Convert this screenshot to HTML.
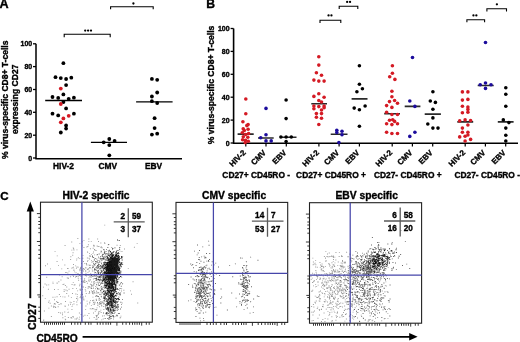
<!DOCTYPE html>
<html><head><meta charset="utf-8"><style>
html,body{margin:0;padding:0;background:#fff;overflow:hidden;width:520px;height:342px;}
svg{display:block;} svg{will-change:transform}
</style></head><body>
<svg width="520" height="342" viewBox="0 0 520 342">
<rect width="520" height="342" fill="#fff"/>
<text x="-0.4" y="8.3" font-size="12.6" font-family="&quot;Liberation Sans&quot;, sans-serif" font-weight="bold" stroke="#000" stroke-width="0.35">A</text>
<path d="M36 43.8V158.7H182" stroke="#000" stroke-width="1.5" fill="none"/>
<path d="M33 158.0H36" stroke="#000" stroke-width="1.3"/>
<text x="32.2" y="160.5" font-size="7" text-anchor="end" font-family="&quot;Liberation Sans&quot;, sans-serif" font-weight="bold" stroke="#000" stroke-width="0.35">0</text>
<path d="M33 135.2H36" stroke="#000" stroke-width="1.3"/>
<text x="32.2" y="137.7" font-size="7" text-anchor="end" font-family="&quot;Liberation Sans&quot;, sans-serif" font-weight="bold" stroke="#000" stroke-width="0.35">20</text>
<path d="M33 112.3H36" stroke="#000" stroke-width="1.3"/>
<text x="32.2" y="114.8" font-size="7" text-anchor="end" font-family="&quot;Liberation Sans&quot;, sans-serif" font-weight="bold" stroke="#000" stroke-width="0.35">40</text>
<path d="M33 89.5H36" stroke="#000" stroke-width="1.3"/>
<text x="32.2" y="92.0" font-size="7" text-anchor="end" font-family="&quot;Liberation Sans&quot;, sans-serif" font-weight="bold" stroke="#000" stroke-width="0.35">60</text>
<path d="M33 66.6H36" stroke="#000" stroke-width="1.3"/>
<text x="32.2" y="69.1" font-size="7" text-anchor="end" font-family="&quot;Liberation Sans&quot;, sans-serif" font-weight="bold" stroke="#000" stroke-width="0.35">80</text>
<path d="M33 43.8H36" stroke="#000" stroke-width="1.3"/>
<text x="32.2" y="46.3" font-size="7" text-anchor="end" font-family="&quot;Liberation Sans&quot;, sans-serif" font-weight="bold" stroke="#000" stroke-width="0.35">100</text>
<text x="63.5" y="169.0" font-size="8.4" text-anchor="middle" font-family="&quot;Liberation Sans&quot;, sans-serif" font-weight="bold" stroke="#000" stroke-width="0.35">HIV-2</text>
<text x="107.8" y="169.0" font-size="8.4" text-anchor="middle" font-family="&quot;Liberation Sans&quot;, sans-serif" font-weight="bold" stroke="#000" stroke-width="0.35">CMV</text>
<text x="153.6" y="169.0" font-size="8.4" text-anchor="middle" font-family="&quot;Liberation Sans&quot;, sans-serif" font-weight="bold" stroke="#000" stroke-width="0.35">EBV</text>
<text transform="translate(7.6,99.8) rotate(-90)" font-size="8.55" text-anchor="middle" font-family="&quot;Liberation Sans&quot;, sans-serif" font-weight="bold" stroke="#000" stroke-width="0.35">% virus-specific CD8+ T-cells</text>
<text transform="translate(17.6,99.3) rotate(-90)" font-size="8.55" text-anchor="middle" font-family="&quot;Liberation Sans&quot;, sans-serif" font-weight="bold" stroke="#000" stroke-width="0.35">expressing CD27</text>
<path d="M64.2 37.2V34.2H110.2V37.2M110.6 9.3V6.7H153.2V9.3" stroke="#000" stroke-width="1.1" fill="none"/>
<circle cx="85.20" cy="30.6" r="1.15"/><circle cx="88.10" cy="30.6" r="1.15"/><circle cx="91.00" cy="30.6" r="1.15"/>
<circle cx="133.40" cy="3.5" r="1.15"/>
<path d="M45.2 100.5H82M90.9 142.3H127M136.1 101.9H172.6" stroke="#000" stroke-width="1.3"/>
<g fill="#000"><circle cx="63.4" cy="63.2" r="1.9"/><circle cx="55.5" cy="77.2" r="1.9"/><circle cx="60.8" cy="78.1" r="1.9"/><circle cx="66.1" cy="79" r="1.9"/><circle cx="71.3" cy="77.7" r="1.9"/><circle cx="66.1" cy="85.1" r="1.9"/><circle cx="63.4" cy="94.4" r="1.9"/><circle cx="52.5" cy="97" r="1.9"/><circle cx="58.2" cy="97.9" r="1.9"/><circle cx="68.7" cy="98.8" r="1.9"/><circle cx="73.9" cy="97.7" r="1.9"/><circle cx="63.4" cy="102" r="1.9"/><circle cx="66.1" cy="108.4" r="1.9"/><circle cx="52.5" cy="113.7" r="1.9"/><circle cx="58.2" cy="115.4" r="1.9"/><circle cx="73.9" cy="113.7" r="1.9"/><circle cx="66.1" cy="125.4" r="1.9"/><circle cx="66.1" cy="128.6" r="1.9"/><circle cx="60.8" cy="132.5" r="1.9"/><circle cx="109.3" cy="139" r="1.9"/><circle cx="103.7" cy="142.3" r="1.9"/><circle cx="114.6" cy="140.9" r="1.9"/><circle cx="109.3" cy="145.1" r="1.9"/><circle cx="109.3" cy="155.3" r="1.9"/><circle cx="151.9" cy="78.9" r="1.9"/><circle cx="157.2" cy="79.8" r="1.9"/><circle cx="157.2" cy="92.5" r="1.9"/><circle cx="151.9" cy="96.5" r="1.9"/><circle cx="151.9" cy="101.2" r="1.9"/><circle cx="157.2" cy="103" r="1.9"/><circle cx="154.6" cy="118.2" r="1.9"/><circle cx="154.6" cy="128.1" r="1.9"/><circle cx="151.9" cy="134.6" r="1.9"/><circle cx="157.2" cy="133.7" r="1.9"/></g>
<g fill="#d41a24"><circle cx="60.8" cy="88.6" r="1.9"/><circle cx="60.8" cy="104" r="1.9"/><circle cx="68.7" cy="115.8" r="1.9"/><circle cx="63.4" cy="118.4" r="1.9"/><circle cx="60.8" cy="122.3" r="1.9"/></g>
<text x="206.2" y="8.3" font-size="12.2" font-family="&quot;Liberation Sans&quot;, sans-serif" font-weight="bold" stroke="#000" stroke-width="0.35">B</text>
<path d="M233.6 28.5V143.2H518" stroke="#000" stroke-width="1.6" fill="none"/>
<path d="M230.6 143.0H233.6" stroke="#000" stroke-width="1.3"/>
<text x="229.6" y="145.5" font-size="7" text-anchor="end" font-family="&quot;Liberation Sans&quot;, sans-serif" font-weight="bold" stroke="#000" stroke-width="0.35">0</text>
<path d="M230.6 120.1H233.6" stroke="#000" stroke-width="1.3"/>
<text x="229.6" y="122.6" font-size="7" text-anchor="end" font-family="&quot;Liberation Sans&quot;, sans-serif" font-weight="bold" stroke="#000" stroke-width="0.35">20</text>
<path d="M230.6 97.2H233.6" stroke="#000" stroke-width="1.3"/>
<text x="229.6" y="99.7" font-size="7" text-anchor="end" font-family="&quot;Liberation Sans&quot;, sans-serif" font-weight="bold" stroke="#000" stroke-width="0.35">40</text>
<path d="M230.6 74.3H233.6" stroke="#000" stroke-width="1.3"/>
<text x="229.6" y="76.8" font-size="7" text-anchor="end" font-family="&quot;Liberation Sans&quot;, sans-serif" font-weight="bold" stroke="#000" stroke-width="0.35">60</text>
<path d="M230.6 51.4H233.6" stroke="#000" stroke-width="1.3"/>
<text x="229.6" y="53.9" font-size="7" text-anchor="end" font-family="&quot;Liberation Sans&quot;, sans-serif" font-weight="bold" stroke="#000" stroke-width="0.35">80</text>
<path d="M230.6 28.5H233.6" stroke="#000" stroke-width="1.3"/>
<text x="229.6" y="31.0" font-size="7" text-anchor="end" font-family="&quot;Liberation Sans&quot;, sans-serif" font-weight="bold" stroke="#000" stroke-width="0.35">100</text>
<text transform="translate(214.4,84.9) rotate(-90)" font-size="8.55" text-anchor="middle" font-family="&quot;Liberation Sans&quot;, sans-serif" font-weight="bold" stroke="#000" stroke-width="0.35">% virus-specific CD8+ T-cells</text>
<path d="M245.8 143V146.5" stroke="#000" stroke-width="1.2"/>
<text transform="translate(246.4,153.2) rotate(-45)" font-size="7.9" text-anchor="end" font-family="&quot;Liberation Sans&quot;, sans-serif" font-weight="bold" stroke="#000" stroke-width="0.35">HIV-2</text>
<path d="M266.0 143V146.5" stroke="#000" stroke-width="1.2"/>
<text transform="translate(266.6,153.2) rotate(-45)" font-size="7.9" text-anchor="end" font-family="&quot;Liberation Sans&quot;, sans-serif" font-weight="bold" stroke="#000" stroke-width="0.35">CMV</text>
<path d="M286.3 143V146.5" stroke="#000" stroke-width="1.2"/>
<text transform="translate(286.9,153.2) rotate(-45)" font-size="7.9" text-anchor="end" font-family="&quot;Liberation Sans&quot;, sans-serif" font-weight="bold" stroke="#000" stroke-width="0.35">EBV</text>
<path d="M318.9 143V146.5" stroke="#000" stroke-width="1.2"/>
<text transform="translate(319.5,153.2) rotate(-45)" font-size="7.9" text-anchor="end" font-family="&quot;Liberation Sans&quot;, sans-serif" font-weight="bold" stroke="#000" stroke-width="0.35">HIV-2</text>
<path d="M339.1 143V146.5" stroke="#000" stroke-width="1.2"/>
<text transform="translate(339.7,153.2) rotate(-45)" font-size="7.9" text-anchor="end" font-family="&quot;Liberation Sans&quot;, sans-serif" font-weight="bold" stroke="#000" stroke-width="0.35">CMV</text>
<path d="M359.4 143V146.5" stroke="#000" stroke-width="1.2"/>
<text transform="translate(360.0,153.2) rotate(-45)" font-size="7.9" text-anchor="end" font-family="&quot;Liberation Sans&quot;, sans-serif" font-weight="bold" stroke="#000" stroke-width="0.35">EBV</text>
<path d="M392.2 143V146.5" stroke="#000" stroke-width="1.2"/>
<text transform="translate(392.8,153.2) rotate(-45)" font-size="7.9" text-anchor="end" font-family="&quot;Liberation Sans&quot;, sans-serif" font-weight="bold" stroke="#000" stroke-width="0.35">HIV-2</text>
<path d="M412.4 143V146.5" stroke="#000" stroke-width="1.2"/>
<text transform="translate(413.0,153.2) rotate(-45)" font-size="7.9" text-anchor="end" font-family="&quot;Liberation Sans&quot;, sans-serif" font-weight="bold" stroke="#000" stroke-width="0.35">CMV</text>
<path d="M432.7 143V146.5" stroke="#000" stroke-width="1.2"/>
<text transform="translate(433.3,153.2) rotate(-45)" font-size="7.9" text-anchor="end" font-family="&quot;Liberation Sans&quot;, sans-serif" font-weight="bold" stroke="#000" stroke-width="0.35">EBV</text>
<path d="M465.2 143V146.5" stroke="#000" stroke-width="1.2"/>
<text transform="translate(465.8,153.2) rotate(-45)" font-size="7.9" text-anchor="end" font-family="&quot;Liberation Sans&quot;, sans-serif" font-weight="bold" stroke="#000" stroke-width="0.35">HIV-2</text>
<path d="M485.4 143V146.5" stroke="#000" stroke-width="1.2"/>
<text transform="translate(486.0,153.2) rotate(-45)" font-size="7.9" text-anchor="end" font-family="&quot;Liberation Sans&quot;, sans-serif" font-weight="bold" stroke="#000" stroke-width="0.35">CMV</text>
<path d="M505.7 143V146.5" stroke="#000" stroke-width="1.2"/>
<text transform="translate(506.3,153.2) rotate(-45)" font-size="7.9" text-anchor="end" font-family="&quot;Liberation Sans&quot;, sans-serif" font-weight="bold" stroke="#000" stroke-width="0.35">EBV</text>
<text x="256.2" y="177.7" font-size="8.4" text-anchor="middle" font-family="&quot;Liberation Sans&quot;, sans-serif" font-weight="bold" stroke="#000" stroke-width="0.35">CD27+ CD45RO -</text>
<text x="331" y="177.7" font-size="8.4" text-anchor="middle" font-family="&quot;Liberation Sans&quot;, sans-serif" font-weight="bold" stroke="#000" stroke-width="0.35">CD27+ CD45RO +</text>
<text x="407.8" y="177.7" font-size="8.4" text-anchor="middle" font-family="&quot;Liberation Sans&quot;, sans-serif" font-weight="bold" stroke="#000" stroke-width="0.35">CD27- CD45RO +</text>
<text x="487.2" y="177.7" font-size="8.4" text-anchor="middle" font-family="&quot;Liberation Sans&quot;, sans-serif" font-weight="bold" stroke="#000" stroke-width="0.35">CD27- CD45RO -</text>
<path d="M320 23.1V20.2H340.8V23.1M339.2 9.1V6.25H357.8V9.1M466.9 22.3V19.7H484.6V22.3M486.9 11.5V8.8H506.5V11.5" stroke="#000" stroke-width="1.1" fill="none"/>
<circle cx="328.55" cy="15.4" r="1.15"/><circle cx="331.45" cy="15.4" r="1.15"/>
<circle cx="347.15" cy="1.9" r="1.15"/><circle cx="350.05" cy="1.9" r="1.15"/>
<circle cx="473.45" cy="15.4" r="1.15"/><circle cx="476.35" cy="15.4" r="1.15"/>
<circle cx="496.90" cy="4.3" r="1.15"/>
<path d="M237.6 133.7H253.7M258 137.6H273.7M281 136.8H296.5M311.3 103.4H327M330.7 133.8H347.5M351.6 98.5H367.5M384.2 113.3H400M404.7 106H420.4M424.7 113.7H440.9M457.3 121.5H473.2M477.7 85.1H493.7M497.8 121.5H513.6" stroke="#2a2a2a" stroke-width="1.6" transform="translate(0,0.4)"/>
<g fill="#d41a24"><circle cx="245.8" cy="99" r="1.8"/><circle cx="245.8" cy="113.8" r="1.8"/><circle cx="242.9" cy="121.7" r="1.8"/><circle cx="248.1" cy="124.6" r="1.8"/><circle cx="246.8" cy="125.6" r="1.8"/><circle cx="243.2" cy="128.7" r="1.8"/><circle cx="248.1" cy="129.3" r="1.8"/><circle cx="244.3" cy="130.5" r="1.8"/><circle cx="242.3" cy="132.8" r="1.8"/><circle cx="245.6" cy="134.5" r="1.8"/><circle cx="248.6" cy="133.5" r="1.8"/><circle cx="243.3" cy="136.8" r="1.8"/><circle cx="247.8" cy="137.2" r="1.8"/><circle cx="242.6" cy="139.8" r="1.8"/><circle cx="245.5" cy="140.2" r="1.8"/><circle cx="248.3" cy="141.2" r="1.8"/><circle cx="245.2" cy="142.6" r="1.8"/><circle cx="318.8" cy="56.7" r="1.8"/><circle cx="318.8" cy="65.1" r="1.8"/><circle cx="316.4" cy="72.7" r="1.8"/><circle cx="321.5" cy="75.3" r="1.8"/><circle cx="313.9" cy="80.1" r="1.8"/><circle cx="318.8" cy="81.1" r="1.8"/><circle cx="324.1" cy="81.1" r="1.8"/><circle cx="318.8" cy="93.8" r="1.8"/><circle cx="313.9" cy="96.4" r="1.8"/><circle cx="324.1" cy="97.2" r="1.8"/><circle cx="318.8" cy="100.5" r="1.8"/><circle cx="321.5" cy="102" r="1.8"/><circle cx="313.9" cy="106" r="1.8"/><circle cx="318.8" cy="106.6" r="1.8"/><circle cx="324.1" cy="106" r="1.8"/><circle cx="313.9" cy="108.7" r="1.8"/><circle cx="321.5" cy="110" r="1.8"/><circle cx="324.1" cy="107.8" r="1.8"/><circle cx="316.4" cy="113.6" r="1.8"/><circle cx="321.5" cy="113.6" r="1.8"/><circle cx="316.4" cy="117.3" r="1.8"/><circle cx="321.5" cy="118.3" r="1.8"/><circle cx="318.8" cy="124.5" r="1.8"/><circle cx="392.4" cy="65.7" r="1.8"/><circle cx="392.4" cy="73.3" r="1.8"/><circle cx="389.7" cy="76.8" r="1.8"/><circle cx="394.9" cy="79.4" r="1.8"/><circle cx="391.9" cy="91.3" r="1.8"/><circle cx="391.9" cy="96.8" r="1.8"/><circle cx="389.5" cy="101.6" r="1.8"/><circle cx="394.6" cy="100.5" r="1.8"/><circle cx="397.5" cy="103.2" r="1.8"/><circle cx="386.6" cy="105.6" r="1.8"/><circle cx="391.9" cy="107.4" r="1.8"/><circle cx="386.6" cy="112.2" r="1.8"/><circle cx="391.9" cy="114.5" r="1.8"/><circle cx="397.5" cy="114.5" r="1.8"/><circle cx="389.5" cy="120.3" r="1.8"/><circle cx="392.7" cy="119.8" r="1.8"/><circle cx="394.6" cy="121.4" r="1.8"/><circle cx="386.6" cy="123.8" r="1.8"/><circle cx="391.9" cy="124.6" r="1.8"/><circle cx="397.5" cy="123.8" r="1.8"/><circle cx="386.6" cy="132.2" r="1.8"/><circle cx="391.9" cy="133.5" r="1.8"/><circle cx="397.5" cy="133.5" r="1.8"/><circle cx="462.4" cy="91.9" r="1.8"/><circle cx="467.9" cy="91.9" r="1.8"/><circle cx="462.4" cy="100.1" r="1.8"/><circle cx="467.9" cy="99.4" r="1.8"/><circle cx="462.4" cy="106.2" r="1.8"/><circle cx="467.9" cy="107" r="1.8"/><circle cx="462.4" cy="112.7" r="1.8"/><circle cx="467.9" cy="112.3" r="1.8"/><circle cx="467.9" cy="109.4" r="1.8"/><circle cx="459.7" cy="120.9" r="1.8"/><circle cx="465.1" cy="119.9" r="1.8"/><circle cx="470.6" cy="120.5" r="1.8"/><circle cx="462.4" cy="128.1" r="1.8"/><circle cx="467.9" cy="125" r="1.8"/><circle cx="462.4" cy="132.2" r="1.8"/><circle cx="467.9" cy="132.2" r="1.8"/><circle cx="459.7" cy="136.9" r="1.8"/><circle cx="465.1" cy="136.3" r="1.8"/><circle cx="467.9" cy="135" r="1.8"/><circle cx="470.6" cy="139.4" r="1.8"/><circle cx="465.1" cy="141" r="1.8"/></g>
<g fill="#1c0c9c"><circle cx="266" cy="108.4" r="1.8"/><circle cx="266" cy="134.7" r="1.8"/><circle cx="260.7" cy="137.7" r="1.8"/><circle cx="266" cy="140.9" r="1.8"/><circle cx="271.2" cy="140.9" r="1.8"/><circle cx="336.8" cy="130.3" r="1.8"/><circle cx="342" cy="131.3" r="1.8"/><circle cx="342" cy="134.8" r="1.8"/><circle cx="338.9" cy="142.6" r="1.8"/><circle cx="336.8" cy="132.5" r="1.8"/><circle cx="412.5" cy="57.5" r="1.8"/><circle cx="409.8" cy="101" r="1.8"/><circle cx="414.9" cy="106.4" r="1.8"/><circle cx="414.9" cy="132.3" r="1.8"/><circle cx="409.8" cy="136.4" r="1.8"/><circle cx="485.5" cy="42.5" r="1.8"/><circle cx="480.2" cy="84.8" r="1.8"/><circle cx="485.5" cy="83" r="1.8"/><circle cx="491" cy="84.8" r="1.8"/><circle cx="485.5" cy="88.4" r="1.8"/></g>
<g fill="#000"><circle cx="286.1" cy="100" r="1.8"/><circle cx="286.1" cy="118.6" r="1.8"/><circle cx="280.9" cy="137" r="1.8"/><circle cx="286.1" cy="137" r="1.8"/><circle cx="291.3" cy="137" r="1.8"/><circle cx="286.1" cy="141.5" r="1.8"/><circle cx="359.4" cy="65.7" r="1.8"/><circle cx="359.4" cy="84.2" r="1.8"/><circle cx="362.4" cy="88.7" r="1.8"/><circle cx="356.9" cy="91.7" r="1.8"/><circle cx="354.2" cy="108.1" r="1.8"/><circle cx="359.4" cy="109.7" r="1.8"/><circle cx="365.1" cy="106" r="1.8"/><circle cx="359.4" cy="126.3" r="1.8"/><circle cx="432.9" cy="91.7" r="1.8"/><circle cx="430.3" cy="101" r="1.8"/><circle cx="435.4" cy="102.4" r="1.8"/><circle cx="432.9" cy="109.3" r="1.8"/><circle cx="432.9" cy="117.9" r="1.8"/><circle cx="427.8" cy="124" r="1.8"/><circle cx="432.9" cy="128.1" r="1.8"/><circle cx="438" cy="128.1" r="1.8"/><circle cx="505.8" cy="87.8" r="1.8"/><circle cx="505.8" cy="94.3" r="1.8"/><circle cx="505.8" cy="106.2" r="1.8"/><circle cx="503.3" cy="119.9" r="1.8"/><circle cx="508.9" cy="122.6" r="1.8"/><circle cx="505.8" cy="128.1" r="1.8"/><circle cx="505.8" cy="135.3" r="1.8"/><circle cx="505.8" cy="141" r="1.8"/></g>
<text x="0.3" y="200.0" font-size="11.6" font-family="&quot;Liberation Sans&quot;, sans-serif" font-weight="bold" stroke="#000" stroke-width="0.35">C</text>
<path d="M30.3 298.2V209" stroke="#000" stroke-width="1.9"/><path d="M30.3 201.4L33.9 211.4H26.7Z" fill="#000"/>
<path d="M82.6 336.8H410" stroke="#000" stroke-width="1.7"/><path d="M417.6 336.8L409.2 333.0V340.6Z" fill="#000"/>
<text transform="translate(36.0,316.7) rotate(-90)" font-size="10.5" text-anchor="middle" font-family="&quot;Liberation Sans&quot;, sans-serif" font-weight="bold" stroke="#000" stroke-width="0.35">CD27</text>
<text x="36.4" y="341.8" font-size="10.2" font-family="&quot;Liberation Sans&quot;, sans-serif" font-weight="bold" stroke="#000" stroke-width="0.35">CD45RO</text>
<text x="96.0" y="198.9" font-size="10.3" text-anchor="middle" font-family="&quot;Liberation Sans&quot;, sans-serif" font-weight="bold" stroke="#000" stroke-width="0.35">HIV-2 specific</text>
<rect x="40.5" y="202.2" width="111.8" height="120.0" fill="none" stroke="#222" stroke-width="1.1"/>
<text x="234.1" y="198.9" font-size="10.3" text-anchor="middle" font-family="&quot;Liberation Sans&quot;, sans-serif" font-weight="bold" stroke="#000" stroke-width="0.35">CMV specific</text>
<rect x="176.0" y="202.4" width="111.7" height="120.0" fill="none" stroke="#222" stroke-width="1.1"/>
<text x="366.7" y="198.9" font-size="10.3" text-anchor="middle" font-family="&quot;Liberation Sans&quot;, sans-serif" font-weight="bold" stroke="#000" stroke-width="0.35">EBV specific</text>
<rect x="309.5" y="202.7" width="112.1" height="120.5" fill="none" stroke="#222" stroke-width="1.1"/>
<path d="M99.9 299.2h.9v.9h-.9zM102.7 252.7h.9v.9h-.9zM95.7 261.9h.9v.9h-.9zM84.1 268.9h.9v.9h-.9zM91.3 274.1h.9v.9h-.9zM93.1 286.7h.9v.9h-.9zM109.1 287.1h.9v.9h-.9zM113.5 269.2h.9v.9h-.9zM99.0 267.9h.9v.9h-.9zM85.0 274.6h.9v.9h-.9zM85.2 287.2h.9v.9h-.9zM91.7 285.2h.9v.9h-.9zM110.7 265.7h.9v.9h-.9zM98.0 241.1h.9v.9h-.9zM93.3 308.3h.9v.9h-.9zM84.8 289.2h.9v.9h-.9zM104.6 278.2h.9v.9h-.9zM97.5 279.4h.9v.9h-.9zM93.4 265.7h.9v.9h-.9zM95.2 258.0h.9v.9h-.9zM114.2 268.7h.9v.9h-.9zM92.1 270.4h.9v.9h-.9zM114.3 264.0h.9v.9h-.9zM108.9 250.7h.9v.9h-.9zM94.6 269.0h.9v.9h-.9zM104.6 283.2h.9v.9h-.9zM92.5 266.1h.9v.9h-.9zM84.1 274.4h.9v.9h-.9zM90.8 240.9h.9v.9h-.9zM83.1 270.7h.9v.9h-.9zM100.1 272.0h.9v.9h-.9zM94.2 254.4h.9v.9h-.9zM100.8 246.3h.9v.9h-.9zM103.9 280.6h.9v.9h-.9zM56.6 261.0h.9v.9h-.9zM97.7 281.8h.9v.9h-.9zM72.4 267.3h.9v.9h-.9zM96.0 284.0h.9v.9h-.9zM83.5 268.6h.9v.9h-.9zM95.3 249.9h.9v.9h-.9zM110.4 272.6h.9v.9h-.9zM73.5 268.7h.9v.9h-.9zM96.3 284.5h.9v.9h-.9zM93.1 266.8h.9v.9h-.9zM71.3 267.7h.9v.9h-.9zM101.8 287.8h.9v.9h-.9zM94.4 292.7h.9v.9h-.9zM87.9 286.2h.9v.9h-.9zM85.3 290.6h.9v.9h-.9zM132.6 281.3h.9v.9h-.9zM89.3 286.3h.9v.9h-.9zM72.4 288.1h.9v.9h-.9zM82.8 280.5h.9v.9h-.9zM89.6 275.0h.9v.9h-.9zM89.4 276.3h.9v.9h-.9zM93.1 312.5h.9v.9h-.9zM81.4 274.2h.9v.9h-.9zM100.5 270.2h.9v.9h-.9zM88.2 268.2h.9v.9h-.9zM77.7 273.5h.9v.9h-.9zM84.2 277.9h.9v.9h-.9zM89.4 255.9h.9v.9h-.9zM104.2 242.3h.9v.9h-.9zM99.8 278.7h.9v.9h-.9zM89.9 248.3h.9v.9h-.9zM94.2 278.1h.9v.9h-.9zM96.6 276.2h.9v.9h-.9zM118.5 292.4h.9v.9h-.9zM86.6 300.7h.9v.9h-.9zM99.6 279.9h.9v.9h-.9zM102.7 265.1h.9v.9h-.9zM82.6 255.2h.9v.9h-.9zM96.3 261.3h.9v.9h-.9zM96.0 274.6h.9v.9h-.9zM88.4 240.9h.9v.9h-.9zM100.8 275.2h.9v.9h-.9zM106.3 273.8h.9v.9h-.9zM107.6 284.3h.9v.9h-.9zM91.7 268.6h.9v.9h-.9zM96.3 275.6h.9v.9h-.9zM122.2 262.2h.9v.9h-.9zM80.8 266.6h.9v.9h-.9zM96.7 245.6h.9v.9h-.9zM104.7 276.0h.9v.9h-.9zM95.8 298.8h.9v.9h-.9zM101.9 276.6h.9v.9h-.9zM96.1 279.9h.9v.9h-.9zM103.0 258.3h.9v.9h-.9zM109.4 296.9h.9v.9h-.9zM91.3 261.7h.9v.9h-.9zM96.4 286.8h.9v.9h-.9zM93.3 275.7h.9v.9h-.9zM89.2 258.7h.9v.9h-.9zM93.8 290.4h.9v.9h-.9zM80.4 274.2h.9v.9h-.9zM102.9 276.9h.9v.9h-.9zM114.4 281.2h.9v.9h-.9zM114.5 273.7h.9v.9h-.9zM109.3 267.9h.9v.9h-.9zM82.4 281.5h.9v.9h-.9zM112.2 267.5h.9v.9h-.9zM85.4 275.0h.9v.9h-.9zM93.4 263.3h.9v.9h-.9zM116.2 250.2h.9v.9h-.9zM81.1 263.2h.9v.9h-.9zM104.1 266.1h.9v.9h-.9zM97.4 274.2h.9v.9h-.9zM92.2 293.0h.9v.9h-.9zM83.5 247.0h.9v.9h-.9zM99.1 276.1h.9v.9h-.9zM88.4 238.6h.9v.9h-.9zM106.5 257.3h.9v.9h-.9zM108.7 265.9h.9v.9h-.9zM77.4 238.0h.9v.9h-.9zM87.9 244.3h.9v.9h-.9zM90.2 276.5h.9v.9h-.9zM79.8 275.2h.9v.9h-.9zM80.6 272.2h.9v.9h-.9zM95.1 261.1h.9v.9h-.9zM91.5 308.5h.9v.9h-.9zM74.2 271.4h.9v.9h-.9zM87.5 260.2h.9v.9h-.9zM100.2 300.9h.9v.9h-.9zM79.5 283.8h.9v.9h-.9zM82.9 268.1h.9v.9h-.9zM113.1 293.1h.9v.9h-.9zM109.8 276.5h.9v.9h-.9zM74.5 284.3h.9v.9h-.9zM77.8 277.8h.9v.9h-.9zM98.5 257.5h.9v.9h-.9zM79.7 289.5h.9v.9h-.9zM91.0 276.6h.9v.9h-.9zM88.6 257.8h.9v.9h-.9zM100.7 261.8h.9v.9h-.9zM63.7 289.3h.9v.9h-.9zM67.6 268.1h.9v.9h-.9zM79.3 274.7h.9v.9h-.9zM106.2 284.5h.9v.9h-.9zM92.1 276.1h.9v.9h-.9zM73.5 249.6h.9v.9h-.9zM99.9 284.2h.9v.9h-.9zM102.5 289.0h.9v.9h-.9zM91.0 287.9h.9v.9h-.9zM90.0 299.9h.9v.9h-.9zM99.3 279.8h.9v.9h-.9zM108.5 286.4h.9v.9h-.9zM95.8 299.4h.9v.9h-.9zM100.4 269.3h.9v.9h-.9zM93.4 301.8h.9v.9h-.9zM89.4 301.8h.9v.9h-.9zM83.0 286.5h.9v.9h-.9zM97.1 303.4h.9v.9h-.9zM90.4 287.6h.9v.9h-.9zM91.1 259.9h.9v.9h-.9zM105.2 292.2h.9v.9h-.9zM99.9 279.2h.9v.9h-.9zM104.4 280.6h.9v.9h-.9zM75.1 276.5h.9v.9h-.9zM100.7 295.8h.9v.9h-.9zM86.9 282.8h.9v.9h-.9zM84.3 262.9h.9v.9h-.9zM83.8 281.8h.9v.9h-.9zM108.5 285.7h.9v.9h-.9zM103.9 262.4h.9v.9h-.9zM85.4 267.1h.9v.9h-.9zM80.3 267.9h.9v.9h-.9zM94.2 264.3h.9v.9h-.9zM88.5 279.6h.9v.9h-.9zM113.9 290.3h.9v.9h-.9zM76.5 304.3h.9v.9h-.9zM72.0 293.1h.9v.9h-.9zM90.9 290.4h.9v.9h-.9zM94.1 292.3h.9v.9h-.9zM95.6 295.4h.9v.9h-.9zM103.0 268.0h.9v.9h-.9zM118.9 285.1h.9v.9h-.9zM89.9 279.2h.9v.9h-.9zM87.5 271.9h.9v.9h-.9zM72.9 266.7h.9v.9h-.9zM96.9 265.9h.9v.9h-.9zM104.2 269.7h.9v.9h-.9zM90.9 254.2h.9v.9h-.9zM108.2 282.3h.9v.9h-.9zM94.4 273.6h.9v.9h-.9zM112.2 275.7h.9v.9h-.9zM98.0 279.4h.9v.9h-.9zM81.3 285.6h.9v.9h-.9zM86.4 264.5h.9v.9h-.9zM75.6 272.3h.9v.9h-.9zM73.2 248.3h.9v.9h-.9zM97.2 238.5h.9v.9h-.9zM104.4 243.0h.9v.9h-.9zM117.5 298.6h.9v.9h-.9zM93.3 244.8h.9v.9h-.9zM91.2 281.6h.9v.9h-.9zM80.7 297.6h.9v.9h-.9zM105.8 266.7h.9v.9h-.9zM98.7 300.1h.9v.9h-.9zM86.9 303.6h.9v.9h-.9zM102.3 289.1h.9v.9h-.9zM100.7 312.0h.9v.9h-.9zM71.6 284.0h.9v.9h-.9zM102.9 262.3h.9v.9h-.9zM95.6 282.4h.9v.9h-.9zM89.3 266.9h.9v.9h-.9zM89.0 253.2h.9v.9h-.9zM115.0 253.6h.9v.9h-.9zM112.4 311.1h.9v.9h-.9zM115.9 265.4h.9v.9h-.9zM80.2 273.7h.9v.9h-.9zM86.1 263.5h.9v.9h-.9zM104.9 276.3h.9v.9h-.9zM79.5 270.3h.9v.9h-.9zM85.4 267.6h.9v.9h-.9zM72.3 254.8h.9v.9h-.9zM116.2 251.6h.9v.9h-.9zM106.8 262.3h.9v.9h-.9zM99.5 278.9h.9v.9h-.9zM96.6 307.4h.9v.9h-.9zM89.0 291.1h.9v.9h-.9zM89.2 303.4h.9v.9h-.9zM101.4 282.0h.9v.9h-.9zM85.5 272.8h.9v.9h-.9zM108.7 253.0h.9v.9h-.9zM88.1 274.3h.9v.9h-.9zM83.5 239.9h.9v.9h-.9zM109.6 269.5h.9v.9h-.9zM92.3 300.3h.9v.9h-.9zM100.7 279.5h.9v.9h-.9zM89.0 292.3h.9v.9h-.9zM67.0 268.2h.9v.9h-.9zM100.6 252.3h.9v.9h-.9zM77.8 266.7h.9v.9h-.9zM107.0 268.0h.9v.9h-.9zM75.4 293.6h.9v.9h-.9zM71.6 305.9h.9v.9h-.9zM97.7 262.5h.9v.9h-.9zM99.1 268.6h.9v.9h-.9zM95.3 272.0h.9v.9h-.9zM79.4 268.8h.9v.9h-.9zM104.7 254.5h.9v.9h-.9zM76.4 275.9h.9v.9h-.9zM88.4 280.2h.9v.9h-.9zM84.5 280.6h.9v.9h-.9zM89.5 255.1h.9v.9h-.9zM104.2 272.6h.9v.9h-.9zM86.4 246.6h.9v.9h-.9zM100.8 289.0h.9v.9h-.9zM102.3 258.1h.9v.9h-.9zM73.5 270.0h.9v.9h-.9zM80.0 267.2h.9v.9h-.9zM89.4 265.1h.9v.9h-.9zM86.9 257.5h.9v.9h-.9zM97.7 246.2h.9v.9h-.9zM70.8 302.2h.9v.9h-.9zM102.6 278.5h.9v.9h-.9zM102.9 278.7h.9v.9h-.9zM92.0 308.1h.9v.9h-.9zM77.4 272.9h.9v.9h-.9zM94.1 283.3h.9v.9h-.9zM87.6 274.8h.9v.9h-.9zM100.8 293.5h.9v.9h-.9zM93.0 282.5h.9v.9h-.9zM102.7 279.5h.9v.9h-.9zM88.8 270.4h.9v.9h-.9zM111.3 279.0h.9v.9h-.9zM66.3 293.1h.9v.9h-.9zM81.8 241.3h.9v.9h-.9zM99.9 272.4h.9v.9h-.9zM75.9 267.8h.9v.9h-.9zM102.8 269.7h.9v.9h-.9zM79.4 242.9h.9v.9h-.9zM95.1 286.2h.9v.9h-.9zM83.0 261.0h.9v.9h-.9zM88.7 270.9h.9v.9h-.9zM96.1 266.5h.9v.9h-.9zM92.7 247.8h.9v.9h-.9zM89.4 267.4h.9v.9h-.9zM119.8 245.1h.9v.9h-.9zM94.1 259.4h.9v.9h-.9zM82.4 269.5h.9v.9h-.9zM105.1 274.5h.9v.9h-.9zM103.8 275.4h.9v.9h-.9zM108.7 272.3h.9v.9h-.9zM115.4 308.7h.9v.9h-.9zM82.7 281.5h.9v.9h-.9zM106.7 255.0h.9v.9h-.9zM107.7 264.7h.9v.9h-.9zM94.0 264.0h.9v.9h-.9zM96.9 271.7h.9v.9h-.9zM58.0 264.9h.9v.9h-.9zM87.1 260.8h.9v.9h-.9zM115.5 300.9h.9v.9h-.9zM72.6 275.2h.9v.9h-.9zM87.6 269.1h.9v.9h-.9zM97.5 270.5h.9v.9h-.9zM100.9 271.1h.9v.9h-.9zM113.6 296.8h.9v.9h-.9zM72.8 282.2h.9v.9h-.9zM94.5 292.5h.9v.9h-.9zM104.3 224.7h.9v.9h-.9zM78.2 279.8h.9v.9h-.9zM93.5 291.5h.9v.9h-.9zM116.6 306.1h.9v.9h-.9zM109.8 275.0h.9v.9h-.9zM100.5 247.1h.9v.9h-.9zM62.6 284.0h.9v.9h-.9zM92.4 265.0h.9v.9h-.9zM98.6 245.9h.9v.9h-.9zM90.3 264.7h.9v.9h-.9zM93.2 291.5h.9v.9h-.9zM131.0 293.8h.9v.9h-.9zM91.4 286.1h.9v.9h-.9zM82.4 257.8h.9v.9h-.9zM96.9 314.8h.9v.9h-.9zM90.2 255.9h.9v.9h-.9zM90.3 273.3h.9v.9h-.9zM93.0 251.5h.9v.9h-.9zM103.3 295.7h.9v.9h-.9zM96.9 281.7h.9v.9h-.9zM79.6 288.8h.9v.9h-.9zM92.4 276.0h.9v.9h-.9zM99.7 273.5h.9v.9h-.9zM88.4 277.4h.9v.9h-.9zM107.8 244.4h.9v.9h-.9zM103.3 290.5h.9v.9h-.9zM82.1 289.2h.9v.9h-.9zM97.8 268.4h.9v.9h-.9zM117.8 274.4h.9v.9h-.9zM112.7 279.4h.9v.9h-.9zM93.3 299.8h.9v.9h-.9zM104.8 281.6h.9v.9h-.9zM85.9 275.3h.9v.9h-.9zM76.6 266.5h.9v.9h-.9zM100.7 250.6h.9v.9h-.9zM97.0 265.1h.9v.9h-.9zM100.2 275.8h.9v.9h-.9zM93.7 270.6h.9v.9h-.9zM97.9 275.9h.9v.9h-.9zM87.8 286.6h.9v.9h-.9zM99.7 281.7h.9v.9h-.9zM104.0 279.1h.9v.9h-.9zM93.3 285.2h.9v.9h-.9zM103.8 277.7h.9v.9h-.9zM72.7 274.2h.9v.9h-.9zM84.6 282.2h.9v.9h-.9zM111.3 247.1h.9v.9h-.9zM115.1 294.8h.9v.9h-.9zM97.0 254.1h.9v.9h-.9zM92.8 288.1h.9v.9h-.9zM78.8 275.0h.9v.9h-.9zM98.4 292.5h.9v.9h-.9zM103.3 275.3h.9v.9h-.9zM76.2 259.7h.9v.9h-.9zM100.7 291.9h.9v.9h-.9zM99.9 277.7h.9v.9h-.9zM99.3 276.7h.9v.9h-.9zM80.5 276.1h.9v.9h-.9zM100.5 290.8h.9v.9h-.9zM76.0 287.9h.9v.9h-.9zM111.9 278.5h.9v.9h-.9zM95.6 250.0h.9v.9h-.9zM80.0 268.3h.9v.9h-.9zM110.1 276.5h.9v.9h-.9zM107.8 303.5h.9v.9h-.9zM86.2 281.0h.9v.9h-.9zM120.4 273.4h.9v.9h-.9zM82.0 294.0h.9v.9h-.9zM97.8 273.1h.9v.9h-.9zM108.2 274.4h.9v.9h-.9zM66.8 277.4h.9v.9h-.9zM106.0 250.9h.9v.9h-.9zM93.2 290.2h.9v.9h-.9zM93.8 281.7h.9v.9h-.9zM81.1 270.3h.9v.9h-.9zM98.0 256.6h.9v.9h-.9zM80.7 278.3h.9v.9h-.9zM82.4 297.3h.9v.9h-.9zM88.6 264.6h.9v.9h-.9zM79.3 257.9h.9v.9h-.9zM107.2 293.6h.9v.9h-.9zM76.5 249.4h.9v.9h-.9zM85.9 263.0h.9v.9h-.9zM99.5 279.8h.9v.9h-.9zM72.1 304.4h.9v.9h-.9zM79.6 296.9h.9v.9h-.9zM92.7 303.7h.9v.9h-.9zM72.8 247.4h.9v.9h-.9zM59.2 274.7h.9v.9h-.9zM116.1 296.2h.9v.9h-.9zM56.9 302.0h.9v.9h-.9zM121.2 288.3h.9v.9h-.9zM111.9 272.1h.9v.9h-.9zM84.0 279.6h.9v.9h-.9zM113.0 307.9h.9v.9h-.9zM50.9 305.6h.9v.9h-.9zM92.5 274.6h.9v.9h-.9zM76.8 317.6h.9v.9h-.9zM72.6 252.3h.9v.9h-.9zM115.2 273.5h.9v.9h-.9zM47.9 288.8h.9v.9h-.9zM113.0 310.2h.9v.9h-.9zM52.5 296.8h.9v.9h-.9zM100.6 303.2h.9v.9h-.9zM71.4 317.6h.9v.9h-.9zM89.9 283.8h.9v.9h-.9zM117.2 268.7h.9v.9h-.9zM108.7 286.8h.9v.9h-.9zM54.6 296.7h.9v.9h-.9zM73.0 264.0h.9v.9h-.9zM87.1 251.4h.9v.9h-.9zM103.3 306.0h.9v.9h-.9zM43.3 319.5h.9v.9h-.9zM113.2 316.7h.9v.9h-.9zM111.7 284.5h.9v.9h-.9zM119.2 289.8h.9v.9h-.9zM64.3 311.5h.9v.9h-.9zM65.2 319.3h.9v.9h-.9zM111.1 283.1h.9v.9h-.9zM89.0 317.7h.9v.9h-.9zM68.0 304.5h.9v.9h-.9zM45.1 265.3h.9v.9h-.9zM65.5 289.6h.9v.9h-.9zM100.4 242.5h.9v.9h-.9zM104.4 286.7h.9v.9h-.9zM76.9 294.2h.9v.9h-.9zM116.7 309.9h.9v.9h-.9zM88.7 281.2h.9v.9h-.9zM89.2 301.8h.9v.9h-.9zM80.0 302.5h.9v.9h-.9zM80.7 294.3h.9v.9h-.9zM77.2 299.7h.9v.9h-.9zM110.6 290.2h.9v.9h-.9zM83.5 299.5h.9v.9h-.9zM66.8 290.3h.9v.9h-.9zM83.1 315.7h.9v.9h-.9zM117.2 261.6h.9v.9h-.9zM97.9 313.3h.9v.9h-.9zM55.2 307.1h.9v.9h-.9zM81.9 245.4h.9v.9h-.9zM85.5 305.6h.9v.9h-.9zM44.6 283.5h.9v.9h-.9zM119.5 293.2h.9v.9h-.9zM116.6 293.9h.9v.9h-.9zM54.8 306.5h.9v.9h-.9zM91.8 291.9h.9v.9h-.9zM73.5 301.0h.9v.9h-.9zM65.1 272.2h.9v.9h-.9zM70.4 256.3h.9v.9h-.9zM49.7 302.8h.9v.9h-.9zM101.3 319.4h.9v.9h-.9zM77.9 257.3h.9v.9h-.9zM102.1 315.6h.9v.9h-.9zM109.9 285.1h.9v.9h-.9zM93.2 302.0h.9v.9h-.9zM76.0 276.1h.9v.9h-.9zM58.6 304.1h.9v.9h-.9zM98.8 288.6h.9v.9h-.9zM100.4 309.7h.9v.9h-.9zM107.7 277.0h.9v.9h-.9zM58.4 281.3h.9v.9h-.9zM48.8 300.4h.9v.9h-.9zM114.2 260.7h.9v.9h-.9zM95.6 318.8h.9v.9h-.9zM54.1 299.3h.9v.9h-.9zM102.8 318.7h.9v.9h-.9zM50.0 268.4h.9v.9h-.9zM97.4 305.1h.9v.9h-.9zM91.9 270.6h.9v.9h-.9zM103.2 258.0h.9v.9h-.9zM54.1 289.1h.9v.9h-.9zM116.1 290.9h.9v.9h-.9zM118.2 296.4h.9v.9h-.9zM121.0 290.6h.9v.9h-.9zM106.6 270.1h.9v.9h-.9zM73.5 303.6h.9v.9h-.9zM120.6 276.1h.9v.9h-.9zM96.2 278.1h.9v.9h-.9zM103.4 309.0h.9v.9h-.9zM99.5 303.6h.9v.9h-.9zM64.7 306.1h.9v.9h-.9zM112.5 316.2h.9v.9h-.9zM98.5 312.7h.9v.9h-.9zM65.9 272.2h.9v.9h-.9zM78.7 318.8h.9v.9h-.9zM58.9 294.0h.9v.9h-.9zM82.9 296.4h.9v.9h-.9zM121.3 277.2h.9v.9h-.9zM79.2 285.3h.9v.9h-.9zM80.1 296.3h.9v.9h-.9zM109.1 250.4h.9v.9h-.9zM52.9 305.7h.9v.9h-.9zM56.6 282.5h.9v.9h-.9zM105.3 304.1h.9v.9h-.9zM57.7 306.3h.9v.9h-.9zM96.0 300.0h.9v.9h-.9zM110.0 256.9h.9v.9h-.9zM92.5 296.7h.9v.9h-.9zM52.6 282.9h.9v.9h-.9zM64.6 305.4h.9v.9h-.9zM90.9 305.2h.9v.9h-.9zM119.0 292.9h.9v.9h-.9zM98.9 306.3h.9v.9h-.9zM101.9 265.0h.9v.9h-.9zM94.8 310.8h.9v.9h-.9zM74.6 318.5h.9v.9h-.9zM95.7 315.1h.9v.9h-.9zM43.9 310.6h.9v.9h-.9zM81.5 286.5h.9v.9h-.9zM109.7 316.7h.9v.9h-.9zM64.5 296.6h.9v.9h-.9zM98.6 271.8h.9v.9h-.9zM103.5 295.4h.9v.9h-.9zM60.1 312.6h.9v.9h-.9zM112.8 303.4h.9v.9h-.9zM67.9 311.7h.9v.9h-.9zM119.6 250.7h.9v.9h-.9zM76.1 318.5h.9v.9h-.9zM96.0 316.2h.9v.9h-.9zM118.7 293.0h.9v.9h-.9zM110.3 316.3h.9v.9h-.9zM86.9 268.8h.9v.9h-.9zM63.6 283.7h.9v.9h-.9zM96.2 267.5h.9v.9h-.9zM94.3 302.9h.9v.9h-.9zM50.9 316.0h.9v.9h-.9zM79.1 316.7h.9v.9h-.9zM116.9 257.6h.9v.9h-.9zM89.8 308.3h.9v.9h-.9zM62.4 296.4h.9v.9h-.9zM98.3 272.3h.9v.9h-.9zM84.5 314.8h.9v.9h-.9zM116.4 294.6h.9v.9h-.9zM87.2 251.9h.9v.9h-.9zM46.3 284.5h.9v.9h-.9zM60.6 303.6h.9v.9h-.9zM61.9 312.6h.9v.9h-.9zM118.9 270.4h.9v.9h-.9zM77.3 298.4h.9v.9h-.9zM76.4 258.4h.9v.9h-.9zM120.5 315.7h.9v.9h-.9zM64.6 245.0h.9v.9h-.9zM96.7 318.6h.9v.9h-.9zM118.6 296.8h.9v.9h-.9zM116.2 307.4h.9v.9h-.9zM60.5 302.9h.9v.9h-.9zM85.8 293.1h.9v.9h-.9zM68.6 288.8h.9v.9h-.9zM102.1 271.2h.9v.9h-.9zM68.1 277.8h.9v.9h-.9zM62.0 259.4h.9v.9h-.9zM70.2 276.3h.9v.9h-.9zM57.7 302.0h.9v.9h-.9zM103.3 296.0h.9v.9h-.9zM70.9 296.9h.9v.9h-.9zM80.4 294.6h.9v.9h-.9zM70.5 317.4h.9v.9h-.9zM78.9 312.6h.9v.9h-.9zM73.0 276.0h.9v.9h-.9zM76.8 296.3h.9v.9h-.9zM102.8 318.5h.9v.9h-.9zM61.7 276.3h.9v.9h-.9zM101.2 304.7h.9v.9h-.9zM76.3 301.6h.9v.9h-.9zM54.0 302.9h.9v.9h-.9zM56.6 296.3h.9v.9h-.9zM115.6 306.8h.9v.9h-.9zM48.3 284.4h.9v.9h-.9zM70.6 316.9h.9v.9h-.9zM113.1 296.9h.9v.9h-.9zM52.5 281.7h.9v.9h-.9zM65.0 301.1h.9v.9h-.9zM70.0 303.8h.9v.9h-.9zM111.3 316.1h.9v.9h-.9zM56.3 301.0h.9v.9h-.9zM118.5 294.2h.9v.9h-.9zM56.7 282.8h.9v.9h-.9zM92.7 287.9h.9v.9h-.9zM107.1 277.8h.9v.9h-.9zM92.2 300.1h.9v.9h-.9zM88.5 313.1h.9v.9h-.9zM83.3 298.5h.9v.9h-.9zM68.6 270.7h.9v.9h-.9zM121.5 251.0h.9v.9h-.9zM80.7 314.0h.9v.9h-.9zM97.9 278.5h.9v.9h-.9zM93.9 304.0h.9v.9h-.9zM119.5 317.4h.9v.9h-.9zM67.9 317.1h.9v.9h-.9zM60.0 296.2h.9v.9h-.9zM115.5 315.8h.9v.9h-.9zM88.6 286.4h.9v.9h-.9zM98.1 317.1h.9v.9h-.9zM96.9 303.4h.9v.9h-.9zM107.7 257.6h.9v.9h-.9zM111.4 310.6h.9v.9h-.9zM102.2 266.7h.9v.9h-.9zM43.1 319.9h.9v.9h-.9zM111.4 253.2h.9v.9h-.9zM48.4 307.7h.9v.9h-.9zM112.8 265.9h.9v.9h-.9zM42.3 295.3h.9v.9h-.9zM107.2 284.2h.9v.9h-.9zM97.9 313.9h.9v.9h-.9zM46.3 276.8h.9v.9h-.9zM105.8 305.7h.9v.9h-.9zM93.7 317.1h.9v.9h-.9zM56.8 255.4h.9v.9h-.9zM114.0 305.4h.9v.9h-.9zM94.5 258.1h.9v.9h-.9zM85.2 308.9h.9v.9h-.9zM118.5 312.9h.9v.9h-.9zM64.4 264.5h.9v.9h-.9zM62.0 314.3h.9v.9h-.9zM115.0 288.8h.9v.9h-.9zM60.5 279.5h.9v.9h-.9zM110.1 318.3h.9v.9h-.9zM64.9 285.1h.9v.9h-.9zM109.9 271.3h.9v.9h-.9zM81.1 281.1h.9v.9h-.9zM96.4 315.3h.9v.9h-.9zM95.7 319.2h.9v.9h-.9zM80.0 289.9h.9v.9h-.9zM89.3 292.4h.9v.9h-.9zM98.6 298.8h.9v.9h-.9zM58.3 312.0h.9v.9h-.9zM116.6 244.8h.9v.9h-.9zM110.5 309.7h.9v.9h-.9zM64.8 318.7h.9v.9h-.9zM66.3 286.5h.9v.9h-.9zM80.0 288.7h.9v.9h-.9zM107.0 318.0h.9v.9h-.9zM89.2 286.6h.9v.9h-.9zM73.7 284.5h.9v.9h-.9zM106.8 313.0h.9v.9h-.9zM63.7 291.1h.9v.9h-.9zM102.7 301.6h.9v.9h-.9zM105.8 277.8h.9v.9h-.9zM54.9 303.5h.9v.9h-.9zM93.0 283.9h.9v.9h-.9zM94.7 309.1h.9v.9h-.9zM120.2 292.3h.9v.9h-.9zM72.4 316.1h.9v.9h-.9zM85.0 295.7h.9v.9h-.9zM117.9 313.0h.9v.9h-.9zM57.7 288.9h.9v.9h-.9zM115.3 302.9h.9v.9h-.9zM77.8 276.2h.9v.9h-.9zM76.0 298.1h.9v.9h-.9zM121.7 302.5h.9v.9h-.9zM79.7 269.6h.9v.9h-.9zM68.2 295.5h.9v.9h-.9zM64.7 316.2h.9v.9h-.9zM101.8 270.6h.9v.9h-.9zM97.7 292.0h.9v.9h-.9zM67.5 311.9h.9v.9h-.9zM87.6 287.9h.9v.9h-.9zM71.4 249.7h.9v.9h-.9zM111.4 294.4h.9v.9h-.9zM77.2 290.4h.9v.9h-.9zM96.3 316.5h.9v.9h-.9zM116.4 302.6h.9v.9h-.9zM67.4 308.7h.9v.9h-.9zM118.9 283.9h.9v.9h-.9zM86.9 314.9h.9v.9h-.9zM98.0 311.5h.9v.9h-.9zM70.2 259.0h.9v.9h-.9zM101.8 302.4h.9v.9h-.9zM103.8 315.3h.9v.9h-.9zM94.6 301.8h.9v.9h-.9zM113.1 318.6h.9v.9h-.9zM85.9 275.7h.9v.9h-.9zM44.8 298.2h.9v.9h-.9zM116.4 294.9h.9v.9h-.9zM92.9 278.5h.9v.9h-.9zM96.2 309.0h.9v.9h-.9zM95.1 288.3h.9v.9h-.9zM48.2 301.8h.9v.9h-.9zM71.5 309.0h.9v.9h-.9zM53.6 306.1h.9v.9h-.9zM98.7 260.1h.9v.9h-.9zM112.6 254.1h.9v.9h-.9zM99.4 311.0h.9v.9h-.9zM109.8 301.8h.9v.9h-.9zM75.2 265.4h.9v.9h-.9zM47.0 263.5h.9v.9h-.9zM81.2 292.6h.9v.9h-.9zM61.3 268.4h.9v.9h-.9zM73.0 316.6h.9v.9h-.9zM67.4 272.6h.9v.9h-.9zM62.4 317.3h.9v.9h-.9zM101.3 305.5h.9v.9h-.9zM95.0 296.2h.9v.9h-.9zM110.4 303.0h.9v.9h-.9zM121.0 304.1h.9v.9h-.9zM67.3 277.7h.9v.9h-.9zM118.0 292.0h.9v.9h-.9zM106.7 255.7h.9v.9h-.9zM92.5 252.9h.9v.9h-.9zM120.2 317.3h.9v.9h-.9zM133.9 246.8h.9v.9h-.9zM123.4 289.8h.9v.9h-.9zM53.2 306.9h.9v.9h-.9zM109.4 264.0h.9v.9h-.9zM119.2 276.9h.9v.9h-.9zM88.5 293.2h.9v.9h-.9zM82.8 281.5h.9v.9h-.9zM120.4 270.6h.9v.9h-.9zM43.1 286.7h.9v.9h-.9zM92.8 293.3h.9v.9h-.9zM69.7 301.7h.9v.9h-.9zM89.9 279.6h.9v.9h-.9zM101.7 288.8h.9v.9h-.9zM87.4 246.0h.9v.9h-.9zM136.7 242.9h.9v.9h-.9zM137.3 302.5h.9v.9h-.9zM124.0 248.6h.9v.9h-.9zM127.8 268.2h.9v.9h-.9zM96.1 309.4h.9v.9h-.9zM71.3 241.5h.9v.9h-.9zM130.1 290.4h.9v.9h-.9zM54.6 250.9h.9v.9h-.9zM106.2 285.6h.9v.9h-.9zM110.4 303.1h.9v.9h-.9zM53.8 303.5h.9v.9h-.9z" fill="#111" fill-opacity=".45"/>
<path d="M105.9 286.5h.9v.9h-.9zM122.1 299.2h.9v.9h-.9zM109.5 316.0h.9v.9h-.9zM111.3 307.3h.9v.9h-.9zM105.3 304.3h.9v.9h-.9zM108.3 303.9h.9v.9h-.9zM104.7 299.1h.9v.9h-.9zM114.9 307.6h.9v.9h-.9zM109.3 296.4h.9v.9h-.9zM113.0 293.8h.9v.9h-.9zM107.4 299.0h.9v.9h-.9zM108.2 307.1h.9v.9h-.9zM116.3 301.3h.9v.9h-.9zM106.1 304.7h.9v.9h-.9zM102.4 277.8h.9v.9h-.9zM112.3 309.9h.9v.9h-.9zM108.5 311.3h.9v.9h-.9zM114.6 294.8h.9v.9h-.9zM106.8 289.5h.9v.9h-.9zM114.5 300.8h.9v.9h-.9zM107.4 288.1h.9v.9h-.9zM117.2 305.3h.9v.9h-.9zM116.5 292.7h.9v.9h-.9zM108.4 307.6h.9v.9h-.9zM109.5 311.6h.9v.9h-.9zM106.8 277.7h.9v.9h-.9zM111.4 300.9h.9v.9h-.9zM115.7 291.0h.9v.9h-.9zM104.0 283.9h.9v.9h-.9zM114.6 291.8h.9v.9h-.9zM104.5 295.8h.9v.9h-.9zM106.6 308.3h.9v.9h-.9zM102.5 282.8h.9v.9h-.9zM120.0 308.5h.9v.9h-.9zM110.8 318.2h.9v.9h-.9zM111.6 304.0h.9v.9h-.9zM107.5 303.5h.9v.9h-.9zM115.3 297.9h.9v.9h-.9zM101.0 286.2h.9v.9h-.9zM110.6 303.3h.9v.9h-.9zM120.4 301.8h.9v.9h-.9zM108.8 305.3h.9v.9h-.9zM113.5 305.3h.9v.9h-.9zM106.8 302.3h.9v.9h-.9zM110.6 313.6h.9v.9h-.9zM114.8 284.5h.9v.9h-.9zM111.4 286.6h.9v.9h-.9zM112.2 294.2h.9v.9h-.9zM108.9 291.5h.9v.9h-.9zM111.9 304.9h.9v.9h-.9zM110.8 294.8h.9v.9h-.9zM117.0 315.4h.9v.9h-.9zM113.8 313.2h.9v.9h-.9zM109.4 305.7h.9v.9h-.9zM99.5 294.1h.9v.9h-.9zM113.7 304.2h.9v.9h-.9zM113.9 306.1h.9v.9h-.9zM106.4 287.3h.9v.9h-.9zM101.5 301.5h.9v.9h-.9zM105.4 305.1h.9v.9h-.9zM114.7 300.2h.9v.9h-.9zM105.7 313.7h.9v.9h-.9zM108.4 310.1h.9v.9h-.9zM111.5 289.7h.9v.9h-.9zM116.0 299.2h.9v.9h-.9zM110.4 289.6h.9v.9h-.9zM110.0 303.8h.9v.9h-.9zM108.0 289.3h.9v.9h-.9zM117.8 307.2h.9v.9h-.9zM115.3 301.9h.9v.9h-.9zM110.1 307.7h.9v.9h-.9zM104.2 296.5h.9v.9h-.9zM106.9 283.4h.9v.9h-.9zM113.1 315.7h.9v.9h-.9zM107.3 296.3h.9v.9h-.9zM114.5 311.8h.9v.9h-.9zM112.1 302.3h.9v.9h-.9zM111.8 304.7h.9v.9h-.9zM113.4 316.3h.9v.9h-.9zM112.7 301.4h.9v.9h-.9zM106.7 312.0h.9v.9h-.9zM109.0 283.2h.9v.9h-.9zM121.0 306.7h.9v.9h-.9zM105.1 295.6h.9v.9h-.9zM108.4 296.7h.9v.9h-.9zM115.3 298.1h.9v.9h-.9zM109.8 301.5h.9v.9h-.9zM106.8 314.6h.9v.9h-.9zM104.5 279.5h.9v.9h-.9zM112.9 298.4h.9v.9h-.9zM115.1 290.8h.9v.9h-.9zM116.8 309.7h.9v.9h-.9zM110.7 293.8h.9v.9h-.9zM115.2 302.6h.9v.9h-.9zM105.9 294.0h.9v.9h-.9zM111.3 304.7h.9v.9h-.9zM107.5 308.1h.9v.9h-.9zM111.3 294.0h.9v.9h-.9zM113.9 298.5h.9v.9h-.9zM115.3 283.8h.9v.9h-.9zM106.0 301.1h.9v.9h-.9zM116.2 306.6h.9v.9h-.9zM108.4 292.4h.9v.9h-.9zM105.9 309.2h.9v.9h-.9zM109.7 277.3h.9v.9h-.9zM103.9 279.5h.9v.9h-.9zM110.5 284.1h.9v.9h-.9zM111.8 293.2h.9v.9h-.9zM109.6 298.2h.9v.9h-.9zM112.9 297.2h.9v.9h-.9zM109.1 297.3h.9v.9h-.9zM110.5 305.2h.9v.9h-.9zM104.0 293.3h.9v.9h-.9zM110.7 285.4h.9v.9h-.9zM106.7 285.6h.9v.9h-.9zM108.5 319.1h.9v.9h-.9zM110.1 274.5h.9v.9h-.9zM111.4 296.2h.9v.9h-.9zM103.1 312.6h.9v.9h-.9zM103.5 302.8h.9v.9h-.9zM109.1 289.7h.9v.9h-.9zM112.6 298.0h.9v.9h-.9zM112.1 306.6h.9v.9h-.9zM114.5 310.1h.9v.9h-.9zM116.4 289.0h.9v.9h-.9zM112.7 305.6h.9v.9h-.9zM110.4 300.5h.9v.9h-.9zM105.9 309.0h.9v.9h-.9zM106.2 311.9h.9v.9h-.9zM108.4 294.6h.9v.9h-.9zM111.7 283.5h.9v.9h-.9zM111.5 302.0h.9v.9h-.9zM110.5 315.8h.9v.9h-.9zM109.8 304.9h.9v.9h-.9zM113.3 300.3h.9v.9h-.9zM111.8 287.6h.9v.9h-.9zM111.9 307.0h.9v.9h-.9zM108.0 292.3h.9v.9h-.9zM105.9 298.5h.9v.9h-.9zM112.7 298.9h.9v.9h-.9zM112.4 313.1h.9v.9h-.9zM109.5 288.6h.9v.9h-.9zM108.6 292.6h.9v.9h-.9zM120.8 282.1h.9v.9h-.9zM107.1 302.9h.9v.9h-.9zM109.5 293.4h.9v.9h-.9zM111.7 302.2h.9v.9h-.9zM97.6 270.4h.9v.9h-.9zM101.8 255.1h.9v.9h-.9zM110.2 258.2h.9v.9h-.9zM103.0 276.5h.9v.9h-.9zM107.8 279.0h.9v.9h-.9zM107.2 262.1h.9v.9h-.9zM101.9 266.7h.9v.9h-.9zM94.6 272.0h.9v.9h-.9zM109.9 251.9h.9v.9h-.9zM105.0 265.9h.9v.9h-.9zM109.9 285.6h.9v.9h-.9zM91.9 291.3h.9v.9h-.9zM94.1 268.3h.9v.9h-.9zM91.1 287.7h.9v.9h-.9zM98.7 264.2h.9v.9h-.9zM110.3 261.3h.9v.9h-.9zM107.4 247.0h.9v.9h-.9zM103.8 279.0h.9v.9h-.9zM104.8 265.7h.9v.9h-.9zM108.6 292.8h.9v.9h-.9zM102.2 272.7h.9v.9h-.9zM106.4 271.3h.9v.9h-.9zM104.8 251.4h.9v.9h-.9zM90.9 284.4h.9v.9h-.9zM101.7 265.8h.9v.9h-.9zM112.2 267.8h.9v.9h-.9zM101.6 247.4h.9v.9h-.9zM103.1 278.7h.9v.9h-.9zM100.4 279.3h.9v.9h-.9zM101.1 263.4h.9v.9h-.9zM110.7 270.4h.9v.9h-.9zM102.4 273.4h.9v.9h-.9zM97.9 279.1h.9v.9h-.9zM85.3 270.5h.9v.9h-.9zM100.6 286.7h.9v.9h-.9zM92.2 267.0h.9v.9h-.9zM93.1 263.4h.9v.9h-.9zM108.8 264.8h.9v.9h-.9zM108.3 244.1h.9v.9h-.9zM92.5 261.4h.9v.9h-.9zM109.1 279.5h.9v.9h-.9zM106.8 272.1h.9v.9h-.9zM99.3 261.3h.9v.9h-.9zM108.4 272.9h.9v.9h-.9zM94.2 249.3h.9v.9h-.9zM96.8 266.6h.9v.9h-.9zM95.4 274.7h.9v.9h-.9zM97.3 276.4h.9v.9h-.9zM109.3 261.7h.9v.9h-.9zM96.0 278.6h.9v.9h-.9zM97.1 288.2h.9v.9h-.9zM98.3 265.2h.9v.9h-.9zM105.2 276.9h.9v.9h-.9zM102.0 253.9h.9v.9h-.9zM109.2 249.8h.9v.9h-.9zM99.7 275.6h.9v.9h-.9zM96.3 269.9h.9v.9h-.9zM101.0 271.5h.9v.9h-.9zM104.2 263.6h.9v.9h-.9zM98.4 266.5h.9v.9h-.9zM105.6 277.6h.9v.9h-.9zM114.9 286.7h.9v.9h-.9zM100.5 267.3h.9v.9h-.9zM104.2 253.0h.9v.9h-.9zM112.1 282.2h.9v.9h-.9zM100.1 275.5h.9v.9h-.9zM98.9 276.3h.9v.9h-.9zM97.4 271.3h.9v.9h-.9zM106.3 292.7h.9v.9h-.9zM107.0 270.2h.9v.9h-.9zM103.0 274.6h.9v.9h-.9zM104.2 250.9h.9v.9h-.9zM111.5 263.7h.9v.9h-.9zM109.1 262.6h.9v.9h-.9zM95.5 269.2h.9v.9h-.9zM103.8 273.0h.9v.9h-.9zM104.5 262.0h.9v.9h-.9zM108.2 286.8h.9v.9h-.9zM102.5 258.8h.9v.9h-.9zM100.0 265.0h.9v.9h-.9zM101.1 271.9h.9v.9h-.9zM93.2 257.0h.9v.9h-.9zM103.7 275.2h.9v.9h-.9zM100.3 275.8h.9v.9h-.9zM106.6 266.6h.9v.9h-.9zM97.7 288.6h.9v.9h-.9zM101.2 270.3h.9v.9h-.9zM97.9 272.3h.9v.9h-.9zM97.4 259.9h.9v.9h-.9zM108.0 252.7h.9v.9h-.9zM101.0 263.2h.9v.9h-.9zM106.5 266.3h.9v.9h-.9zM97.1 264.9h.9v.9h-.9zM104.4 277.2h.9v.9h-.9zM93.6 245.6h.9v.9h-.9zM100.9 258.1h.9v.9h-.9zM100.8 251.2h.9v.9h-.9zM107.3 282.9h.9v.9h-.9zM104.8 263.8h.9v.9h-.9zM102.7 264.3h.9v.9h-.9zM108.8 258.5h.9v.9h-.9zM104.9 278.5h.9v.9h-.9zM107.0 265.4h.9v.9h-.9zM108.3 271.7h.9v.9h-.9zM103.3 249.1h.9v.9h-.9zM102.0 281.2h.9v.9h-.9zM105.7 273.4h.9v.9h-.9zM101.2 275.0h.9v.9h-.9zM106.1 281.9h.9v.9h-.9zM110.4 267.6h.9v.9h-.9zM108.9 267.8h.9v.9h-.9zM101.4 276.7h.9v.9h-.9zM96.0 273.8h.9v.9h-.9zM103.4 267.1h.9v.9h-.9zM103.0 269.9h.9v.9h-.9zM110.4 264.5h.9v.9h-.9zM101.4 276.7h.9v.9h-.9zM102.5 278.9h.9v.9h-.9zM108.1 269.6h.9v.9h-.9zM100.9 288.3h.9v.9h-.9zM102.8 254.1h.9v.9h-.9zM114.0 267.2h.9v.9h-.9zM112.6 286.7h.9v.9h-.9zM107.5 265.3h.9v.9h-.9zM105.3 253.5h.9v.9h-.9zM97.9 283.5h.9v.9h-.9zM107.1 275.0h.9v.9h-.9zM104.1 257.6h.9v.9h-.9zM105.0 277.3h.9v.9h-.9zM100.6 259.3h.9v.9h-.9zM103.6 256.1h.9v.9h-.9zM102.6 268.0h.9v.9h-.9zM105.6 264.7h.9v.9h-.9zM112.3 258.5h.9v.9h-.9zM105.9 265.9h.9v.9h-.9zM93.8 259.5h.9v.9h-.9zM97.9 270.1h.9v.9h-.9zM94.2 269.3h.9v.9h-.9zM99.0 277.0h.9v.9h-.9zM107.1 265.0h.9v.9h-.9zM106.1 256.2h.9v.9h-.9zM100.1 256.3h.9v.9h-.9zM105.3 267.1h.9v.9h-.9zM99.2 284.9h.9v.9h-.9zM95.2 278.0h.9v.9h-.9zM95.3 263.1h.9v.9h-.9zM98.6 279.0h.9v.9h-.9zM112.2 257.9h.9v.9h-.9zM95.7 279.7h.9v.9h-.9zM111.2 265.7h.9v.9h-.9zM111.7 277.2h.9v.9h-.9zM102.6 275.8h.9v.9h-.9zM103.4 266.7h.9v.9h-.9zM100.0 272.8h.9v.9h-.9zM103.6 258.8h.9v.9h-.9zM107.6 268.8h.9v.9h-.9zM103.8 280.4h.9v.9h-.9zM109.7 310.6h.9v.9h-.9zM110.8 276.6h.9v.9h-.9zM105.8 270.4h.9v.9h-.9zM105.7 259.4h.9v.9h-.9zM103.3 280.2h.9v.9h-.9zM105.8 252.9h.9v.9h-.9zM97.0 261.5h.9v.9h-.9zM106.1 273.1h.9v.9h-.9zM104.9 257.4h.9v.9h-.9zM98.5 285.0h.9v.9h-.9zM116.6 280.5h.9v.9h-.9zM97.9 263.8h.9v.9h-.9zM98.5 264.0h.9v.9h-.9zM105.4 256.3h.9v.9h-.9zM92.1 255.5h.9v.9h-.9zM98.9 274.0h.9v.9h-.9zM94.6 275.8h.9v.9h-.9zM97.9 273.1h.9v.9h-.9zM102.9 272.2h.9v.9h-.9zM105.6 263.9h.9v.9h-.9zM110.3 273.2h.9v.9h-.9zM108.5 254.8h.9v.9h-.9zM110.8 269.6h.9v.9h-.9zM107.2 284.3h.9v.9h-.9zM100.9 282.8h.9v.9h-.9zM110.4 264.9h.9v.9h-.9zM100.8 266.2h.9v.9h-.9zM100.0 283.4h.9v.9h-.9zM112.8 287.5h.9v.9h-.9zM108.4 254.5h.9v.9h-.9zM105.0 265.3h.9v.9h-.9zM108.2 271.9h.9v.9h-.9zM108.9 281.8h.9v.9h-.9zM95.5 261.1h.9v.9h-.9zM103.1 276.0h.9v.9h-.9zM96.6 266.5h.9v.9h-.9zM104.4 293.4h.9v.9h-.9zM99.6 273.9h.9v.9h-.9zM111.8 268.2h.9v.9h-.9zM106.8 266.2h.9v.9h-.9zM98.8 280.1h.9v.9h-.9zM103.6 276.4h.9v.9h-.9zM96.4 258.7h.9v.9h-.9zM103.9 271.7h.9v.9h-.9zM106.9 256.1h.9v.9h-.9zM105.2 262.0h.9v.9h-.9zM92.1 256.6h.9v.9h-.9zM101.7 256.2h.9v.9h-.9zM106.7 262.7h.9v.9h-.9zM105.5 259.7h.9v.9h-.9zM110.6 274.8h.9v.9h-.9zM96.0 277.5h.9v.9h-.9zM106.8 267.2h.9v.9h-.9zM99.8 258.3h.9v.9h-.9zM104.8 277.6h.9v.9h-.9zM106.1 249.2h.9v.9h-.9zM107.8 250.2h.9v.9h-.9zM100.2 276.9h.9v.9h-.9zM104.8 276.1h.9v.9h-.9zM96.7 279.3h.9v.9h-.9zM95.2 267.4h.9v.9h-.9zM107.0 256.9h.9v.9h-.9zM103.3 264.4h.9v.9h-.9zM93.9 275.2h.9v.9h-.9zM98.6 261.9h.9v.9h-.9zM103.8 262.5h.9v.9h-.9zM113.0 255.5h.9v.9h-.9zM109.9 257.9h.9v.9h-.9zM108.4 278.0h.9v.9h-.9zM92.9 274.1h.9v.9h-.9zM103.1 257.9h.9v.9h-.9zM106.5 258.7h.9v.9h-.9zM106.0 263.9h.9v.9h-.9zM106.1 275.1h.9v.9h-.9zM102.3 257.8h.9v.9h-.9zM114.2 267.9h.9v.9h-.9zM112.5 248.0h.9v.9h-.9zM103.1 256.9h.9v.9h-.9zM97.8 273.8h.9v.9h-.9zM116.0 278.6h.9v.9h-.9zM100.3 257.9h.9v.9h-.9zM110.8 261.8h.9v.9h-.9zM115.1 277.6h.9v.9h-.9zM98.0 265.6h.9v.9h-.9zM105.4 264.1h.9v.9h-.9zM101.6 274.8h.9v.9h-.9zM106.7 271.5h.9v.9h-.9zM105.6 280.7h.9v.9h-.9zM115.3 277.5h.9v.9h-.9zM107.2 263.8h.9v.9h-.9zM103.6 268.4h.9v.9h-.9zM110.4 269.0h.9v.9h-.9zM102.0 255.9h.9v.9h-.9zM101.5 259.8h.9v.9h-.9zM117.1 279.3h.9v.9h-.9zM98.7 253.6h.9v.9h-.9zM100.7 279.6h.9v.9h-.9zM103.9 272.4h.9v.9h-.9zM97.3 268.2h.9v.9h-.9zM91.0 275.0h.9v.9h-.9zM110.0 274.4h.9v.9h-.9zM98.9 281.7h.9v.9h-.9zM100.4 265.6h.9v.9h-.9zM101.4 267.3h.9v.9h-.9zM97.8 267.1h.9v.9h-.9zM97.2 288.5h.9v.9h-.9zM104.6 279.1h.9v.9h-.9zM118.0 260.3h.9v.9h-.9zM108.1 266.2h.9v.9h-.9zM108.1 262.5h.9v.9h-.9zM94.6 269.7h.9v.9h-.9zM103.5 271.7h.9v.9h-.9zM96.5 292.6h.9v.9h-.9zM108.3 251.3h.9v.9h-.9zM102.3 279.9h.9v.9h-.9zM103.9 274.0h.9v.9h-.9zM103.1 262.6h.9v.9h-.9zM100.1 268.1h.9v.9h-.9zM94.5 264.6h.9v.9h-.9zM107.1 270.1h.9v.9h-.9zM95.3 279.7h.9v.9h-.9zM96.6 254.4h.9v.9h-.9zM101.9 282.8h.9v.9h-.9zM99.4 265.9h.9v.9h-.9zM105.2 284.7h.9v.9h-.9zM109.7 273.7h.9v.9h-.9zM105.1 282.0h.9v.9h-.9zM104.8 275.3h.9v.9h-.9zM103.8 280.5h.9v.9h-.9zM108.8 270.2h.9v.9h-.9zM92.6 261.3h.9v.9h-.9zM105.8 276.4h.9v.9h-.9zM98.0 276.8h.9v.9h-.9zM96.2 290.7h.9v.9h-.9zM103.7 249.5h.9v.9h-.9zM101.3 267.7h.9v.9h-.9zM107.1 280.3h.9v.9h-.9zM110.3 257.1h.9v.9h-.9zM89.7 267.4h.9v.9h-.9zM103.2 290.9h.9v.9h-.9zM115.4 283.9h.9v.9h-.9zM108.9 260.8h.9v.9h-.9zM112.3 284.0h.9v.9h-.9zM114.8 306.2h.9v.9h-.9zM112.7 301.2h.9v.9h-.9zM110.7 299.3h.9v.9h-.9zM110.0 292.5h.9v.9h-.9zM104.5 290.0h.9v.9h-.9zM106.3 292.5h.9v.9h-.9zM112.5 295.7h.9v.9h-.9zM109.5 300.3h.9v.9h-.9zM118.1 299.3h.9v.9h-.9zM107.2 292.1h.9v.9h-.9zM96.8 295.8h.9v.9h-.9zM107.2 299.0h.9v.9h-.9zM110.2 278.9h.9v.9h-.9zM110.8 287.4h.9v.9h-.9zM109.2 287.1h.9v.9h-.9zM104.7 293.1h.9v.9h-.9zM116.3 292.4h.9v.9h-.9zM105.5 292.5h.9v.9h-.9zM112.4 286.4h.9v.9h-.9zM107.4 301.9h.9v.9h-.9zM102.9 297.9h.9v.9h-.9zM115.9 278.7h.9v.9h-.9zM96.3 295.3h.9v.9h-.9zM104.6 283.9h.9v.9h-.9zM111.0 312.2h.9v.9h-.9zM107.1 290.6h.9v.9h-.9zM112.6 291.2h.9v.9h-.9zM108.4 296.0h.9v.9h-.9zM106.6 293.2h.9v.9h-.9zM119.7 294.6h.9v.9h-.9zM107.8 310.6h.9v.9h-.9zM108.1 297.4h.9v.9h-.9zM103.5 303.5h.9v.9h-.9zM105.1 306.4h.9v.9h-.9zM112.1 285.4h.9v.9h-.9zM111.7 312.1h.9v.9h-.9zM108.9 302.1h.9v.9h-.9zM105.4 304.7h.9v.9h-.9zM112.3 286.5h.9v.9h-.9zM100.4 303.3h.9v.9h-.9zM107.2 299.3h.9v.9h-.9zM107.6 289.8h.9v.9h-.9zM104.7 318.0h.9v.9h-.9zM109.7 300.8h.9v.9h-.9zM105.6 292.8h.9v.9h-.9zM104.9 297.1h.9v.9h-.9zM117.9 304.3h.9v.9h-.9zM112.6 306.5h.9v.9h-.9zM114.9 301.0h.9v.9h-.9zM109.2 307.4h.9v.9h-.9zM113.8 309.9h.9v.9h-.9zM112.8 282.8h.9v.9h-.9zM115.0 290.3h.9v.9h-.9zM120.8 285.8h.9v.9h-.9zM107.8 296.2h.9v.9h-.9zM110.2 309.6h.9v.9h-.9zM108.7 301.7h.9v.9h-.9zM91.4 284.7h.9v.9h-.9zM102.0 292.3h.9v.9h-.9zM109.0 305.5h.9v.9h-.9zM112.1 289.9h.9v.9h-.9zM106.1 294.2h.9v.9h-.9zM114.6 298.2h.9v.9h-.9zM115.4 277.0h.9v.9h-.9zM106.9 303.0h.9v.9h-.9zM116.1 298.6h.9v.9h-.9zM117.7 300.9h.9v.9h-.9zM111.3 285.4h.9v.9h-.9zM104.1 287.5h.9v.9h-.9zM116.3 289.2h.9v.9h-.9zM108.2 297.7h.9v.9h-.9zM107.1 295.9h.9v.9h-.9zM109.6 296.5h.9v.9h-.9zM106.3 313.1h.9v.9h-.9zM114.4 308.3h.9v.9h-.9zM112.9 288.0h.9v.9h-.9zM115.1 288.7h.9v.9h-.9zM111.9 312.4h.9v.9h-.9zM105.0 292.0h.9v.9h-.9zM108.2 309.0h.9v.9h-.9zM113.4 311.2h.9v.9h-.9zM107.0 289.8h.9v.9h-.9zM123.6 292.5h.9v.9h-.9zM107.8 296.0h.9v.9h-.9zM106.1 286.6h.9v.9h-.9zM114.7 285.4h.9v.9h-.9zM112.7 291.2h.9v.9h-.9zM108.9 303.7h.9v.9h-.9zM107.8 290.7h.9v.9h-.9zM111.1 293.1h.9v.9h-.9zM113.2 290.5h.9v.9h-.9zM112.8 281.6h.9v.9h-.9zM107.5 310.0h.9v.9h-.9zM111.2 271.8h.9v.9h-.9zM113.2 288.7h.9v.9h-.9zM112.8 300.8h.9v.9h-.9zM93.6 281.2h.9v.9h-.9zM104.5 301.2h.9v.9h-.9zM105.1 307.7h.9v.9h-.9zM107.8 286.6h.9v.9h-.9zM109.9 297.3h.9v.9h-.9zM113.6 284.1h.9v.9h-.9zM112.1 300.3h.9v.9h-.9zM108.4 296.1h.9v.9h-.9zM109.1 297.4h.9v.9h-.9zM117.8 308.9h.9v.9h-.9zM105.9 299.9h.9v.9h-.9zM110.5 308.7h.9v.9h-.9zM116.8 301.5h.9v.9h-.9zM110.7 283.2h.9v.9h-.9zM98.8 297.8h.9v.9h-.9zM110.9 300.1h.9v.9h-.9zM107.1 280.7h.9v.9h-.9zM108.4 308.5h.9v.9h-.9zM114.3 295.9h.9v.9h-.9zM111.3 298.9h.9v.9h-.9zM107.7 286.2h.9v.9h-.9zM113.5 295.9h.9v.9h-.9zM111.2 298.2h.9v.9h-.9zM109.5 291.9h.9v.9h-.9zM110.5 296.0h.9v.9h-.9zM110.3 274.0h.9v.9h-.9zM107.3 308.8h.9v.9h-.9zM106.7 284.0h.9v.9h-.9zM109.1 273.4h.9v.9h-.9zM104.2 285.6h.9v.9h-.9zM102.7 286.8h.9v.9h-.9zM115.5 300.6h.9v.9h-.9zM107.8 286.1h.9v.9h-.9zM108.9 298.0h.9v.9h-.9zM108.3 285.6h.9v.9h-.9zM109.1 317.3h.9v.9h-.9zM109.1 300.6h.9v.9h-.9zM109.3 314.7h.9v.9h-.9zM105.0 285.0h.9v.9h-.9zM113.7 301.8h.9v.9h-.9zM105.5 285.6h.9v.9h-.9zM114.2 301.0h.9v.9h-.9zM99.4 302.0h.9v.9h-.9zM103.7 279.2h.9v.9h-.9zM114.0 283.8h.9v.9h-.9zM108.3 283.5h.9v.9h-.9zM105.6 280.1h.9v.9h-.9zM110.9 287.9h.9v.9h-.9zM103.8 285.6h.9v.9h-.9zM109.4 280.7h.9v.9h-.9zM97.9 296.1h.9v.9h-.9zM106.7 300.6h.9v.9h-.9zM105.8 282.0h.9v.9h-.9zM111.7 289.6h.9v.9h-.9zM113.4 295.2h.9v.9h-.9zM104.7 292.8h.9v.9h-.9zM117.0 288.1h.9v.9h-.9zM106.0 303.2h.9v.9h-.9zM98.7 303.6h.9v.9h-.9zM97.1 301.9h.9v.9h-.9zM116.7 293.0h.9v.9h-.9zM108.6 315.0h.9v.9h-.9zM105.8 312.5h.9v.9h-.9zM105.3 291.1h.9v.9h-.9zM103.5 293.9h.9v.9h-.9zM115.8 307.0h.9v.9h-.9zM108.6 287.1h.9v.9h-.9zM118.0 299.1h.9v.9h-.9zM108.0 295.6h.9v.9h-.9zM97.2 288.1h.9v.9h-.9zM113.2 292.8h.9v.9h-.9zM107.2 279.4h.9v.9h-.9zM107.8 289.7h.9v.9h-.9zM116.8 275.1h.9v.9h-.9zM107.7 317.9h.9v.9h-.9zM114.8 310.2h.9v.9h-.9zM109.0 307.4h.9v.9h-.9zM105.2 298.1h.9v.9h-.9zM111.5 305.1h.9v.9h-.9zM106.0 307.8h.9v.9h-.9zM115.1 305.2h.9v.9h-.9zM113.8 304.3h.9v.9h-.9zM109.3 286.0h.9v.9h-.9zM112.0 299.4h.9v.9h-.9zM111.8 289.7h.9v.9h-.9zM107.6 283.3h.9v.9h-.9zM113.5 283.6h.9v.9h-.9zM107.9 299.3h.9v.9h-.9zM112.1 305.6h.9v.9h-.9zM104.2 281.4h.9v.9h-.9zM109.5 312.5h.9v.9h-.9zM111.1 309.7h.9v.9h-.9zM105.1 291.2h.9v.9h-.9zM106.9 290.4h.9v.9h-.9zM106.3 294.3h.9v.9h-.9zM112.7 304.9h.9v.9h-.9zM105.4 291.2h.9v.9h-.9zM111.2 284.0h.9v.9h-.9zM116.6 298.5h.9v.9h-.9zM110.8 274.4h.9v.9h-.9zM101.0 296.4h.9v.9h-.9zM109.7 306.6h.9v.9h-.9zM114.2 298.1h.9v.9h-.9zM107.6 302.8h.9v.9h-.9z" fill="#111" fill-opacity=".7"/>
<path d="M112.0 260.0h.9v.9h-.9zM113.1 266.6h.9v.9h-.9zM111.0 253.6h.9v.9h-.9zM108.8 258.5h.9v.9h-.9zM110.4 270.2h.9v.9h-.9zM108.4 263.7h.9v.9h-.9zM112.2 267.2h.9v.9h-.9zM116.8 264.8h.9v.9h-.9zM110.2 283.2h.9v.9h-.9zM109.8 279.0h.9v.9h-.9zM113.8 267.1h.9v.9h-.9zM113.3 276.2h.9v.9h-.9zM112.4 262.8h.9v.9h-.9zM108.7 268.2h.9v.9h-.9zM111.9 275.0h.9v.9h-.9zM114.5 258.2h.9v.9h-.9zM107.2 269.5h.9v.9h-.9zM110.4 260.2h.9v.9h-.9zM105.2 273.5h.9v.9h-.9zM107.4 282.9h.9v.9h-.9zM105.4 267.3h.9v.9h-.9zM111.2 270.6h.9v.9h-.9zM107.4 265.0h.9v.9h-.9zM113.0 259.8h.9v.9h-.9zM112.6 259.4h.9v.9h-.9zM111.3 279.2h.9v.9h-.9zM102.9 290.8h.9v.9h-.9zM110.1 273.1h.9v.9h-.9zM111.8 263.6h.9v.9h-.9zM112.4 273.2h.9v.9h-.9zM106.5 269.5h.9v.9h-.9zM110.3 275.2h.9v.9h-.9zM108.5 272.7h.9v.9h-.9zM109.1 272.3h.9v.9h-.9zM115.8 270.4h.9v.9h-.9zM109.1 266.2h.9v.9h-.9zM111.9 265.7h.9v.9h-.9zM115.2 254.4h.9v.9h-.9zM109.9 266.7h.9v.9h-.9zM111.6 258.7h.9v.9h-.9zM112.4 267.2h.9v.9h-.9zM112.2 261.6h.9v.9h-.9zM107.6 271.9h.9v.9h-.9zM112.3 271.5h.9v.9h-.9zM116.9 255.5h.9v.9h-.9zM106.4 266.2h.9v.9h-.9zM115.1 259.9h.9v.9h-.9zM112.4 273.5h.9v.9h-.9zM109.7 282.0h.9v.9h-.9zM119.2 270.1h.9v.9h-.9zM114.7 264.3h.9v.9h-.9zM107.7 281.5h.9v.9h-.9zM112.3 257.6h.9v.9h-.9zM114.1 277.8h.9v.9h-.9zM111.3 264.3h.9v.9h-.9zM114.5 247.4h.9v.9h-.9zM111.8 287.4h.9v.9h-.9zM114.4 278.2h.9v.9h-.9zM117.2 258.0h.9v.9h-.9zM109.6 271.2h.9v.9h-.9zM112.7 266.5h.9v.9h-.9zM110.3 270.3h.9v.9h-.9zM112.5 257.7h.9v.9h-.9zM107.7 266.3h.9v.9h-.9zM109.9 273.1h.9v.9h-.9zM111.3 270.5h.9v.9h-.9zM115.2 275.0h.9v.9h-.9zM116.1 266.5h.9v.9h-.9zM107.2 288.0h.9v.9h-.9zM109.1 265.2h.9v.9h-.9zM114.3 268.9h.9v.9h-.9zM104.8 259.4h.9v.9h-.9zM110.3 260.7h.9v.9h-.9zM111.6 278.1h.9v.9h-.9zM116.5 259.1h.9v.9h-.9zM114.5 270.7h.9v.9h-.9zM110.8 268.8h.9v.9h-.9zM110.7 261.9h.9v.9h-.9zM111.1 266.6h.9v.9h-.9zM117.5 261.5h.9v.9h-.9zM110.5 266.0h.9v.9h-.9zM110.9 274.5h.9v.9h-.9zM113.3 272.3h.9v.9h-.9zM111.6 264.7h.9v.9h-.9zM111.3 262.5h.9v.9h-.9zM108.0 273.0h.9v.9h-.9zM112.0 267.8h.9v.9h-.9zM110.4 276.7h.9v.9h-.9zM116.2 284.7h.9v.9h-.9zM114.4 273.0h.9v.9h-.9zM111.9 268.3h.9v.9h-.9zM114.4 265.8h.9v.9h-.9zM110.8 263.2h.9v.9h-.9zM115.8 259.8h.9v.9h-.9zM112.0 261.4h.9v.9h-.9zM114.1 264.4h.9v.9h-.9zM107.4 268.4h.9v.9h-.9zM113.2 273.0h.9v.9h-.9zM105.9 269.4h.9v.9h-.9zM104.7 271.6h.9v.9h-.9zM110.9 260.6h.9v.9h-.9zM108.8 282.1h.9v.9h-.9zM112.6 271.7h.9v.9h-.9zM120.1 276.1h.9v.9h-.9zM109.0 276.0h.9v.9h-.9zM109.8 280.4h.9v.9h-.9zM112.7 266.3h.9v.9h-.9zM113.8 272.5h.9v.9h-.9zM111.4 288.0h.9v.9h-.9zM111.3 260.3h.9v.9h-.9zM114.5 275.2h.9v.9h-.9zM113.9 279.3h.9v.9h-.9zM108.3 273.8h.9v.9h-.9zM111.7 274.1h.9v.9h-.9zM112.1 277.5h.9v.9h-.9zM108.2 266.1h.9v.9h-.9zM112.9 270.9h.9v.9h-.9zM108.9 264.1h.9v.9h-.9zM115.5 261.5h.9v.9h-.9zM112.7 263.6h.9v.9h-.9zM112.3 267.3h.9v.9h-.9zM109.9 270.9h.9v.9h-.9zM111.6 272.0h.9v.9h-.9zM104.8 262.7h.9v.9h-.9zM107.9 285.3h.9v.9h-.9zM113.3 276.0h.9v.9h-.9zM104.3 278.5h.9v.9h-.9zM115.0 264.0h.9v.9h-.9zM105.7 271.7h.9v.9h-.9zM114.7 270.8h.9v.9h-.9zM109.0 273.4h.9v.9h-.9zM114.8 254.6h.9v.9h-.9zM112.5 273.6h.9v.9h-.9zM106.5 293.0h.9v.9h-.9zM116.5 252.4h.9v.9h-.9zM117.2 272.5h.9v.9h-.9zM111.8 271.3h.9v.9h-.9zM111.0 268.3h.9v.9h-.9zM111.4 278.8h.9v.9h-.9zM108.5 262.1h.9v.9h-.9zM116.0 267.2h.9v.9h-.9zM110.0 280.3h.9v.9h-.9zM111.8 267.2h.9v.9h-.9zM109.1 267.2h.9v.9h-.9zM109.7 270.7h.9v.9h-.9zM107.4 268.1h.9v.9h-.9zM116.5 276.9h.9v.9h-.9zM111.4 262.3h.9v.9h-.9zM115.5 272.7h.9v.9h-.9zM112.0 259.4h.9v.9h-.9zM109.5 274.9h.9v.9h-.9zM110.8 268.5h.9v.9h-.9zM110.0 251.0h.9v.9h-.9zM112.0 268.4h.9v.9h-.9zM110.6 261.6h.9v.9h-.9zM110.9 265.9h.9v.9h-.9zM107.0 282.7h.9v.9h-.9zM109.1 262.2h.9v.9h-.9zM118.0 257.1h.9v.9h-.9zM109.6 280.4h.9v.9h-.9zM108.2 271.7h.9v.9h-.9zM113.2 278.9h.9v.9h-.9zM117.1 267.7h.9v.9h-.9zM106.8 265.3h.9v.9h-.9zM111.2 268.5h.9v.9h-.9zM109.7 278.8h.9v.9h-.9zM105.7 279.2h.9v.9h-.9zM114.6 266.9h.9v.9h-.9zM111.9 268.9h.9v.9h-.9zM112.3 267.5h.9v.9h-.9zM109.3 266.0h.9v.9h-.9zM113.6 281.5h.9v.9h-.9zM110.1 269.7h.9v.9h-.9zM111.5 260.6h.9v.9h-.9zM108.0 267.5h.9v.9h-.9zM107.6 276.5h.9v.9h-.9zM116.8 270.2h.9v.9h-.9zM110.2 268.6h.9v.9h-.9zM113.1 263.0h.9v.9h-.9zM111.9 268.7h.9v.9h-.9zM110.4 257.3h.9v.9h-.9zM110.2 260.2h.9v.9h-.9zM114.3 272.9h.9v.9h-.9zM110.9 265.7h.9v.9h-.9zM111.5 271.6h.9v.9h-.9zM112.1 277.3h.9v.9h-.9zM116.2 270.6h.9v.9h-.9zM114.4 267.1h.9v.9h-.9zM113.4 283.1h.9v.9h-.9zM110.0 274.6h.9v.9h-.9zM107.0 269.0h.9v.9h-.9zM115.4 271.7h.9v.9h-.9zM115.5 269.3h.9v.9h-.9zM111.5 262.6h.9v.9h-.9zM114.0 267.8h.9v.9h-.9zM114.8 265.6h.9v.9h-.9zM115.0 252.4h.9v.9h-.9zM115.3 265.2h.9v.9h-.9zM110.4 267.5h.9v.9h-.9zM117.5 262.0h.9v.9h-.9zM107.5 259.3h.9v.9h-.9zM115.1 264.0h.9v.9h-.9zM113.8 267.1h.9v.9h-.9zM115.1 267.3h.9v.9h-.9zM118.8 256.1h.9v.9h-.9zM117.3 269.8h.9v.9h-.9zM107.9 262.2h.9v.9h-.9zM105.9 270.6h.9v.9h-.9zM114.9 276.2h.9v.9h-.9zM108.3 265.7h.9v.9h-.9zM112.0 264.8h.9v.9h-.9zM115.0 274.4h.9v.9h-.9zM106.1 269.4h.9v.9h-.9zM104.4 271.0h.9v.9h-.9zM112.9 269.5h.9v.9h-.9zM112.2 276.0h.9v.9h-.9zM111.1 253.1h.9v.9h-.9zM112.1 262.4h.9v.9h-.9zM108.9 263.1h.9v.9h-.9zM106.6 264.0h.9v.9h-.9zM111.4 262.7h.9v.9h-.9zM108.5 264.6h.9v.9h-.9zM106.1 274.3h.9v.9h-.9zM113.8 260.9h.9v.9h-.9zM111.8 269.5h.9v.9h-.9zM113.5 270.5h.9v.9h-.9zM108.4 265.4h.9v.9h-.9zM109.6 270.9h.9v.9h-.9zM108.4 282.6h.9v.9h-.9zM108.8 272.8h.9v.9h-.9zM112.7 263.5h.9v.9h-.9zM109.2 269.8h.9v.9h-.9zM113.3 261.1h.9v.9h-.9zM113.2 269.7h.9v.9h-.9zM119.3 270.2h.9v.9h-.9zM107.0 265.7h.9v.9h-.9zM115.2 265.0h.9v.9h-.9zM111.7 276.7h.9v.9h-.9zM111.9 264.9h.9v.9h-.9zM106.8 273.1h.9v.9h-.9zM110.3 262.1h.9v.9h-.9zM114.7 260.9h.9v.9h-.9zM111.7 265.0h.9v.9h-.9zM112.3 283.7h.9v.9h-.9zM111.0 266.3h.9v.9h-.9zM116.2 262.2h.9v.9h-.9zM111.9 264.6h.9v.9h-.9zM104.1 272.2h.9v.9h-.9zM109.5 274.7h.9v.9h-.9zM104.9 274.2h.9v.9h-.9zM100.3 290.2h.9v.9h-.9zM110.1 271.2h.9v.9h-.9zM116.8 275.8h.9v.9h-.9zM112.2 270.3h.9v.9h-.9zM107.8 275.4h.9v.9h-.9zM108.6 260.4h.9v.9h-.9zM116.1 265.1h.9v.9h-.9zM112.6 267.7h.9v.9h-.9zM112.2 266.7h.9v.9h-.9zM111.8 253.4h.9v.9h-.9zM112.1 274.6h.9v.9h-.9zM114.9 264.0h.9v.9h-.9zM114.0 264.2h.9v.9h-.9zM112.8 266.2h.9v.9h-.9zM108.2 269.2h.9v.9h-.9zM113.8 270.2h.9v.9h-.9zM109.5 261.0h.9v.9h-.9zM115.9 259.5h.9v.9h-.9zM107.4 273.4h.9v.9h-.9zM111.5 269.8h.9v.9h-.9zM112.0 265.9h.9v.9h-.9zM107.2 267.4h.9v.9h-.9zM118.2 258.8h.9v.9h-.9zM117.3 264.8h.9v.9h-.9zM110.3 277.9h.9v.9h-.9zM114.8 259.3h.9v.9h-.9zM113.4 278.4h.9v.9h-.9zM102.6 280.3h.9v.9h-.9zM112.9 264.7h.9v.9h-.9zM111.8 274.2h.9v.9h-.9zM112.3 258.0h.9v.9h-.9zM108.1 258.7h.9v.9h-.9zM111.0 260.0h.9v.9h-.9zM111.4 266.0h.9v.9h-.9zM116.3 263.6h.9v.9h-.9zM113.2 264.1h.9v.9h-.9zM112.0 269.2h.9v.9h-.9zM117.5 250.0h.9v.9h-.9zM110.0 273.2h.9v.9h-.9zM110.6 259.3h.9v.9h-.9zM105.5 267.9h.9v.9h-.9zM117.6 262.1h.9v.9h-.9zM115.5 258.2h.9v.9h-.9zM115.3 256.8h.9v.9h-.9zM114.4 259.9h.9v.9h-.9zM112.4 268.2h.9v.9h-.9zM112.8 272.2h.9v.9h-.9zM111.1 273.0h.9v.9h-.9zM111.3 261.9h.9v.9h-.9zM112.2 262.8h.9v.9h-.9zM117.4 258.6h.9v.9h-.9zM114.0 270.4h.9v.9h-.9zM111.8 254.2h.9v.9h-.9zM109.9 278.5h.9v.9h-.9zM109.7 266.5h.9v.9h-.9zM117.8 259.4h.9v.9h-.9zM113.8 269.8h.9v.9h-.9zM112.2 275.6h.9v.9h-.9zM110.8 271.7h.9v.9h-.9zM108.0 278.4h.9v.9h-.9zM111.8 269.6h.9v.9h-.9zM115.1 275.2h.9v.9h-.9zM110.6 278.2h.9v.9h-.9zM111.2 268.3h.9v.9h-.9zM111.2 279.2h.9v.9h-.9zM112.4 269.4h.9v.9h-.9zM106.3 272.6h.9v.9h-.9zM111.2 262.5h.9v.9h-.9zM108.9 268.4h.9v.9h-.9zM115.2 272.0h.9v.9h-.9zM109.2 260.9h.9v.9h-.9zM114.1 271.8h.9v.9h-.9zM117.5 267.6h.9v.9h-.9zM110.9 271.2h.9v.9h-.9zM109.8 254.3h.9v.9h-.9zM112.7 267.3h.9v.9h-.9zM112.0 273.1h.9v.9h-.9zM108.4 265.3h.9v.9h-.9zM113.7 268.1h.9v.9h-.9zM119.3 247.2h.9v.9h-.9zM111.1 273.8h.9v.9h-.9zM111.3 264.3h.9v.9h-.9zM108.2 277.0h.9v.9h-.9zM113.1 254.8h.9v.9h-.9zM107.5 276.2h.9v.9h-.9zM108.0 269.3h.9v.9h-.9zM116.6 271.4h.9v.9h-.9zM108.7 264.0h.9v.9h-.9zM115.9 261.7h.9v.9h-.9zM117.5 280.9h.9v.9h-.9zM112.9 262.1h.9v.9h-.9zM114.0 262.3h.9v.9h-.9zM119.0 262.2h.9v.9h-.9zM111.3 261.7h.9v.9h-.9zM109.9 278.2h.9v.9h-.9zM107.1 283.7h.9v.9h-.9zM112.2 263.4h.9v.9h-.9zM117.3 253.0h.9v.9h-.9zM115.5 274.6h.9v.9h-.9zM108.6 278.4h.9v.9h-.9zM108.9 276.2h.9v.9h-.9zM110.2 277.8h.9v.9h-.9zM113.1 261.7h.9v.9h-.9zM111.3 267.8h.9v.9h-.9zM112.8 258.3h.9v.9h-.9zM113.1 257.8h.9v.9h-.9zM110.9 276.1h.9v.9h-.9zM111.9 263.8h.9v.9h-.9zM112.7 284.1h.9v.9h-.9zM111.7 269.2h.9v.9h-.9zM113.8 262.9h.9v.9h-.9zM118.7 270.0h.9v.9h-.9zM114.1 279.9h.9v.9h-.9zM112.2 271.8h.9v.9h-.9zM105.9 263.7h.9v.9h-.9zM113.4 270.3h.9v.9h-.9zM105.0 282.5h.9v.9h-.9zM106.9 268.1h.9v.9h-.9zM115.1 261.1h.9v.9h-.9zM114.5 274.1h.9v.9h-.9zM111.5 269.8h.9v.9h-.9zM105.8 264.5h.9v.9h-.9zM110.7 266.6h.9v.9h-.9zM109.6 264.7h.9v.9h-.9zM114.3 269.2h.9v.9h-.9zM120.1 264.3h.9v.9h-.9zM112.8 276.1h.9v.9h-.9zM109.2 275.2h.9v.9h-.9zM107.8 260.1h.9v.9h-.9zM111.8 271.5h.9v.9h-.9zM111.4 275.2h.9v.9h-.9zM107.9 274.3h.9v.9h-.9zM112.4 275.5h.9v.9h-.9zM107.9 267.2h.9v.9h-.9zM116.0 259.3h.9v.9h-.9zM115.8 272.7h.9v.9h-.9zM115.9 258.6h.9v.9h-.9zM110.3 254.3h.9v.9h-.9zM113.9 274.6h.9v.9h-.9zM111.5 263.7h.9v.9h-.9zM110.6 267.2h.9v.9h-.9zM110.8 259.4h.9v.9h-.9zM107.3 262.0h.9v.9h-.9zM106.8 263.5h.9v.9h-.9zM114.9 264.2h.9v.9h-.9zM111.3 271.5h.9v.9h-.9zM112.8 251.8h.9v.9h-.9zM115.6 271.6h.9v.9h-.9zM105.8 264.0h.9v.9h-.9zM109.2 262.7h.9v.9h-.9zM112.6 272.9h.9v.9h-.9zM113.4 267.1h.9v.9h-.9zM110.6 258.5h.9v.9h-.9zM115.7 279.2h.9v.9h-.9zM112.8 262.0h.9v.9h-.9zM107.6 272.9h.9v.9h-.9zM108.6 272.0h.9v.9h-.9zM114.9 276.7h.9v.9h-.9zM113.7 264.3h.9v.9h-.9zM105.2 279.8h.9v.9h-.9zM116.9 260.3h.9v.9h-.9zM114.2 275.1h.9v.9h-.9zM116.8 260.1h.9v.9h-.9zM110.6 266.8h.9v.9h-.9zM110.9 282.5h.9v.9h-.9zM107.9 273.2h.9v.9h-.9zM121.1 263.6h.9v.9h-.9zM111.4 284.7h.9v.9h-.9zM117.7 267.5h.9v.9h-.9zM109.7 264.2h.9v.9h-.9zM112.6 273.3h.9v.9h-.9zM106.0 263.9h.9v.9h-.9zM110.6 277.3h.9v.9h-.9zM115.5 274.8h.9v.9h-.9zM107.5 267.2h.9v.9h-.9zM115.9 261.7h.9v.9h-.9zM113.2 269.0h.9v.9h-.9zM108.2 270.9h.9v.9h-.9zM110.2 262.7h.9v.9h-.9zM110.3 273.5h.9v.9h-.9zM111.8 254.2h.9v.9h-.9zM110.1 266.6h.9v.9h-.9zM109.0 267.5h.9v.9h-.9zM110.9 267.2h.9v.9h-.9zM108.3 272.9h.9v.9h-.9zM107.4 262.7h.9v.9h-.9zM111.8 272.8h.9v.9h-.9zM115.2 265.3h.9v.9h-.9zM106.5 267.3h.9v.9h-.9zM112.0 258.8h.9v.9h-.9zM109.7 261.6h.9v.9h-.9zM108.5 273.2h.9v.9h-.9zM115.1 259.8h.9v.9h-.9zM110.1 270.1h.9v.9h-.9zM117.4 272.7h.9v.9h-.9zM109.2 277.5h.9v.9h-.9zM113.4 278.7h.9v.9h-.9zM111.2 266.9h.9v.9h-.9zM109.3 262.5h.9v.9h-.9zM114.1 274.4h.9v.9h-.9zM111.4 271.0h.9v.9h-.9zM114.2 275.1h.9v.9h-.9zM111.8 268.7h.9v.9h-.9zM108.1 279.4h.9v.9h-.9zM111.6 274.7h.9v.9h-.9zM112.2 273.4h.9v.9h-.9zM115.5 269.9h.9v.9h-.9zM108.7 273.3h.9v.9h-.9zM111.9 270.2h.9v.9h-.9zM105.8 273.9h.9v.9h-.9zM114.3 274.0h.9v.9h-.9zM108.1 267.3h.9v.9h-.9zM105.5 284.8h.9v.9h-.9zM111.8 267.9h.9v.9h-.9zM116.0 273.0h.9v.9h-.9zM106.5 271.2h.9v.9h-.9zM108.1 269.2h.9v.9h-.9zM109.3 284.5h.9v.9h-.9zM107.9 268.8h.9v.9h-.9zM113.4 258.6h.9v.9h-.9zM109.1 265.3h.9v.9h-.9zM109.4 267.9h.9v.9h-.9zM114.1 282.4h.9v.9h-.9zM109.3 271.6h.9v.9h-.9zM113.6 274.1h.9v.9h-.9zM108.5 263.6h.9v.9h-.9zM107.6 273.7h.9v.9h-.9zM105.4 277.3h.9v.9h-.9zM118.7 277.1h.9v.9h-.9zM110.8 264.3h.9v.9h-.9zM112.9 272.2h.9v.9h-.9zM111.9 270.7h.9v.9h-.9zM112.6 260.9h.9v.9h-.9zM112.2 268.3h.9v.9h-.9zM118.9 262.4h.9v.9h-.9zM108.3 254.4h.9v.9h-.9zM106.4 276.2h.9v.9h-.9zM108.4 274.6h.9v.9h-.9zM107.2 268.4h.9v.9h-.9zM114.7 257.4h.9v.9h-.9zM115.0 277.1h.9v.9h-.9zM108.5 272.5h.9v.9h-.9zM107.0 278.8h.9v.9h-.9zM110.7 279.2h.9v.9h-.9zM117.0 261.7h.9v.9h-.9zM101.8 280.5h.9v.9h-.9zM113.9 265.6h.9v.9h-.9zM108.1 270.4h.9v.9h-.9zM115.7 265.6h.9v.9h-.9zM108.1 270.9h.9v.9h-.9zM111.0 277.0h.9v.9h-.9zM106.6 272.7h.9v.9h-.9zM108.5 269.6h.9v.9h-.9zM117.0 263.5h.9v.9h-.9zM115.0 269.1h.9v.9h-.9zM110.6 263.1h.9v.9h-.9zM108.9 266.9h.9v.9h-.9zM105.2 272.3h.9v.9h-.9zM110.6 265.4h.9v.9h-.9zM111.9 267.7h.9v.9h-.9zM111.7 264.4h.9v.9h-.9zM111.7 282.9h.9v.9h-.9zM108.0 280.4h.9v.9h-.9zM111.8 271.8h.9v.9h-.9zM111.9 268.2h.9v.9h-.9zM116.6 281.1h.9v.9h-.9zM118.7 266.6h.9v.9h-.9zM111.5 268.2h.9v.9h-.9zM109.2 272.3h.9v.9h-.9zM111.8 270.8h.9v.9h-.9zM109.8 279.8h.9v.9h-.9zM109.3 270.0h.9v.9h-.9zM111.8 283.4h.9v.9h-.9zM108.2 264.6h.9v.9h-.9zM114.2 272.1h.9v.9h-.9zM111.6 261.7h.9v.9h-.9zM112.9 280.8h.9v.9h-.9zM111.3 266.6h.9v.9h-.9zM109.4 269.7h.9v.9h-.9zM108.6 277.1h.9v.9h-.9zM111.1 277.9h.9v.9h-.9zM110.0 261.9h.9v.9h-.9zM112.8 265.5h.9v.9h-.9zM112.0 258.7h.9v.9h-.9zM107.1 272.5h.9v.9h-.9zM112.2 267.6h.9v.9h-.9zM107.2 269.0h.9v.9h-.9zM109.8 265.0h.9v.9h-.9zM110.9 266.4h.9v.9h-.9zM104.5 267.8h.9v.9h-.9zM112.3 272.0h.9v.9h-.9zM112.5 278.9h.9v.9h-.9zM111.4 255.2h.9v.9h-.9zM110.5 268.6h.9v.9h-.9zM110.7 266.4h.9v.9h-.9zM108.5 274.1h.9v.9h-.9zM111.0 262.4h.9v.9h-.9zM110.0 268.7h.9v.9h-.9zM112.3 261.0h.9v.9h-.9zM107.7 276.1h.9v.9h-.9zM112.8 268.7h.9v.9h-.9zM112.5 267.0h.9v.9h-.9zM111.5 271.4h.9v.9h-.9zM110.4 267.7h.9v.9h-.9zM114.0 256.3h.9v.9h-.9zM106.0 276.4h.9v.9h-.9zM113.7 269.5h.9v.9h-.9zM112.9 266.9h.9v.9h-.9zM113.0 274.8h.9v.9h-.9zM113.4 276.3h.9v.9h-.9zM109.6 262.2h.9v.9h-.9zM111.1 263.6h.9v.9h-.9zM114.3 278.0h.9v.9h-.9zM113.6 277.6h.9v.9h-.9zM112.7 262.8h.9v.9h-.9zM106.5 263.5h.9v.9h-.9zM113.9 262.8h.9v.9h-.9zM116.2 262.4h.9v.9h-.9zM115.6 255.1h.9v.9h-.9zM112.8 268.2h.9v.9h-.9zM106.4 262.9h.9v.9h-.9zM115.4 257.9h.9v.9h-.9zM111.5 275.3h.9v.9h-.9zM102.9 269.3h.9v.9h-.9zM113.4 267.2h.9v.9h-.9zM106.6 276.3h.9v.9h-.9zM107.3 277.1h.9v.9h-.9zM109.7 267.5h.9v.9h-.9zM116.6 266.0h.9v.9h-.9zM110.7 263.5h.9v.9h-.9zM113.0 280.2h.9v.9h-.9zM118.3 269.2h.9v.9h-.9zM117.7 257.2h.9v.9h-.9zM111.6 268.8h.9v.9h-.9zM111.1 274.1h.9v.9h-.9zM107.5 274.7h.9v.9h-.9zM109.5 283.0h.9v.9h-.9zM113.5 277.2h.9v.9h-.9zM113.4 263.8h.9v.9h-.9zM112.4 267.6h.9v.9h-.9zM115.6 257.2h.9v.9h-.9zM109.2 272.0h.9v.9h-.9zM111.8 269.7h.9v.9h-.9zM114.6 286.0h.9v.9h-.9zM114.1 267.9h.9v.9h-.9zM115.9 251.3h.9v.9h-.9zM113.4 262.9h.9v.9h-.9zM110.9 270.0h.9v.9h-.9zM113.3 258.8h.9v.9h-.9zM108.4 264.6h.9v.9h-.9zM106.1 269.6h.9v.9h-.9zM114.1 269.6h.9v.9h-.9zM111.8 267.5h.9v.9h-.9zM113.1 261.5h.9v.9h-.9zM105.9 277.8h.9v.9h-.9zM110.7 265.5h.9v.9h-.9zM109.8 266.3h.9v.9h-.9zM108.9 260.7h.9v.9h-.9zM103.9 268.0h.9v.9h-.9zM110.8 273.8h.9v.9h-.9zM115.2 255.1h.9v.9h-.9zM113.4 267.2h.9v.9h-.9zM109.8 274.9h.9v.9h-.9zM111.9 265.9h.9v.9h-.9zM114.7 268.5h.9v.9h-.9zM102.1 266.7h.9v.9h-.9zM111.6 278.0h.9v.9h-.9zM114.0 275.1h.9v.9h-.9zM114.5 268.6h.9v.9h-.9zM118.1 252.3h.9v.9h-.9zM116.1 258.6h.9v.9h-.9zM113.1 274.7h.9v.9h-.9zM113.1 279.9h.9v.9h-.9zM114.8 268.8h.9v.9h-.9zM110.1 278.5h.9v.9h-.9zM111.9 264.3h.9v.9h-.9zM115.3 265.2h.9v.9h-.9zM119.0 264.2h.9v.9h-.9zM111.4 271.8h.9v.9h-.9zM111.8 257.8h.9v.9h-.9zM112.7 274.7h.9v.9h-.9zM116.8 274.9h.9v.9h-.9zM111.9 260.5h.9v.9h-.9zM117.3 255.7h.9v.9h-.9zM108.5 273.1h.9v.9h-.9zM111.3 264.3h.9v.9h-.9zM111.3 252.2h.9v.9h-.9zM114.8 272.5h.9v.9h-.9zM115.8 267.3h.9v.9h-.9zM106.6 268.5h.9v.9h-.9zM108.7 285.5h.9v.9h-.9zM113.2 268.7h.9v.9h-.9zM109.6 264.6h.9v.9h-.9zM106.5 272.6h.9v.9h-.9zM115.7 258.9h.9v.9h-.9zM113.8 262.0h.9v.9h-.9zM113.8 270.1h.9v.9h-.9zM110.3 265.6h.9v.9h-.9zM115.7 263.0h.9v.9h-.9zM111.1 280.8h.9v.9h-.9zM115.9 272.1h.9v.9h-.9zM108.7 276.2h.9v.9h-.9zM108.9 274.1h.9v.9h-.9zM112.7 271.5h.9v.9h-.9zM109.5 280.3h.9v.9h-.9zM114.4 266.9h.9v.9h-.9zM112.9 281.0h.9v.9h-.9zM108.7 263.8h.9v.9h-.9zM112.3 266.5h.9v.9h-.9zM110.7 259.5h.9v.9h-.9zM115.3 264.0h.9v.9h-.9zM109.7 273.6h.9v.9h-.9zM110.4 279.7h.9v.9h-.9zM116.4 261.1h.9v.9h-.9zM120.1 263.6h.9v.9h-.9zM119.2 261.5h.9v.9h-.9zM112.2 263.1h.9v.9h-.9zM112.8 259.6h.9v.9h-.9zM117.5 265.5h.9v.9h-.9zM111.6 256.5h.9v.9h-.9zM108.5 271.4h.9v.9h-.9zM112.4 268.4h.9v.9h-.9zM113.6 262.9h.9v.9h-.9zM109.0 263.2h.9v.9h-.9zM106.1 262.4h.9v.9h-.9zM106.8 284.9h.9v.9h-.9zM114.4 257.5h.9v.9h-.9zM109.3 281.2h.9v.9h-.9zM111.5 273.1h.9v.9h-.9zM112.8 265.5h.9v.9h-.9zM114.2 259.0h.9v.9h-.9zM110.8 276.6h.9v.9h-.9zM113.8 279.6h.9v.9h-.9zM108.8 263.9h.9v.9h-.9zM110.7 267.2h.9v.9h-.9zM108.3 278.2h.9v.9h-.9zM116.1 268.4h.9v.9h-.9zM111.9 282.7h.9v.9h-.9zM109.3 266.1h.9v.9h-.9zM110.7 273.1h.9v.9h-.9zM111.2 260.2h.9v.9h-.9zM114.5 281.7h.9v.9h-.9zM106.3 266.9h.9v.9h-.9zM108.3 255.2h.9v.9h-.9zM110.6 268.5h.9v.9h-.9zM121.1 261.9h.9v.9h-.9zM115.4 279.9h.9v.9h-.9zM111.6 266.4h.9v.9h-.9zM114.6 266.8h.9v.9h-.9zM119.4 268.1h.9v.9h-.9zM111.2 280.2h.9v.9h-.9zM110.7 268.9h.9v.9h-.9zM116.4 273.1h.9v.9h-.9zM113.8 271.1h.9v.9h-.9zM114.4 264.9h.9v.9h-.9zM110.2 270.2h.9v.9h-.9zM118.9 264.4h.9v.9h-.9zM118.2 258.2h.9v.9h-.9zM114.0 275.8h.9v.9h-.9zM114.5 257.2h.9v.9h-.9zM104.7 281.3h.9v.9h-.9zM114.3 273.8h.9v.9h-.9zM111.3 268.3h.9v.9h-.9zM113.6 262.1h.9v.9h-.9zM114.5 265.4h.9v.9h-.9zM110.8 272.6h.9v.9h-.9zM105.9 277.5h.9v.9h-.9zM113.3 269.7h.9v.9h-.9zM109.3 277.1h.9v.9h-.9zM110.8 265.3h.9v.9h-.9zM109.8 271.5h.9v.9h-.9zM110.8 258.2h.9v.9h-.9zM103.7 279.0h.9v.9h-.9zM116.4 266.9h.9v.9h-.9zM112.9 265.0h.9v.9h-.9zM116.0 274.2h.9v.9h-.9zM119.1 269.0h.9v.9h-.9zM112.1 248.6h.9v.9h-.9zM105.5 272.8h.9v.9h-.9zM108.8 260.2h.9v.9h-.9zM107.7 278.7h.9v.9h-.9zM110.2 287.2h.9v.9h-.9zM112.3 264.7h.9v.9h-.9zM104.8 273.5h.9v.9h-.9zM113.2 266.0h.9v.9h-.9zM106.6 274.3h.9v.9h-.9zM113.1 272.4h.9v.9h-.9zM111.6 277.8h.9v.9h-.9zM110.9 262.2h.9v.9h-.9zM111.7 279.8h.9v.9h-.9zM110.1 263.1h.9v.9h-.9zM109.8 271.8h.9v.9h-.9zM105.9 280.4h.9v.9h-.9zM111.9 273.6h.9v.9h-.9zM118.6 257.8h.9v.9h-.9zM119.1 259.1h.9v.9h-.9zM116.8 262.3h.9v.9h-.9zM114.5 266.6h.9v.9h-.9zM109.6 278.1h.9v.9h-.9zM117.2 256.2h.9v.9h-.9zM111.8 271.9h.9v.9h-.9zM111.8 273.0h.9v.9h-.9zM111.0 273.1h.9v.9h-.9zM112.3 271.6h.9v.9h-.9zM110.4 280.2h.9v.9h-.9zM111.7 272.1h.9v.9h-.9zM108.1 277.0h.9v.9h-.9zM110.7 273.3h.9v.9h-.9zM120.2 276.1h.9v.9h-.9zM111.7 255.2h.9v.9h-.9zM111.1 278.1h.9v.9h-.9zM113.9 265.5h.9v.9h-.9zM114.5 264.9h.9v.9h-.9zM108.0 264.1h.9v.9h-.9zM111.3 255.8h.9v.9h-.9zM115.3 263.8h.9v.9h-.9zM113.0 263.0h.9v.9h-.9zM112.4 271.7h.9v.9h-.9zM117.6 254.7h.9v.9h-.9zM109.6 280.1h.9v.9h-.9zM112.3 270.2h.9v.9h-.9zM110.1 267.9h.9v.9h-.9zM117.4 260.2h.9v.9h-.9zM105.0 267.3h.9v.9h-.9zM109.6 262.0h.9v.9h-.9zM110.1 265.8h.9v.9h-.9zM114.4 267.1h.9v.9h-.9zM114.2 265.9h.9v.9h-.9zM117.0 255.4h.9v.9h-.9zM106.3 270.1h.9v.9h-.9zM114.7 260.5h.9v.9h-.9zM110.9 270.3h.9v.9h-.9zM109.6 283.1h.9v.9h-.9zM113.9 271.7h.9v.9h-.9zM108.7 268.3h.9v.9h-.9zM104.5 261.6h.9v.9h-.9zM110.7 259.3h.9v.9h-.9zM106.6 259.9h.9v.9h-.9zM109.7 275.1h.9v.9h-.9zM113.3 262.3h.9v.9h-.9zM113.1 268.2h.9v.9h-.9zM117.7 260.6h.9v.9h-.9zM111.3 269.6h.9v.9h-.9zM106.5 281.8h.9v.9h-.9zM109.3 265.3h.9v.9h-.9zM108.7 268.1h.9v.9h-.9zM107.6 265.5h.9v.9h-.9zM113.6 273.7h.9v.9h-.9zM109.7 262.7h.9v.9h-.9zM104.9 264.9h.9v.9h-.9zM114.5 257.2h.9v.9h-.9zM111.6 258.8h.9v.9h-.9zM113.3 271.0h.9v.9h-.9zM112.4 286.4h.9v.9h-.9zM114.3 260.1h.9v.9h-.9zM112.1 275.1h.9v.9h-.9zM116.5 267.5h.9v.9h-.9zM113.5 259.8h.9v.9h-.9zM113.4 265.7h.9v.9h-.9zM113.5 265.9h.9v.9h-.9zM106.8 266.9h.9v.9h-.9zM111.4 282.5h.9v.9h-.9zM111.1 255.6h.9v.9h-.9zM112.7 270.7h.9v.9h-.9zM107.1 273.9h.9v.9h-.9zM117.9 260.8h.9v.9h-.9zM112.4 269.3h.9v.9h-.9zM107.6 277.4h.9v.9h-.9zM105.8 273.4h.9v.9h-.9zM111.0 272.1h.9v.9h-.9zM111.7 273.6h.9v.9h-.9zM109.4 255.8h.9v.9h-.9zM112.3 278.7h.9v.9h-.9zM109.7 286.0h.9v.9h-.9zM114.0 274.2h.9v.9h-.9zM109.4 277.3h.9v.9h-.9zM111.9 258.6h.9v.9h-.9zM115.5 265.5h.9v.9h-.9zM121.3 257.1h.9v.9h-.9zM108.4 266.6h.9v.9h-.9zM110.3 276.4h.9v.9h-.9zM109.0 264.7h.9v.9h-.9zM114.8 265.8h.9v.9h-.9zM107.9 257.6h.9v.9h-.9zM110.3 268.5h.9v.9h-.9zM111.9 269.2h.9v.9h-.9zM108.5 265.7h.9v.9h-.9zM108.6 265.5h.9v.9h-.9zM110.3 282.9h.9v.9h-.9zM104.4 264.6h.9v.9h-.9zM106.8 264.3h.9v.9h-.9zM110.5 263.7h.9v.9h-.9zM112.5 276.6h.9v.9h-.9zM111.3 283.7h.9v.9h-.9zM105.6 274.8h.9v.9h-.9zM110.3 264.5h.9v.9h-.9zM114.9 263.7h.9v.9h-.9zM114.0 274.8h.9v.9h-.9zM111.7 262.2h.9v.9h-.9zM108.8 280.7h.9v.9h-.9zM114.3 277.1h.9v.9h-.9zM109.9 270.3h.9v.9h-.9zM107.8 275.7h.9v.9h-.9zM109.1 275.6h.9v.9h-.9zM117.2 276.3h.9v.9h-.9zM112.8 260.6h.9v.9h-.9zM116.2 274.3h.9v.9h-.9zM110.3 266.9h.9v.9h-.9zM115.4 261.0h.9v.9h-.9zM109.8 270.6h.9v.9h-.9zM111.4 267.3h.9v.9h-.9zM121.0 256.0h.9v.9h-.9zM114.8 255.5h.9v.9h-.9zM110.2 263.0h.9v.9h-.9zM111.7 278.9h.9v.9h-.9zM113.2 281.6h.9v.9h-.9zM116.4 270.4h.9v.9h-.9zM110.2 278.0h.9v.9h-.9zM105.7 268.7h.9v.9h-.9zM111.0 268.6h.9v.9h-.9zM112.1 270.5h.9v.9h-.9zM112.4 260.6h.9v.9h-.9zM116.7 258.6h.9v.9h-.9zM113.1 268.5h.9v.9h-.9zM114.9 264.4h.9v.9h-.9zM108.0 263.4h.9v.9h-.9zM115.1 269.3h.9v.9h-.9zM119.5 262.0h.9v.9h-.9zM114.8 274.0h.9v.9h-.9zM112.9 267.9h.9v.9h-.9zM112.6 266.0h.9v.9h-.9zM118.4 265.4h.9v.9h-.9zM108.7 269.3h.9v.9h-.9zM111.6 264.0h.9v.9h-.9zM113.7 264.6h.9v.9h-.9zM114.7 272.1h.9v.9h-.9zM110.4 274.0h.9v.9h-.9zM113.1 276.9h.9v.9h-.9zM111.0 257.2h.9v.9h-.9zM112.4 265.5h.9v.9h-.9zM111.5 265.9h.9v.9h-.9zM107.9 272.2h.9v.9h-.9zM111.9 265.4h.9v.9h-.9zM115.2 262.9h.9v.9h-.9zM108.5 276.2h.9v.9h-.9zM111.1 270.3h.9v.9h-.9zM114.4 258.8h.9v.9h-.9zM108.1 280.3h.9v.9h-.9zM112.7 275.1h.9v.9h-.9zM108.2 266.8h.9v.9h-.9zM116.1 271.8h.9v.9h-.9zM120.3 258.2h.9v.9h-.9zM119.3 272.0h.9v.9h-.9zM111.2 267.4h.9v.9h-.9zM114.7 261.2h.9v.9h-.9zM112.4 265.6h.9v.9h-.9zM112.4 262.9h.9v.9h-.9zM117.6 266.4h.9v.9h-.9zM107.3 272.7h.9v.9h-.9zM115.8 266.4h.9v.9h-.9zM111.8 264.7h.9v.9h-.9zM117.1 239.5h.9v.9h-.9zM112.7 268.7h.9v.9h-.9zM109.6 256.6h.9v.9h-.9zM113.0 269.6h.9v.9h-.9zM114.6 274.8h.9v.9h-.9zM112.1 270.4h.9v.9h-.9zM113.8 264.7h.9v.9h-.9zM110.1 268.4h.9v.9h-.9zM104.3 272.3h.9v.9h-.9zM115.2 262.6h.9v.9h-.9zM114.5 262.8h.9v.9h-.9zM112.5 261.6h.9v.9h-.9zM112.2 276.7h.9v.9h-.9zM115.7 266.1h.9v.9h-.9zM110.4 276.3h.9v.9h-.9zM109.5 268.3h.9v.9h-.9zM111.3 269.4h.9v.9h-.9zM116.3 264.7h.9v.9h-.9zM107.0 274.8h.9v.9h-.9zM116.3 271.7h.9v.9h-.9zM109.7 271.6h.9v.9h-.9zM108.0 266.2h.9v.9h-.9zM116.5 260.2h.9v.9h-.9zM111.7 280.4h.9v.9h-.9zM107.3 269.4h.9v.9h-.9zM110.7 267.2h.9v.9h-.9zM115.4 276.8h.9v.9h-.9zM116.3 273.5h.9v.9h-.9zM110.5 273.2h.9v.9h-.9zM113.5 264.8h.9v.9h-.9zM114.6 283.5h.9v.9h-.9zM109.7 272.7h.9v.9h-.9zM113.3 271.6h.9v.9h-.9zM111.9 267.4h.9v.9h-.9zM110.1 259.7h.9v.9h-.9zM110.2 260.2h.9v.9h-.9zM112.2 271.2h.9v.9h-.9zM112.1 271.2h.9v.9h-.9zM110.0 268.1h.9v.9h-.9zM110.5 261.2h.9v.9h-.9zM116.0 255.9h.9v.9h-.9zM112.8 265.7h.9v.9h-.9zM115.2 256.3h.9v.9h-.9zM116.3 272.2h.9v.9h-.9zM114.1 275.3h.9v.9h-.9zM120.2 283.4h.9v.9h-.9zM109.0 276.5h.9v.9h-.9zM114.9 262.5h.9v.9h-.9zM110.9 263.1h.9v.9h-.9zM118.7 240.0h.9v.9h-.9zM118.1 260.5h.9v.9h-.9zM105.0 271.6h.9v.9h-.9zM108.5 277.5h.9v.9h-.9zM114.4 271.3h.9v.9h-.9zM114.8 270.9h.9v.9h-.9zM114.7 268.4h.9v.9h-.9zM111.7 273.3h.9v.9h-.9zM113.6 277.7h.9v.9h-.9zM114.4 259.5h.9v.9h-.9zM111.7 265.4h.9v.9h-.9zM115.7 256.4h.9v.9h-.9zM103.9 284.9h.9v.9h-.9zM114.3 276.2h.9v.9h-.9zM108.3 276.1h.9v.9h-.9zM115.5 257.9h.9v.9h-.9zM111.2 270.2h.9v.9h-.9zM108.8 268.8h.9v.9h-.9zM113.3 268.2h.9v.9h-.9zM108.7 269.2h.9v.9h-.9zM108.7 274.2h.9v.9h-.9zM106.4 269.2h.9v.9h-.9zM111.9 274.6h.9v.9h-.9zM113.8 269.1h.9v.9h-.9zM115.7 264.2h.9v.9h-.9zM111.5 268.0h.9v.9h-.9zM115.8 263.1h.9v.9h-.9zM112.1 274.2h.9v.9h-.9zM111.7 266.8h.9v.9h-.9zM114.1 269.3h.9v.9h-.9zM115.8 263.4h.9v.9h-.9zM110.8 258.8h.9v.9h-.9zM111.1 275.4h.9v.9h-.9zM111.4 261.4h.9v.9h-.9zM112.3 273.1h.9v.9h-.9zM108.8 273.5h.9v.9h-.9zM115.7 254.5h.9v.9h-.9zM110.6 262.7h.9v.9h-.9zM113.7 263.8h.9v.9h-.9zM109.0 264.5h.9v.9h-.9zM113.3 259.4h.9v.9h-.9zM113.4 272.9h.9v.9h-.9zM110.5 267.7h.9v.9h-.9zM119.3 266.7h.9v.9h-.9zM113.3 264.6h.9v.9h-.9zM118.4 266.7h.9v.9h-.9zM115.5 261.1h.9v.9h-.9zM109.6 269.8h.9v.9h-.9zM110.6 273.5h.9v.9h-.9zM113.6 267.9h.9v.9h-.9zM112.2 265.1h.9v.9h-.9zM112.2 260.7h.9v.9h-.9zM111.0 270.3h.9v.9h-.9zM105.5 274.9h.9v.9h-.9zM111.2 267.2h.9v.9h-.9zM104.0 268.0h.9v.9h-.9zM113.3 271.5h.9v.9h-.9zM109.4 287.6h.9v.9h-.9zM109.4 268.0h.9v.9h-.9zM111.2 271.4h.9v.9h-.9zM113.0 270.6h.9v.9h-.9zM106.8 253.6h.9v.9h-.9zM105.7 273.3h.9v.9h-.9zM108.2 265.9h.9v.9h-.9zM104.6 282.8h.9v.9h-.9zM108.5 268.9h.9v.9h-.9zM117.7 259.5h.9v.9h-.9zM108.2 269.3h.9v.9h-.9zM114.3 268.2h.9v.9h-.9zM107.1 267.6h.9v.9h-.9zM113.1 267.5h.9v.9h-.9zM110.8 259.7h.9v.9h-.9zM111.8 267.0h.9v.9h-.9zM114.0 272.7h.9v.9h-.9zM118.3 278.5h.9v.9h-.9zM112.7 273.1h.9v.9h-.9zM112.4 270.1h.9v.9h-.9zM108.5 279.0h.9v.9h-.9zM114.1 274.4h.9v.9h-.9zM111.1 280.8h.9v.9h-.9zM115.0 274.3h.9v.9h-.9zM111.8 267.8h.9v.9h-.9zM118.3 266.5h.9v.9h-.9zM104.9 274.2h.9v.9h-.9zM110.9 271.3h.9v.9h-.9zM115.2 268.0h.9v.9h-.9zM110.7 263.8h.9v.9h-.9zM109.1 255.4h.9v.9h-.9zM111.0 264.3h.9v.9h-.9zM107.0 257.3h.9v.9h-.9zM112.4 268.7h.9v.9h-.9zM120.8 263.1h.9v.9h-.9zM116.1 254.1h.9v.9h-.9zM108.0 275.8h.9v.9h-.9zM108.9 276.6h.9v.9h-.9zM110.5 270.1h.9v.9h-.9zM115.6 278.0h.9v.9h-.9zM109.0 283.5h.9v.9h-.9zM109.5 261.5h.9v.9h-.9zM115.2 273.9h.9v.9h-.9zM115.1 269.7h.9v.9h-.9zM110.7 272.3h.9v.9h-.9zM108.0 277.6h.9v.9h-.9zM106.4 266.9h.9v.9h-.9zM109.5 265.9h.9v.9h-.9zM104.0 267.6h.9v.9h-.9zM114.7 261.5h.9v.9h-.9zM109.7 269.2h.9v.9h-.9zM113.7 257.2h.9v.9h-.9zM118.7 257.0h.9v.9h-.9zM116.2 270.0h.9v.9h-.9zM107.9 270.6h.9v.9h-.9zM115.1 269.3h.9v.9h-.9zM116.2 252.6h.9v.9h-.9zM109.3 264.6h.9v.9h-.9zM108.6 266.7h.9v.9h-.9zM111.6 269.0h.9v.9h-.9zM106.2 267.9h.9v.9h-.9zM117.3 271.8h.9v.9h-.9zM103.3 273.4h.9v.9h-.9zM108.0 271.1h.9v.9h-.9zM111.0 269.2h.9v.9h-.9zM111.2 274.0h.9v.9h-.9zM112.6 264.8h.9v.9h-.9zM113.0 275.8h.9v.9h-.9zM111.2 272.2h.9v.9h-.9zM116.1 267.1h.9v.9h-.9zM104.3 273.5h.9v.9h-.9zM112.0 272.2h.9v.9h-.9zM109.4 277.3h.9v.9h-.9zM112.5 274.9h.9v.9h-.9zM112.8 270.7h.9v.9h-.9zM108.7 276.7h.9v.9h-.9zM109.7 270.8h.9v.9h-.9zM114.9 275.6h.9v.9h-.9zM113.3 267.5h.9v.9h-.9zM109.6 255.4h.9v.9h-.9zM119.3 273.4h.9v.9h-.9zM120.3 264.1h.9v.9h-.9zM106.7 263.5h.9v.9h-.9zM113.1 266.4h.9v.9h-.9zM121.0 256.7h.9v.9h-.9zM114.8 281.6h.9v.9h-.9zM112.8 271.5h.9v.9h-.9zM111.3 257.9h.9v.9h-.9zM110.1 273.6h.9v.9h-.9zM111.2 266.2h.9v.9h-.9zM110.0 283.3h.9v.9h-.9zM114.7 259.4h.9v.9h-.9zM110.6 253.5h.9v.9h-.9zM110.4 269.9h.9v.9h-.9zM107.7 268.7h.9v.9h-.9zM111.8 265.7h.9v.9h-.9zM108.8 255.4h.9v.9h-.9zM111.3 271.9h.9v.9h-.9zM115.8 278.0h.9v.9h-.9zM113.3 254.2h.9v.9h-.9zM113.8 275.6h.9v.9h-.9zM113.3 263.7h.9v.9h-.9zM112.2 285.0h.9v.9h-.9zM111.5 271.9h.9v.9h-.9zM110.9 267.9h.9v.9h-.9zM114.7 274.6h.9v.9h-.9zM108.1 274.6h.9v.9h-.9zM116.8 261.3h.9v.9h-.9zM112.1 273.4h.9v.9h-.9zM109.3 266.6h.9v.9h-.9zM110.2 257.0h.9v.9h-.9zM109.6 284.3h.9v.9h-.9zM112.6 265.7h.9v.9h-.9zM109.4 265.8h.9v.9h-.9zM116.1 268.4h.9v.9h-.9zM109.2 259.2h.9v.9h-.9zM103.8 264.0h.9v.9h-.9zM109.4 266.6h.9v.9h-.9zM104.8 269.3h.9v.9h-.9zM111.9 269.1h.9v.9h-.9zM115.8 274.1h.9v.9h-.9zM114.3 263.7h.9v.9h-.9zM107.2 274.9h.9v.9h-.9zM109.3 274.4h.9v.9h-.9zM118.4 256.9h.9v.9h-.9zM113.1 269.4h.9v.9h-.9zM112.0 261.8h.9v.9h-.9zM115.8 273.7h.9v.9h-.9zM120.8 266.3h.9v.9h-.9zM116.7 265.7h.9v.9h-.9zM112.5 258.7h.9v.9h-.9zM113.3 268.5h.9v.9h-.9zM114.2 261.7h.9v.9h-.9zM109.8 274.8h.9v.9h-.9zM108.2 270.0h.9v.9h-.9zM112.2 262.6h.9v.9h-.9zM108.6 277.1h.9v.9h-.9zM111.8 273.7h.9v.9h-.9zM112.3 264.1h.9v.9h-.9zM120.4 271.5h.9v.9h-.9zM108.9 268.3h.9v.9h-.9zM111.6 266.6h.9v.9h-.9zM111.4 269.7h.9v.9h-.9zM113.6 262.2h.9v.9h-.9zM115.8 263.1h.9v.9h-.9zM110.2 268.5h.9v.9h-.9zM109.0 281.1h.9v.9h-.9zM106.1 282.7h.9v.9h-.9zM108.7 268.7h.9v.9h-.9zM113.9 278.7h.9v.9h-.9zM112.2 268.1h.9v.9h-.9zM108.3 273.4h.9v.9h-.9zM110.7 275.6h.9v.9h-.9zM112.1 270.5h.9v.9h-.9zM113.8 284.4h.9v.9h-.9zM109.9 271.5h.9v.9h-.9zM111.1 260.6h.9v.9h-.9zM105.5 281.8h.9v.9h-.9zM107.9 268.1h.9v.9h-.9zM117.8 262.8h.9v.9h-.9zM104.1 252.2h.9v.9h-.9zM110.8 276.3h.9v.9h-.9zM112.8 273.8h.9v.9h-.9zM110.7 275.0h.9v.9h-.9zM109.1 277.2h.9v.9h-.9zM111.8 280.6h.9v.9h-.9zM112.0 268.2h.9v.9h-.9zM111.7 275.3h.9v.9h-.9zM105.2 267.4h.9v.9h-.9zM111.5 266.3h.9v.9h-.9zM108.9 277.9h.9v.9h-.9zM110.0 272.5h.9v.9h-.9zM112.8 258.6h.9v.9h-.9zM114.3 269.6h.9v.9h-.9zM115.2 265.2h.9v.9h-.9zM110.2 263.8h.9v.9h-.9zM115.3 269.5h.9v.9h-.9zM116.2 263.0h.9v.9h-.9zM116.1 254.9h.9v.9h-.9zM117.0 257.6h.9v.9h-.9zM111.5 281.3h.9v.9h-.9zM111.4 258.2h.9v.9h-.9zM115.0 268.2h.9v.9h-.9zM107.1 275.8h.9v.9h-.9zM112.8 272.5h.9v.9h-.9zM110.1 261.0h.9v.9h-.9zM110.7 267.0h.9v.9h-.9zM105.7 273.4h.9v.9h-.9zM108.8 276.1h.9v.9h-.9zM111.9 264.0h.9v.9h-.9zM115.2 258.3h.9v.9h-.9zM115.6 273.4h.9v.9h-.9zM111.7 276.5h.9v.9h-.9zM111.3 271.5h.9v.9h-.9zM109.0 266.0h.9v.9h-.9zM113.4 270.5h.9v.9h-.9zM111.1 269.8h.9v.9h-.9zM114.2 273.1h.9v.9h-.9zM118.3 255.8h.9v.9h-.9zM111.9 269.4h.9v.9h-.9zM106.6 270.7h.9v.9h-.9zM108.9 262.6h.9v.9h-.9zM106.8 273.3h.9v.9h-.9zM107.7 271.4h.9v.9h-.9zM116.7 262.7h.9v.9h-.9zM112.8 270.8h.9v.9h-.9zM106.5 261.9h.9v.9h-.9zM114.4 266.7h.9v.9h-.9zM116.5 268.7h.9v.9h-.9zM110.7 271.3h.9v.9h-.9zM109.6 277.6h.9v.9h-.9zM110.8 260.8h.9v.9h-.9zM113.0 257.2h.9v.9h-.9zM114.3 268.8h.9v.9h-.9zM116.3 269.1h.9v.9h-.9zM116.4 280.8h.9v.9h-.9zM116.3 270.2h.9v.9h-.9zM116.9 259.3h.9v.9h-.9zM114.4 272.7h.9v.9h-.9zM106.5 265.9h.9v.9h-.9zM111.5 258.3h.9v.9h-.9zM113.1 286.2h.9v.9h-.9zM110.6 271.7h.9v.9h-.9zM115.3 271.5h.9v.9h-.9zM110.7 273.3h.9v.9h-.9zM108.7 283.3h.9v.9h-.9zM117.2 267.3h.9v.9h-.9zM114.4 275.6h.9v.9h-.9zM112.8 260.8h.9v.9h-.9zM115.3 256.6h.9v.9h-.9zM115.8 276.2h.9v.9h-.9zM113.2 278.2h.9v.9h-.9zM103.2 277.6h.9v.9h-.9zM109.6 271.6h.9v.9h-.9zM110.4 270.7h.9v.9h-.9zM108.5 265.8h.9v.9h-.9zM112.7 278.9h.9v.9h-.9zM116.3 270.5h.9v.9h-.9zM110.3 273.1h.9v.9h-.9zM107.9 273.7h.9v.9h-.9zM119.3 271.4h.9v.9h-.9zM110.4 273.1h.9v.9h-.9zM107.6 276.5h.9v.9h-.9zM112.9 259.7h.9v.9h-.9zM113.5 271.2h.9v.9h-.9zM109.5 285.5h.9v.9h-.9zM114.8 263.1h.9v.9h-.9zM110.2 268.7h.9v.9h-.9zM108.7 276.8h.9v.9h-.9zM112.6 274.9h.9v.9h-.9zM114.8 271.2h.9v.9h-.9zM109.7 258.5h.9v.9h-.9zM113.2 271.3h.9v.9h-.9zM111.7 260.4h.9v.9h-.9zM122.2 256.4h.9v.9h-.9zM109.4 273.9h.9v.9h-.9zM117.0 263.3h.9v.9h-.9zM111.8 274.3h.9v.9h-.9zM111.5 291.0h.9v.9h-.9zM114.6 272.4h.9v.9h-.9zM115.2 271.6h.9v.9h-.9zM116.6 259.4h.9v.9h-.9zM113.2 263.2h.9v.9h-.9zM109.8 262.3h.9v.9h-.9zM110.1 265.9h.9v.9h-.9zM113.8 259.7h.9v.9h-.9zM114.1 262.6h.9v.9h-.9zM117.0 263.9h.9v.9h-.9zM113.5 260.5h.9v.9h-.9zM115.8 256.1h.9v.9h-.9zM117.5 255.5h.9v.9h-.9zM112.6 271.3h.9v.9h-.9zM106.7 272.2h.9v.9h-.9zM107.8 278.4h.9v.9h-.9zM106.8 279.1h.9v.9h-.9zM117.7 262.6h.9v.9h-.9zM108.9 275.1h.9v.9h-.9zM116.4 255.6h.9v.9h-.9zM114.1 283.3h.9v.9h-.9zM118.2 273.1h.9v.9h-.9zM115.6 264.8h.9v.9h-.9zM111.6 260.5h.9v.9h-.9zM111.3 271.6h.9v.9h-.9zM112.3 255.1h.9v.9h-.9zM112.6 262.6h.9v.9h-.9zM110.1 275.0h.9v.9h-.9zM111.9 269.1h.9v.9h-.9zM117.8 261.5h.9v.9h-.9zM105.9 279.0h.9v.9h-.9zM112.9 260.6h.9v.9h-.9zM108.7 272.5h.9v.9h-.9zM112.7 264.6h.9v.9h-.9zM115.0 260.7h.9v.9h-.9zM111.8 271.9h.9v.9h-.9zM114.8 259.8h.9v.9h-.9zM106.3 285.5h.9v.9h-.9zM116.0 261.9h.9v.9h-.9zM109.8 283.9h.9v.9h-.9zM114.2 259.4h.9v.9h-.9zM112.7 272.4h.9v.9h-.9zM102.7 265.8h.9v.9h-.9zM109.3 260.7h.9v.9h-.9zM112.8 269.1h.9v.9h-.9zM117.6 269.8h.9v.9h-.9zM113.0 258.9h.9v.9h-.9zM112.9 276.3h.9v.9h-.9zM106.9 266.0h.9v.9h-.9zM117.2 266.2h.9v.9h-.9zM118.5 267.2h.9v.9h-.9zM112.1 272.6h.9v.9h-.9zM111.2 256.3h.9v.9h-.9zM106.2 283.5h.9v.9h-.9zM115.2 270.5h.9v.9h-.9zM121.7 259.5h.9v.9h-.9zM114.6 259.7h.9v.9h-.9zM116.5 253.7h.9v.9h-.9zM114.0 257.7h.9v.9h-.9zM108.5 274.5h.9v.9h-.9zM116.8 263.1h.9v.9h-.9zM107.6 263.3h.9v.9h-.9zM111.2 265.2h.9v.9h-.9zM113.0 278.9h.9v.9h-.9zM115.2 264.2h.9v.9h-.9zM113.5 263.5h.9v.9h-.9zM113.4 277.2h.9v.9h-.9zM109.3 273.5h.9v.9h-.9zM107.4 271.7h.9v.9h-.9zM112.2 264.1h.9v.9h-.9zM109.4 259.1h.9v.9h-.9zM107.3 263.1h.9v.9h-.9zM107.4 267.9h.9v.9h-.9zM110.2 268.0h.9v.9h-.9zM105.3 275.1h.9v.9h-.9zM107.1 275.4h.9v.9h-.9zM106.1 273.7h.9v.9h-.9zM112.7 269.7h.9v.9h-.9zM113.5 260.5h.9v.9h-.9zM119.2 248.8h.9v.9h-.9zM106.6 268.1h.9v.9h-.9zM109.6 263.3h.9v.9h-.9zM115.3 261.9h.9v.9h-.9zM111.2 267.0h.9v.9h-.9zM110.8 260.4h.9v.9h-.9zM118.2 256.9h.9v.9h-.9zM110.8 268.5h.9v.9h-.9zM107.8 271.9h.9v.9h-.9zM107.3 266.8h.9v.9h-.9zM113.2 271.3h.9v.9h-.9zM113.1 266.3h.9v.9h-.9zM107.1 264.3h.9v.9h-.9zM108.5 271.0h.9v.9h-.9zM113.9 280.6h.9v.9h-.9zM114.1 262.5h.9v.9h-.9zM109.7 278.2h.9v.9h-.9zM114.2 276.8h.9v.9h-.9zM114.1 277.8h.9v.9h-.9zM105.6 266.7h.9v.9h-.9zM110.9 283.4h.9v.9h-.9zM113.5 268.4h.9v.9h-.9zM109.9 268.0h.9v.9h-.9zM104.3 271.6h.9v.9h-.9zM111.0 273.4h.9v.9h-.9zM114.7 267.2h.9v.9h-.9zM117.7 263.7h.9v.9h-.9zM104.1 282.4h.9v.9h-.9zM121.4 257.6h.9v.9h-.9zM107.9 263.6h.9v.9h-.9zM115.4 272.0h.9v.9h-.9zM116.4 270.7h.9v.9h-.9zM115.5 274.0h.9v.9h-.9zM112.5 260.6h.9v.9h-.9zM107.8 278.7h.9v.9h-.9zM114.3 270.5h.9v.9h-.9zM109.4 282.5h.9v.9h-.9zM102.9 265.3h.9v.9h-.9zM122.2 263.8h.9v.9h-.9zM114.5 265.0h.9v.9h-.9zM118.5 253.2h.9v.9h-.9zM108.7 265.5h.9v.9h-.9zM117.3 273.2h.9v.9h-.9zM117.7 261.7h.9v.9h-.9zM117.6 259.9h.9v.9h-.9zM111.9 274.7h.9v.9h-.9zM116.1 264.9h.9v.9h-.9zM116.1 266.3h.9v.9h-.9zM111.4 265.9h.9v.9h-.9zM113.3 262.1h.9v.9h-.9zM116.2 265.2h.9v.9h-.9zM111.8 275.2h.9v.9h-.9zM111.6 253.8h.9v.9h-.9zM115.7 265.3h.9v.9h-.9zM117.6 267.2h.9v.9h-.9zM110.5 259.7h.9v.9h-.9zM106.7 258.1h.9v.9h-.9zM109.7 275.8h.9v.9h-.9zM110.9 263.1h.9v.9h-.9zM113.1 275.4h.9v.9h-.9zM115.1 267.7h.9v.9h-.9zM113.1 265.4h.9v.9h-.9zM111.7 267.4h.9v.9h-.9zM113.9 268.2h.9v.9h-.9zM111.0 270.9h.9v.9h-.9zM113.4 267.2h.9v.9h-.9zM111.8 265.7h.9v.9h-.9zM120.5 265.9h.9v.9h-.9zM115.6 271.8h.9v.9h-.9zM111.3 269.1h.9v.9h-.9zM110.9 260.0h.9v.9h-.9zM112.4 261.8h.9v.9h-.9zM109.2 266.7h.9v.9h-.9zM111.6 261.9h.9v.9h-.9zM111.6 263.1h.9v.9h-.9zM115.8 260.2h.9v.9h-.9zM112.4 263.7h.9v.9h-.9zM111.4 267.1h.9v.9h-.9zM110.0 270.0h.9v.9h-.9zM110.4 265.0h.9v.9h-.9zM113.3 275.4h.9v.9h-.9zM112.9 264.6h.9v.9h-.9zM116.4 281.0h.9v.9h-.9zM111.9 270.0h.9v.9h-.9zM116.3 267.5h.9v.9h-.9zM114.2 262.5h.9v.9h-.9zM113.5 250.9h.9v.9h-.9zM108.3 264.2h.9v.9h-.9zM110.1 265.9h.9v.9h-.9zM115.4 274.6h.9v.9h-.9zM117.1 258.1h.9v.9h-.9zM114.0 274.5h.9v.9h-.9zM115.5 263.7h.9v.9h-.9zM112.4 268.6h.9v.9h-.9zM112.5 252.3h.9v.9h-.9zM111.8 265.7h.9v.9h-.9zM116.0 263.3h.9v.9h-.9zM114.4 268.4h.9v.9h-.9zM112.9 265.5h.9v.9h-.9zM112.6 259.3h.9v.9h-.9zM114.9 269.7h.9v.9h-.9zM114.3 268.5h.9v.9h-.9zM111.3 268.0h.9v.9h-.9zM118.0 270.0h.9v.9h-.9zM114.2 270.5h.9v.9h-.9zM113.5 264.9h.9v.9h-.9zM117.3 258.2h.9v.9h-.9zM116.2 258.1h.9v.9h-.9zM113.3 271.7h.9v.9h-.9zM114.9 268.6h.9v.9h-.9zM110.7 265.5h.9v.9h-.9zM111.8 262.8h.9v.9h-.9zM107.6 265.2h.9v.9h-.9zM116.7 265.1h.9v.9h-.9zM108.6 263.3h.9v.9h-.9zM115.3 261.5h.9v.9h-.9zM111.3 275.8h.9v.9h-.9zM111.0 266.1h.9v.9h-.9zM113.0 262.0h.9v.9h-.9zM114.2 258.5h.9v.9h-.9zM115.1 261.4h.9v.9h-.9zM118.1 268.6h.9v.9h-.9zM114.4 268.8h.9v.9h-.9zM115.8 263.9h.9v.9h-.9zM111.9 265.3h.9v.9h-.9zM115.4 263.5h.9v.9h-.9zM113.9 259.5h.9v.9h-.9zM112.3 271.5h.9v.9h-.9zM113.3 266.9h.9v.9h-.9zM113.3 277.4h.9v.9h-.9zM114.0 261.2h.9v.9h-.9zM114.5 264.3h.9v.9h-.9zM112.2 269.4h.9v.9h-.9zM111.6 263.8h.9v.9h-.9zM115.4 258.1h.9v.9h-.9zM109.1 260.3h.9v.9h-.9zM111.9 265.5h.9v.9h-.9zM117.5 266.7h.9v.9h-.9zM106.5 264.5h.9v.9h-.9zM111.7 270.0h.9v.9h-.9zM115.3 270.0h.9v.9h-.9zM109.2 266.6h.9v.9h-.9zM120.3 265.1h.9v.9h-.9zM106.8 263.7h.9v.9h-.9zM117.2 267.8h.9v.9h-.9zM117.5 269.6h.9v.9h-.9zM115.9 265.3h.9v.9h-.9zM112.9 267.2h.9v.9h-.9zM114.4 263.4h.9v.9h-.9zM111.2 257.9h.9v.9h-.9zM115.6 260.0h.9v.9h-.9zM110.6 268.8h.9v.9h-.9zM112.8 267.2h.9v.9h-.9zM116.1 273.0h.9v.9h-.9zM110.6 265.3h.9v.9h-.9zM112.6 269.3h.9v.9h-.9zM113.9 271.6h.9v.9h-.9zM110.0 270.0h.9v.9h-.9zM116.5 262.0h.9v.9h-.9zM114.4 264.1h.9v.9h-.9zM109.6 265.6h.9v.9h-.9zM113.4 260.1h.9v.9h-.9zM111.5 267.4h.9v.9h-.9zM111.8 270.1h.9v.9h-.9zM113.7 262.6h.9v.9h-.9zM111.7 274.9h.9v.9h-.9zM116.0 263.5h.9v.9h-.9zM111.7 264.0h.9v.9h-.9zM116.1 263.8h.9v.9h-.9zM113.4 261.5h.9v.9h-.9zM115.7 267.1h.9v.9h-.9zM112.1 265.1h.9v.9h-.9zM112.2 273.3h.9v.9h-.9zM110.5 268.0h.9v.9h-.9zM115.0 267.7h.9v.9h-.9zM115.9 263.9h.9v.9h-.9zM119.0 257.9h.9v.9h-.9zM116.9 264.6h.9v.9h-.9zM114.1 260.7h.9v.9h-.9zM113.0 269.8h.9v.9h-.9zM114.5 264.8h.9v.9h-.9zM113.4 273.3h.9v.9h-.9zM117.3 268.7h.9v.9h-.9zM116.0 269.2h.9v.9h-.9zM111.3 266.2h.9v.9h-.9zM111.7 266.0h.9v.9h-.9zM117.1 268.3h.9v.9h-.9zM114.3 269.6h.9v.9h-.9zM112.9 261.4h.9v.9h-.9zM116.6 267.5h.9v.9h-.9zM112.5 278.1h.9v.9h-.9zM112.8 264.6h.9v.9h-.9zM112.3 263.7h.9v.9h-.9zM108.4 261.5h.9v.9h-.9zM115.7 257.8h.9v.9h-.9zM110.4 270.9h.9v.9h-.9zM112.0 265.3h.9v.9h-.9zM111.6 266.5h.9v.9h-.9zM115.4 274.2h.9v.9h-.9zM113.3 277.5h.9v.9h-.9zM113.5 260.6h.9v.9h-.9zM109.1 270.3h.9v.9h-.9zM113.3 268.1h.9v.9h-.9zM109.7 267.0h.9v.9h-.9zM114.3 267.4h.9v.9h-.9zM114.5 264.9h.9v.9h-.9zM113.5 273.0h.9v.9h-.9zM118.8 268.1h.9v.9h-.9zM114.9 266.7h.9v.9h-.9zM115.0 271.2h.9v.9h-.9zM113.9 269.5h.9v.9h-.9zM113.0 267.3h.9v.9h-.9zM116.0 266.6h.9v.9h-.9zM116.4 273.8h.9v.9h-.9zM110.1 267.6h.9v.9h-.9zM116.2 264.6h.9v.9h-.9zM114.8 260.7h.9v.9h-.9zM116.0 263.3h.9v.9h-.9zM114.7 259.8h.9v.9h-.9zM110.3 265.6h.9v.9h-.9zM110.5 266.3h.9v.9h-.9zM118.2 254.8h.9v.9h-.9zM114.2 265.1h.9v.9h-.9zM109.8 268.3h.9v.9h-.9zM114.4 265.8h.9v.9h-.9zM112.6 260.2h.9v.9h-.9zM108.7 271.4h.9v.9h-.9zM107.5 261.5h.9v.9h-.9zM109.3 258.9h.9v.9h-.9zM114.2 259.6h.9v.9h-.9zM113.4 264.9h.9v.9h-.9zM112.9 269.9h.9v.9h-.9zM114.2 270.8h.9v.9h-.9zM115.1 266.1h.9v.9h-.9zM108.0 259.0h.9v.9h-.9zM112.7 261.7h.9v.9h-.9zM111.3 260.5h.9v.9h-.9zM110.3 264.1h.9v.9h-.9zM112.1 256.1h.9v.9h-.9zM113.2 265.6h.9v.9h-.9zM112.8 268.2h.9v.9h-.9zM109.7 264.3h.9v.9h-.9zM112.2 267.3h.9v.9h-.9zM118.7 260.3h.9v.9h-.9zM110.8 257.7h.9v.9h-.9zM109.1 261.8h.9v.9h-.9zM114.2 270.8h.9v.9h-.9zM115.1 270.2h.9v.9h-.9zM114.7 262.7h.9v.9h-.9zM110.6 271.0h.9v.9h-.9zM116.1 263.4h.9v.9h-.9zM111.5 272.6h.9v.9h-.9zM110.5 267.4h.9v.9h-.9zM111.9 262.7h.9v.9h-.9zM113.2 269.0h.9v.9h-.9zM115.4 261.1h.9v.9h-.9zM115.1 260.3h.9v.9h-.9zM113.4 257.7h.9v.9h-.9zM115.9 266.3h.9v.9h-.9zM113.7 264.7h.9v.9h-.9zM115.8 264.6h.9v.9h-.9zM109.8 263.0h.9v.9h-.9zM109.4 272.2h.9v.9h-.9zM115.5 262.9h.9v.9h-.9zM109.9 261.4h.9v.9h-.9zM112.7 271.2h.9v.9h-.9zM113.2 272.1h.9v.9h-.9zM112.2 266.7h.9v.9h-.9zM112.3 256.3h.9v.9h-.9zM117.1 262.0h.9v.9h-.9zM106.9 268.1h.9v.9h-.9zM115.8 265.1h.9v.9h-.9zM119.5 272.8h.9v.9h-.9zM113.6 258.2h.9v.9h-.9zM113.5 268.4h.9v.9h-.9zM115.4 261.9h.9v.9h-.9zM118.3 271.6h.9v.9h-.9zM110.4 264.6h.9v.9h-.9zM113.7 270.2h.9v.9h-.9zM113.0 261.8h.9v.9h-.9zM115.0 258.0h.9v.9h-.9zM113.9 259.4h.9v.9h-.9zM115.2 262.0h.9v.9h-.9zM112.4 259.9h.9v.9h-.9zM113.6 271.0h.9v.9h-.9zM111.8 271.7h.9v.9h-.9zM111.8 266.4h.9v.9h-.9zM113.1 259.8h.9v.9h-.9zM113.1 264.4h.9v.9h-.9zM110.5 261.6h.9v.9h-.9zM117.6 272.3h.9v.9h-.9zM113.1 266.6h.9v.9h-.9zM109.9 267.4h.9v.9h-.9zM116.4 263.0h.9v.9h-.9zM111.6 254.9h.9v.9h-.9zM114.8 261.1h.9v.9h-.9zM107.3 294.3h.9v.9h-.9zM112.5 279.4h.9v.9h-.9zM111.5 298.1h.9v.9h-.9zM108.4 290.1h.9v.9h-.9zM109.8 290.3h.9v.9h-.9zM116.7 278.9h.9v.9h-.9zM107.8 287.6h.9v.9h-.9zM108.0 286.1h.9v.9h-.9zM110.4 292.7h.9v.9h-.9zM108.8 279.2h.9v.9h-.9zM109.7 293.5h.9v.9h-.9zM113.1 294.2h.9v.9h-.9zM117.3 282.4h.9v.9h-.9zM105.0 287.1h.9v.9h-.9zM111.1 284.9h.9v.9h-.9zM111.3 301.6h.9v.9h-.9zM110.9 269.0h.9v.9h-.9zM110.5 289.7h.9v.9h-.9zM110.0 277.2h.9v.9h-.9zM114.7 288.9h.9v.9h-.9zM109.6 301.0h.9v.9h-.9zM110.8 287.0h.9v.9h-.9zM111.2 294.3h.9v.9h-.9zM111.6 285.0h.9v.9h-.9zM110.6 311.4h.9v.9h-.9zM114.7 301.7h.9v.9h-.9zM111.2 303.7h.9v.9h-.9zM111.8 280.4h.9v.9h-.9zM111.0 282.5h.9v.9h-.9zM107.7 303.3h.9v.9h-.9zM108.3 291.2h.9v.9h-.9zM107.5 290.5h.9v.9h-.9zM111.9 296.2h.9v.9h-.9zM108.7 281.1h.9v.9h-.9zM107.5 300.3h.9v.9h-.9zM112.0 293.2h.9v.9h-.9zM113.0 297.6h.9v.9h-.9zM105.0 286.6h.9v.9h-.9zM117.1 297.9h.9v.9h-.9zM111.3 286.3h.9v.9h-.9zM110.8 302.1h.9v.9h-.9zM114.9 303.7h.9v.9h-.9zM111.4 301.7h.9v.9h-.9zM109.1 297.9h.9v.9h-.9zM118.9 299.0h.9v.9h-.9zM107.4 267.3h.9v.9h-.9zM110.9 300.9h.9v.9h-.9zM114.2 290.4h.9v.9h-.9zM107.5 293.9h.9v.9h-.9zM110.8 290.3h.9v.9h-.9zM112.6 279.8h.9v.9h-.9zM119.6 287.9h.9v.9h-.9zM108.1 299.3h.9v.9h-.9zM111.0 306.5h.9v.9h-.9zM113.5 287.1h.9v.9h-.9zM111.5 284.4h.9v.9h-.9zM107.0 306.8h.9v.9h-.9zM112.6 284.6h.9v.9h-.9zM111.6 312.7h.9v.9h-.9zM112.8 293.5h.9v.9h-.9zM115.2 284.6h.9v.9h-.9zM114.7 302.4h.9v.9h-.9zM112.6 309.1h.9v.9h-.9zM112.3 279.4h.9v.9h-.9zM107.4 307.8h.9v.9h-.9zM110.7 290.3h.9v.9h-.9zM112.0 307.1h.9v.9h-.9zM109.8 289.4h.9v.9h-.9zM111.5 278.0h.9v.9h-.9zM108.3 297.8h.9v.9h-.9zM116.6 301.8h.9v.9h-.9zM118.7 312.9h.9v.9h-.9zM109.8 309.4h.9v.9h-.9zM112.6 299.6h.9v.9h-.9zM110.4 290.7h.9v.9h-.9zM115.6 288.1h.9v.9h-.9zM112.7 290.2h.9v.9h-.9zM111.5 285.1h.9v.9h-.9zM110.4 290.4h.9v.9h-.9zM111.6 268.8h.9v.9h-.9zM107.7 294.7h.9v.9h-.9zM113.6 292.7h.9v.9h-.9zM108.7 317.4h.9v.9h-.9zM113.1 300.2h.9v.9h-.9zM111.7 288.4h.9v.9h-.9zM115.0 298.4h.9v.9h-.9zM111.1 281.4h.9v.9h-.9zM114.8 287.3h.9v.9h-.9zM108.0 275.3h.9v.9h-.9zM113.3 306.6h.9v.9h-.9zM110.4 298.6h.9v.9h-.9zM111.9 281.8h.9v.9h-.9zM111.5 292.4h.9v.9h-.9zM114.5 302.0h.9v.9h-.9zM104.1 297.7h.9v.9h-.9zM112.3 296.6h.9v.9h-.9zM106.0 284.9h.9v.9h-.9zM115.4 286.9h.9v.9h-.9zM104.3 293.9h.9v.9h-.9zM107.7 301.7h.9v.9h-.9zM105.3 285.1h.9v.9h-.9zM116.9 282.3h.9v.9h-.9zM106.7 303.9h.9v.9h-.9zM111.6 284.2h.9v.9h-.9zM109.3 303.2h.9v.9h-.9zM104.9 295.3h.9v.9h-.9zM110.0 301.4h.9v.9h-.9zM113.5 309.6h.9v.9h-.9zM110.6 299.5h.9v.9h-.9zM114.5 300.4h.9v.9h-.9zM109.9 284.3h.9v.9h-.9zM111.2 286.4h.9v.9h-.9zM109.9 299.1h.9v.9h-.9zM112.4 307.6h.9v.9h-.9zM117.8 306.2h.9v.9h-.9zM112.5 315.0h.9v.9h-.9zM111.9 296.0h.9v.9h-.9zM109.0 294.9h.9v.9h-.9zM108.6 302.6h.9v.9h-.9zM116.3 293.2h.9v.9h-.9zM107.3 292.4h.9v.9h-.9zM108.0 283.1h.9v.9h-.9zM110.9 302.4h.9v.9h-.9zM109.7 282.8h.9v.9h-.9zM118.0 297.9h.9v.9h-.9zM102.9 279.5h.9v.9h-.9zM112.5 303.4h.9v.9h-.9zM113.7 283.2h.9v.9h-.9zM107.3 301.0h.9v.9h-.9zM108.9 277.9h.9v.9h-.9zM112.7 288.8h.9v.9h-.9zM116.9 304.2h.9v.9h-.9zM108.0 285.3h.9v.9h-.9zM105.7 293.6h.9v.9h-.9zM114.6 288.5h.9v.9h-.9zM116.5 271.1h.9v.9h-.9zM110.0 295.9h.9v.9h-.9zM103.5 297.1h.9v.9h-.9zM116.3 282.5h.9v.9h-.9zM110.5 298.5h.9v.9h-.9zM115.1 285.4h.9v.9h-.9zM111.0 283.5h.9v.9h-.9zM109.9 293.1h.9v.9h-.9zM109.6 286.5h.9v.9h-.9zM116.4 314.8h.9v.9h-.9zM116.2 278.2h.9v.9h-.9zM103.7 300.0h.9v.9h-.9zM107.9 302.4h.9v.9h-.9zM117.4 274.2h.9v.9h-.9zM109.9 276.5h.9v.9h-.9zM106.4 298.3h.9v.9h-.9zM111.2 288.4h.9v.9h-.9zM110.8 296.6h.9v.9h-.9zM110.9 303.8h.9v.9h-.9zM109.5 289.5h.9v.9h-.9zM110.1 282.9h.9v.9h-.9zM109.6 267.1h.9v.9h-.9zM112.4 294.9h.9v.9h-.9zM108.4 284.2h.9v.9h-.9zM110.2 296.0h.9v.9h-.9zM110.7 295.2h.9v.9h-.9zM115.8 279.8h.9v.9h-.9zM112.5 309.4h.9v.9h-.9zM110.8 303.3h.9v.9h-.9zM113.1 301.1h.9v.9h-.9zM112.6 281.7h.9v.9h-.9zM115.0 289.1h.9v.9h-.9zM113.0 287.8h.9v.9h-.9zM117.5 289.1h.9v.9h-.9zM115.9 282.3h.9v.9h-.9zM111.1 297.1h.9v.9h-.9zM109.7 295.2h.9v.9h-.9zM114.3 296.5h.9v.9h-.9zM113.0 288.2h.9v.9h-.9zM110.9 305.3h.9v.9h-.9zM106.0 294.8h.9v.9h-.9zM104.8 267.0h.9v.9h-.9zM112.4 286.9h.9v.9h-.9zM113.9 292.5h.9v.9h-.9zM114.0 302.2h.9v.9h-.9zM106.7 290.1h.9v.9h-.9zM114.8 290.6h.9v.9h-.9zM109.3 286.7h.9v.9h-.9zM112.6 299.3h.9v.9h-.9zM112.7 288.7h.9v.9h-.9zM108.4 287.3h.9v.9h-.9zM109.1 285.9h.9v.9h-.9zM103.9 298.3h.9v.9h-.9zM108.0 287.9h.9v.9h-.9zM104.9 277.1h.9v.9h-.9zM112.7 298.9h.9v.9h-.9zM111.4 286.3h.9v.9h-.9zM114.4 296.4h.9v.9h-.9zM112.4 296.6h.9v.9h-.9zM109.0 304.4h.9v.9h-.9zM112.4 302.9h.9v.9h-.9zM109.8 287.5h.9v.9h-.9zM113.3 291.4h.9v.9h-.9zM112.3 280.7h.9v.9h-.9zM107.7 308.9h.9v.9h-.9zM111.2 297.2h.9v.9h-.9zM111.4 306.2h.9v.9h-.9zM110.1 290.0h.9v.9h-.9zM114.3 273.5h.9v.9h-.9zM117.2 307.6h.9v.9h-.9zM109.9 293.9h.9v.9h-.9zM110.0 294.3h.9v.9h-.9zM103.3 293.5h.9v.9h-.9zM110.7 299.1h.9v.9h-.9zM109.7 298.1h.9v.9h-.9zM103.6 277.9h.9v.9h-.9zM112.2 303.3h.9v.9h-.9zM113.3 288.0h.9v.9h-.9zM108.6 288.6h.9v.9h-.9zM109.9 309.4h.9v.9h-.9zM107.8 301.7h.9v.9h-.9zM113.9 289.8h.9v.9h-.9zM105.9 275.4h.9v.9h-.9zM110.1 294.5h.9v.9h-.9zM118.0 298.1h.9v.9h-.9zM111.4 292.2h.9v.9h-.9zM112.8 281.2h.9v.9h-.9zM110.7 285.5h.9v.9h-.9zM107.1 281.1h.9v.9h-.9zM111.1 295.0h.9v.9h-.9zM112.6 300.8h.9v.9h-.9zM107.6 302.7h.9v.9h-.9zM112.4 286.0h.9v.9h-.9zM115.6 295.2h.9v.9h-.9zM114.9 298.3h.9v.9h-.9zM105.7 288.1h.9v.9h-.9zM107.8 291.6h.9v.9h-.9zM105.6 313.2h.9v.9h-.9zM114.9 294.9h.9v.9h-.9zM113.3 301.4h.9v.9h-.9zM113.7 288.9h.9v.9h-.9zM108.1 293.4h.9v.9h-.9zM107.1 276.7h.9v.9h-.9zM111.5 292.8h.9v.9h-.9zM111.6 304.3h.9v.9h-.9zM108.2 312.9h.9v.9h-.9zM111.7 304.4h.9v.9h-.9zM113.5 299.5h.9v.9h-.9zM112.0 293.5h.9v.9h-.9zM107.6 287.3h.9v.9h-.9zM103.8 291.5h.9v.9h-.9zM110.3 298.8h.9v.9h-.9zM111.8 285.5h.9v.9h-.9zM110.3 301.9h.9v.9h-.9zM109.7 283.7h.9v.9h-.9zM108.8 276.1h.9v.9h-.9zM113.7 283.4h.9v.9h-.9zM111.0 277.2h.9v.9h-.9zM111.6 280.0h.9v.9h-.9zM107.8 303.8h.9v.9h-.9zM109.0 291.1h.9v.9h-.9zM111.8 295.1h.9v.9h-.9zM107.7 304.0h.9v.9h-.9zM106.8 305.0h.9v.9h-.9zM110.0 288.2h.9v.9h-.9zM115.4 305.6h.9v.9h-.9zM111.9 296.7h.9v.9h-.9zM116.3 293.0h.9v.9h-.9zM110.7 297.2h.9v.9h-.9zM110.1 279.5h.9v.9h-.9zM106.3 285.5h.9v.9h-.9zM109.2 292.0h.9v.9h-.9zM116.2 298.8h.9v.9h-.9zM112.3 289.5h.9v.9h-.9zM113.8 291.8h.9v.9h-.9zM113.7 302.2h.9v.9h-.9zM111.2 306.4h.9v.9h-.9zM110.5 300.3h.9v.9h-.9zM111.6 305.1h.9v.9h-.9zM113.5 289.2h.9v.9h-.9zM112.8 290.1h.9v.9h-.9zM112.9 296.0h.9v.9h-.9zM111.7 290.1h.9v.9h-.9zM108.5 288.2h.9v.9h-.9zM110.3 308.7h.9v.9h-.9zM107.9 291.1h.9v.9h-.9zM114.7 283.8h.9v.9h-.9zM103.8 297.6h.9v.9h-.9zM110.4 310.4h.9v.9h-.9zM119.6 293.8h.9v.9h-.9zM110.0 304.7h.9v.9h-.9zM107.2 288.8h.9v.9h-.9zM111.1 288.3h.9v.9h-.9zM115.7 286.4h.9v.9h-.9zM110.6 291.6h.9v.9h-.9zM113.3 310.4h.9v.9h-.9zM111.5 282.0h.9v.9h-.9zM109.9 308.6h.9v.9h-.9zM122.2 283.4h.9v.9h-.9zM111.4 290.8h.9v.9h-.9zM109.3 300.9h.9v.9h-.9zM109.5 299.0h.9v.9h-.9zM112.5 295.7h.9v.9h-.9zM112.6 277.3h.9v.9h-.9zM113.9 296.4h.9v.9h-.9z" fill="#000" fill-opacity=".9"/>
<path d="M202.0 307.3h.9v.9h-.9zM203.7 255.7h.9v.9h-.9zM205.5 307.1h.9v.9h-.9zM199.9 288.5h.9v.9h-.9zM206.4 264.7h.9v.9h-.9zM208.3 298.6h.9v.9h-.9zM204.3 302.0h.9v.9h-.9zM208.8 304.0h.9v.9h-.9zM199.5 303.9h.9v.9h-.9zM206.8 288.2h.9v.9h-.9zM203.7 279.1h.9v.9h-.9zM197.8 282.7h.9v.9h-.9zM202.1 288.2h.9v.9h-.9zM199.9 293.8h.9v.9h-.9zM199.8 282.5h.9v.9h-.9zM202.9 289.2h.9v.9h-.9zM207.5 299.8h.9v.9h-.9zM200.9 292.8h.9v.9h-.9zM203.0 317.9h.9v.9h-.9zM195.5 316.1h.9v.9h-.9zM203.0 274.0h.9v.9h-.9zM207.9 281.4h.9v.9h-.9zM206.3 271.9h.9v.9h-.9zM204.7 273.8h.9v.9h-.9zM199.9 295.6h.9v.9h-.9zM197.8 276.0h.9v.9h-.9zM202.0 275.3h.9v.9h-.9zM196.1 285.2h.9v.9h-.9zM196.6 298.8h.9v.9h-.9zM206.9 284.1h.9v.9h-.9zM198.1 284.1h.9v.9h-.9zM211.0 300.3h.9v.9h-.9zM195.7 294.6h.9v.9h-.9zM204.5 294.4h.9v.9h-.9zM196.9 300.7h.9v.9h-.9zM203.3 275.7h.9v.9h-.9zM197.5 291.4h.9v.9h-.9zM202.6 280.5h.9v.9h-.9zM201.7 301.7h.9v.9h-.9zM200.3 299.0h.9v.9h-.9zM204.9 275.3h.9v.9h-.9zM209.6 305.7h.9v.9h-.9zM199.6 273.7h.9v.9h-.9zM206.6 303.6h.9v.9h-.9zM202.8 291.2h.9v.9h-.9zM202.3 277.5h.9v.9h-.9zM212.9 274.3h.9v.9h-.9zM192.1 284.7h.9v.9h-.9zM199.2 288.3h.9v.9h-.9zM193.8 279.5h.9v.9h-.9zM201.0 295.8h.9v.9h-.9zM201.4 270.7h.9v.9h-.9zM220.6 288.5h.9v.9h-.9zM204.1 288.6h.9v.9h-.9zM211.0 264.7h.9v.9h-.9zM208.6 292.6h.9v.9h-.9zM200.4 272.5h.9v.9h-.9zM204.7 256.7h.9v.9h-.9zM210.4 280.8h.9v.9h-.9zM203.3 285.7h.9v.9h-.9zM203.4 300.2h.9v.9h-.9zM204.8 282.4h.9v.9h-.9zM195.3 307.5h.9v.9h-.9zM198.6 307.0h.9v.9h-.9zM204.0 302.6h.9v.9h-.9zM205.0 305.6h.9v.9h-.9zM198.1 293.1h.9v.9h-.9zM200.9 281.5h.9v.9h-.9zM201.9 296.9h.9v.9h-.9zM201.7 301.0h.9v.9h-.9zM205.7 291.7h.9v.9h-.9zM202.9 285.5h.9v.9h-.9zM203.2 268.5h.9v.9h-.9zM195.7 297.3h.9v.9h-.9zM197.4 293.1h.9v.9h-.9zM204.0 271.9h.9v.9h-.9zM194.9 289.9h.9v.9h-.9zM203.7 297.9h.9v.9h-.9zM199.3 287.2h.9v.9h-.9zM198.6 298.7h.9v.9h-.9zM205.5 298.3h.9v.9h-.9zM199.2 269.7h.9v.9h-.9zM198.3 284.7h.9v.9h-.9zM199.2 294.8h.9v.9h-.9zM202.7 300.4h.9v.9h-.9zM215.5 306.7h.9v.9h-.9zM192.3 264.0h.9v.9h-.9zM202.3 287.8h.9v.9h-.9zM201.3 297.8h.9v.9h-.9zM206.9 304.3h.9v.9h-.9zM200.6 310.3h.9v.9h-.9zM190.6 276.6h.9v.9h-.9zM208.7 283.8h.9v.9h-.9zM197.2 275.1h.9v.9h-.9zM202.1 299.1h.9v.9h-.9zM195.9 271.6h.9v.9h-.9zM197.2 303.8h.9v.9h-.9zM200.0 300.6h.9v.9h-.9zM206.5 294.9h.9v.9h-.9zM206.4 260.7h.9v.9h-.9zM199.5 279.9h.9v.9h-.9zM204.8 298.2h.9v.9h-.9zM200.6 270.4h.9v.9h-.9zM202.9 285.5h.9v.9h-.9zM203.1 287.3h.9v.9h-.9zM205.3 300.0h.9v.9h-.9zM199.4 292.2h.9v.9h-.9zM201.8 292.1h.9v.9h-.9zM203.4 282.9h.9v.9h-.9zM202.8 288.7h.9v.9h-.9zM198.6 286.9h.9v.9h-.9zM210.6 297.9h.9v.9h-.9zM200.2 286.3h.9v.9h-.9zM206.0 301.9h.9v.9h-.9zM203.3 266.8h.9v.9h-.9zM208.2 304.0h.9v.9h-.9zM192.0 286.4h.9v.9h-.9zM212.1 303.1h.9v.9h-.9zM201.4 289.7h.9v.9h-.9zM196.5 299.6h.9v.9h-.9zM203.0 307.8h.9v.9h-.9zM213.1 281.5h.9v.9h-.9zM204.8 289.6h.9v.9h-.9zM196.5 286.4h.9v.9h-.9zM200.2 291.3h.9v.9h-.9zM208.7 267.8h.9v.9h-.9zM195.7 286.4h.9v.9h-.9zM201.5 285.4h.9v.9h-.9zM201.0 278.5h.9v.9h-.9zM212.7 286.1h.9v.9h-.9zM201.0 268.8h.9v.9h-.9zM208.6 306.5h.9v.9h-.9zM199.1 294.3h.9v.9h-.9zM198.5 312.8h.9v.9h-.9zM207.1 277.4h.9v.9h-.9zM205.3 273.6h.9v.9h-.9zM194.1 292.2h.9v.9h-.9zM205.4 267.2h.9v.9h-.9zM205.4 291.5h.9v.9h-.9zM199.4 279.5h.9v.9h-.9zM203.4 284.3h.9v.9h-.9zM203.6 291.8h.9v.9h-.9zM200.0 289.2h.9v.9h-.9zM199.6 312.5h.9v.9h-.9zM199.2 296.7h.9v.9h-.9zM201.1 272.0h.9v.9h-.9zM196.0 301.1h.9v.9h-.9zM202.1 271.4h.9v.9h-.9zM195.2 289.7h.9v.9h-.9zM202.7 272.5h.9v.9h-.9zM201.9 277.9h.9v.9h-.9zM197.4 305.4h.9v.9h-.9zM206.4 281.4h.9v.9h-.9zM211.6 280.3h.9v.9h-.9zM208.7 281.3h.9v.9h-.9zM195.8 284.5h.9v.9h-.9zM208.4 307.0h.9v.9h-.9zM203.4 273.4h.9v.9h-.9zM202.1 272.6h.9v.9h-.9zM199.5 296.0h.9v.9h-.9zM202.3 268.0h.9v.9h-.9zM209.0 283.8h.9v.9h-.9zM204.9 303.0h.9v.9h-.9zM200.4 288.5h.9v.9h-.9zM199.1 282.3h.9v.9h-.9zM200.4 279.4h.9v.9h-.9zM205.1 276.7h.9v.9h-.9zM211.2 280.9h.9v.9h-.9zM197.3 290.2h.9v.9h-.9zM202.3 304.4h.9v.9h-.9zM200.5 300.9h.9v.9h-.9zM198.8 281.2h.9v.9h-.9zM204.2 279.1h.9v.9h-.9zM205.0 297.4h.9v.9h-.9zM195.6 265.1h.9v.9h-.9zM197.4 282.8h.9v.9h-.9zM208.0 284.2h.9v.9h-.9zM203.8 274.1h.9v.9h-.9zM204.8 275.6h.9v.9h-.9zM199.9 292.9h.9v.9h-.9zM200.5 267.1h.9v.9h-.9zM204.5 276.6h.9v.9h-.9zM200.0 280.0h.9v.9h-.9zM197.1 289.4h.9v.9h-.9zM202.3 270.7h.9v.9h-.9zM206.6 302.3h.9v.9h-.9zM197.4 284.3h.9v.9h-.9zM207.4 285.0h.9v.9h-.9zM205.7 283.6h.9v.9h-.9zM198.2 279.6h.9v.9h-.9zM202.4 275.7h.9v.9h-.9zM202.1 303.0h.9v.9h-.9zM205.3 290.8h.9v.9h-.9zM205.5 286.8h.9v.9h-.9zM196.1 301.0h.9v.9h-.9zM195.9 279.1h.9v.9h-.9zM207.2 296.3h.9v.9h-.9zM202.9 288.5h.9v.9h-.9zM204.3 276.8h.9v.9h-.9zM203.9 297.9h.9v.9h-.9zM209.6 269.0h.9v.9h-.9zM196.6 296.5h.9v.9h-.9zM207.5 276.8h.9v.9h-.9zM198.4 293.4h.9v.9h-.9zM205.8 305.8h.9v.9h-.9zM208.7 295.4h.9v.9h-.9zM195.8 280.4h.9v.9h-.9zM204.3 287.7h.9v.9h-.9zM201.0 283.4h.9v.9h-.9zM201.0 273.0h.9v.9h-.9zM202.5 273.9h.9v.9h-.9zM197.3 288.6h.9v.9h-.9zM197.8 294.9h.9v.9h-.9zM205.5 265.4h.9v.9h-.9zM206.3 287.1h.9v.9h-.9zM199.6 294.5h.9v.9h-.9zM195.4 289.4h.9v.9h-.9zM213.3 275.1h.9v.9h-.9zM207.6 301.2h.9v.9h-.9zM204.0 272.4h.9v.9h-.9zM197.4 296.2h.9v.9h-.9zM199.6 308.4h.9v.9h-.9zM203.5 261.8h.9v.9h-.9zM197.8 291.2h.9v.9h-.9zM209.9 291.9h.9v.9h-.9zM203.0 290.8h.9v.9h-.9zM204.2 278.1h.9v.9h-.9zM197.5 283.9h.9v.9h-.9zM198.0 270.0h.9v.9h-.9zM198.6 289.6h.9v.9h-.9zM203.6 294.7h.9v.9h-.9zM201.1 279.3h.9v.9h-.9zM201.0 276.0h.9v.9h-.9zM203.8 281.8h.9v.9h-.9zM203.4 287.7h.9v.9h-.9zM209.4 288.6h.9v.9h-.9zM201.4 286.5h.9v.9h-.9zM197.5 288.7h.9v.9h-.9zM202.3 271.1h.9v.9h-.9zM209.3 253.0h.9v.9h-.9zM199.7 295.7h.9v.9h-.9zM202.6 305.9h.9v.9h-.9zM200.6 269.7h.9v.9h-.9zM204.3 279.3h.9v.9h-.9zM203.6 291.6h.9v.9h-.9zM198.5 299.9h.9v.9h-.9zM201.3 296.0h.9v.9h-.9zM206.8 304.1h.9v.9h-.9zM207.5 287.1h.9v.9h-.9zM206.7 293.0h.9v.9h-.9zM206.4 293.0h.9v.9h-.9zM200.8 282.2h.9v.9h-.9zM200.6 303.1h.9v.9h-.9zM206.7 295.7h.9v.9h-.9zM196.8 300.2h.9v.9h-.9zM202.1 282.8h.9v.9h-.9zM193.6 300.9h.9v.9h-.9zM200.5 274.3h.9v.9h-.9zM199.0 292.8h.9v.9h-.9zM196.7 254.4h.9v.9h-.9zM205.1 274.9h.9v.9h-.9zM198.9 297.1h.9v.9h-.9zM200.6 282.0h.9v.9h-.9zM201.1 289.9h.9v.9h-.9zM198.9 267.1h.9v.9h-.9zM209.1 307.4h.9v.9h-.9zM200.0 295.3h.9v.9h-.9zM203.3 287.4h.9v.9h-.9zM196.2 293.0h.9v.9h-.9zM200.1 291.9h.9v.9h-.9zM200.8 305.7h.9v.9h-.9zM200.9 290.4h.9v.9h-.9zM199.6 269.0h.9v.9h-.9zM203.0 284.5h.9v.9h-.9zM209.7 304.0h.9v.9h-.9zM201.7 294.9h.9v.9h-.9zM201.7 282.4h.9v.9h-.9zM200.5 295.5h.9v.9h-.9zM214.3 289.2h.9v.9h-.9zM210.0 295.5h.9v.9h-.9zM205.0 267.5h.9v.9h-.9zM205.7 276.3h.9v.9h-.9zM199.0 296.2h.9v.9h-.9zM201.6 284.9h.9v.9h-.9zM203.3 292.2h.9v.9h-.9zM202.9 312.6h.9v.9h-.9zM198.3 283.7h.9v.9h-.9zM198.7 290.8h.9v.9h-.9zM204.8 280.6h.9v.9h-.9zM203.8 279.8h.9v.9h-.9zM192.4 286.8h.9v.9h-.9zM202.8 269.2h.9v.9h-.9zM208.3 261.0h.9v.9h-.9zM199.3 305.1h.9v.9h-.9zM203.5 286.4h.9v.9h-.9zM195.5 302.0h.9v.9h-.9zM206.3 289.3h.9v.9h-.9zM197.1 289.6h.9v.9h-.9zM196.5 296.2h.9v.9h-.9zM200.9 296.8h.9v.9h-.9zM213.5 272.4h.9v.9h-.9zM199.5 303.1h.9v.9h-.9zM196.4 275.4h.9v.9h-.9zM204.5 290.3h.9v.9h-.9zM203.4 320.2h.9v.9h-.9zM210.2 288.7h.9v.9h-.9zM196.4 308.9h.9v.9h-.9zM194.8 283.3h.9v.9h-.9zM200.9 295.5h.9v.9h-.9zM204.1 288.4h.9v.9h-.9zM204.0 293.0h.9v.9h-.9zM207.5 276.9h.9v.9h-.9zM195.3 276.1h.9v.9h-.9zM198.5 292.0h.9v.9h-.9zM201.7 267.9h.9v.9h-.9zM206.3 277.0h.9v.9h-.9zM204.6 295.9h.9v.9h-.9zM200.4 279.9h.9v.9h-.9zM197.5 276.4h.9v.9h-.9zM206.5 273.7h.9v.9h-.9zM206.8 289.6h.9v.9h-.9zM215.1 283.1h.9v.9h-.9zM201.5 289.6h.9v.9h-.9zM210.0 285.3h.9v.9h-.9zM196.7 311.2h.9v.9h-.9zM199.8 282.2h.9v.9h-.9zM199.2 262.9h.9v.9h-.9zM200.2 289.2h.9v.9h-.9zM198.2 287.8h.9v.9h-.9zM199.8 289.7h.9v.9h-.9zM202.1 267.4h.9v.9h-.9zM200.2 302.1h.9v.9h-.9zM205.5 287.3h.9v.9h-.9zM202.0 287.2h.9v.9h-.9zM202.4 267.7h.9v.9h-.9zM209.3 293.7h.9v.9h-.9zM203.8 286.9h.9v.9h-.9zM203.1 304.9h.9v.9h-.9zM202.3 282.5h.9v.9h-.9zM202.7 272.1h.9v.9h-.9zM205.1 289.4h.9v.9h-.9zM198.6 276.2h.9v.9h-.9zM207.7 293.0h.9v.9h-.9zM209.7 274.0h.9v.9h-.9zM207.8 286.1h.9v.9h-.9zM200.0 284.9h.9v.9h-.9zM194.9 287.3h.9v.9h-.9zM200.3 281.2h.9v.9h-.9zM203.1 277.5h.9v.9h-.9zM206.3 287.0h.9v.9h-.9zM201.5 280.4h.9v.9h-.9zM200.9 289.7h.9v.9h-.9zM209.5 284.3h.9v.9h-.9zM199.2 259.3h.9v.9h-.9zM207.4 286.9h.9v.9h-.9zM206.6 305.3h.9v.9h-.9zM196.1 291.6h.9v.9h-.9zM203.7 295.3h.9v.9h-.9zM199.7 293.5h.9v.9h-.9zM197.9 281.8h.9v.9h-.9zM193.7 270.9h.9v.9h-.9zM195.0 297.9h.9v.9h-.9zM204.3 301.0h.9v.9h-.9zM200.5 294.9h.9v.9h-.9zM203.6 293.1h.9v.9h-.9zM197.4 292.7h.9v.9h-.9zM200.9 287.4h.9v.9h-.9zM201.1 291.2h.9v.9h-.9zM195.1 287.9h.9v.9h-.9zM194.5 291.8h.9v.9h-.9zM204.4 275.8h.9v.9h-.9zM203.1 279.8h.9v.9h-.9zM198.0 294.9h.9v.9h-.9zM201.9 283.5h.9v.9h-.9zM205.5 257.3h.9v.9h-.9zM211.0 289.3h.9v.9h-.9zM198.2 259.0h.9v.9h-.9zM205.3 311.7h.9v.9h-.9zM212.3 296.8h.9v.9h-.9zM202.7 296.2h.9v.9h-.9zM242.7 289.6h.9v.9h-.9zM241.4 279.0h.9v.9h-.9zM243.9 297.3h.9v.9h-.9zM244.6 285.9h.9v.9h-.9zM242.4 283.1h.9v.9h-.9zM245.0 286.5h.9v.9h-.9zM246.4 289.1h.9v.9h-.9zM246.2 285.3h.9v.9h-.9zM241.6 282.6h.9v.9h-.9zM238.5 283.5h.9v.9h-.9zM244.5 290.5h.9v.9h-.9zM242.7 272.8h.9v.9h-.9zM245.8 285.0h.9v.9h-.9zM249.1 283.7h.9v.9h-.9zM249.1 279.8h.9v.9h-.9zM245.3 292.9h.9v.9h-.9zM247.6 271.1h.9v.9h-.9zM249.1 281.1h.9v.9h-.9zM244.7 275.8h.9v.9h-.9zM245.3 290.8h.9v.9h-.9zM246.9 280.0h.9v.9h-.9zM244.4 285.5h.9v.9h-.9zM243.2 289.1h.9v.9h-.9zM242.5 267.8h.9v.9h-.9zM244.6 289.8h.9v.9h-.9zM242.8 277.0h.9v.9h-.9zM246.8 282.3h.9v.9h-.9zM243.6 283.8h.9v.9h-.9zM248.6 293.7h.9v.9h-.9zM247.9 292.9h.9v.9h-.9zM241.1 304.0h.9v.9h-.9zM247.6 286.9h.9v.9h-.9zM243.4 279.9h.9v.9h-.9zM248.4 279.6h.9v.9h-.9zM246.0 292.0h.9v.9h-.9zM244.4 302.2h.9v.9h-.9zM246.4 288.7h.9v.9h-.9zM243.0 278.8h.9v.9h-.9zM245.5 287.9h.9v.9h-.9zM245.6 287.7h.9v.9h-.9zM244.2 285.3h.9v.9h-.9zM245.7 277.0h.9v.9h-.9zM241.8 257.7h.9v.9h-.9zM246.1 279.2h.9v.9h-.9zM241.2 296.3h.9v.9h-.9zM246.3 287.3h.9v.9h-.9zM245.9 261.3h.9v.9h-.9zM246.6 285.1h.9v.9h-.9zM243.1 265.2h.9v.9h-.9zM253.0 306.4h.9v.9h-.9zM244.0 287.0h.9v.9h-.9zM245.0 272.1h.9v.9h-.9zM242.5 293.6h.9v.9h-.9zM248.6 276.6h.9v.9h-.9zM243.3 291.0h.9v.9h-.9zM247.4 285.2h.9v.9h-.9zM242.0 272.3h.9v.9h-.9zM245.5 292.1h.9v.9h-.9zM243.6 270.6h.9v.9h-.9zM247.2 299.4h.9v.9h-.9zM243.8 285.6h.9v.9h-.9zM242.2 274.0h.9v.9h-.9zM245.9 265.5h.9v.9h-.9zM241.3 302.4h.9v.9h-.9zM242.0 300.6h.9v.9h-.9zM246.8 271.5h.9v.9h-.9zM239.5 302.7h.9v.9h-.9zM246.7 286.8h.9v.9h-.9zM243.5 282.6h.9v.9h-.9zM242.1 284.1h.9v.9h-.9zM245.3 282.1h.9v.9h-.9zM246.4 300.4h.9v.9h-.9zM243.0 286.6h.9v.9h-.9zM244.2 265.2h.9v.9h-.9zM246.9 307.5h.9v.9h-.9zM246.7 294.5h.9v.9h-.9zM244.5 273.3h.9v.9h-.9zM242.5 281.2h.9v.9h-.9zM242.1 275.3h.9v.9h-.9zM243.0 285.5h.9v.9h-.9zM246.5 289.2h.9v.9h-.9zM246.3 287.6h.9v.9h-.9zM245.5 278.6h.9v.9h-.9zM248.5 276.4h.9v.9h-.9zM243.9 294.1h.9v.9h-.9zM243.6 283.9h.9v.9h-.9zM243.6 309.2h.9v.9h-.9zM249.9 276.3h.9v.9h-.9zM239.1 293.5h.9v.9h-.9zM245.5 285.5h.9v.9h-.9zM245.9 276.8h.9v.9h-.9zM244.9 299.6h.9v.9h-.9zM251.1 286.3h.9v.9h-.9zM247.9 275.4h.9v.9h-.9zM246.8 281.6h.9v.9h-.9zM242.2 295.9h.9v.9h-.9zM246.1 271.8h.9v.9h-.9zM243.7 299.8h.9v.9h-.9zM244.8 292.4h.9v.9h-.9zM245.3 282.0h.9v.9h-.9zM243.4 299.6h.9v.9h-.9zM246.5 303.8h.9v.9h-.9zM249.2 291.4h.9v.9h-.9zM247.6 286.8h.9v.9h-.9zM245.3 304.9h.9v.9h-.9zM239.5 301.1h.9v.9h-.9zM247.7 275.0h.9v.9h-.9zM247.7 282.8h.9v.9h-.9zM244.2 282.7h.9v.9h-.9zM243.4 280.6h.9v.9h-.9zM246.5 268.9h.9v.9h-.9zM242.5 294.7h.9v.9h-.9zM246.9 285.9h.9v.9h-.9zM241.8 286.1h.9v.9h-.9zM242.2 300.2h.9v.9h-.9zM244.8 278.9h.9v.9h-.9zM240.8 284.4h.9v.9h-.9zM244.8 288.0h.9v.9h-.9zM246.2 280.3h.9v.9h-.9zM241.2 283.8h.9v.9h-.9zM247.3 293.3h.9v.9h-.9zM243.2 284.9h.9v.9h-.9zM246.3 299.4h.9v.9h-.9zM245.3 276.9h.9v.9h-.9zM243.5 287.2h.9v.9h-.9zM243.3 269.6h.9v.9h-.9zM240.1 283.7h.9v.9h-.9zM242.9 277.4h.9v.9h-.9zM242.7 299.7h.9v.9h-.9zM249.2 293.0h.9v.9h-.9zM247.5 290.5h.9v.9h-.9zM241.0 304.9h.9v.9h-.9zM247.0 300.6h.9v.9h-.9zM245.4 292.8h.9v.9h-.9zM243.7 277.5h.9v.9h-.9zM246.0 269.4h.9v.9h-.9zM246.9 284.7h.9v.9h-.9zM243.2 281.2h.9v.9h-.9zM244.0 278.0h.9v.9h-.9zM245.2 281.9h.9v.9h-.9zM242.1 267.1h.9v.9h-.9zM245.3 301.1h.9v.9h-.9zM244.6 272.7h.9v.9h-.9zM242.9 277.7h.9v.9h-.9zM242.5 291.2h.9v.9h-.9zM245.6 267.4h.9v.9h-.9zM247.2 295.0h.9v.9h-.9zM245.7 295.2h.9v.9h-.9zM242.5 281.6h.9v.9h-.9zM246.8 273.3h.9v.9h-.9zM245.3 279.9h.9v.9h-.9zM246.4 264.9h.9v.9h-.9zM247.9 300.1h.9v.9h-.9zM242.3 285.6h.9v.9h-.9zM244.4 277.0h.9v.9h-.9zM243.2 275.1h.9v.9h-.9zM242.4 291.2h.9v.9h-.9zM250.2 301.3h.9v.9h-.9zM247.3 271.2h.9v.9h-.9zM240.0 278.8h.9v.9h-.9zM193.0 267.3h.9v.9h-.9zM206.8 300.4h.9v.9h-.9zM203.9 288.1h.9v.9h-.9zM215.8 273.5h.9v.9h-.9zM202.3 246.4h.9v.9h-.9zM200.5 266.5h.9v.9h-.9zM199.0 250.1h.9v.9h-.9zM207.8 299.3h.9v.9h-.9zM193.8 282.9h.9v.9h-.9zM207.3 268.4h.9v.9h-.9zM204.4 275.7h.9v.9h-.9zM200.1 320.4h.9v.9h-.9zM197.9 298.9h.9v.9h-.9zM209.0 259.1h.9v.9h-.9zM213.6 278.0h.9v.9h-.9zM200.5 260.8h.9v.9h-.9zM206.0 253.1h.9v.9h-.9zM212.9 282.7h.9v.9h-.9zM199.5 317.7h.9v.9h-.9zM201.6 304.4h.9v.9h-.9zM196.1 280.7h.9v.9h-.9zM202.2 274.1h.9v.9h-.9zM202.5 283.2h.9v.9h-.9zM200.6 296.2h.9v.9h-.9zM198.8 257.1h.9v.9h-.9zM194.0 250.7h.9v.9h-.9zM195.3 309.5h.9v.9h-.9zM197.4 284.4h.9v.9h-.9zM206.7 305.2h.9v.9h-.9zM200.1 283.7h.9v.9h-.9zM198.1 303.2h.9v.9h-.9zM206.7 270.4h.9v.9h-.9zM206.2 287.8h.9v.9h-.9zM198.7 304.4h.9v.9h-.9zM199.4 296.1h.9v.9h-.9zM206.8 272.8h.9v.9h-.9zM205.1 294.1h.9v.9h-.9zM198.2 269.5h.9v.9h-.9zM204.4 257.5h.9v.9h-.9zM202.8 288.3h.9v.9h-.9zM209.4 302.1h.9v.9h-.9zM198.0 293.4h.9v.9h-.9zM208.0 260.1h.9v.9h-.9zM205.5 293.7h.9v.9h-.9zM197.2 290.7h.9v.9h-.9zM209.0 272.7h.9v.9h-.9zM208.2 240.7h.9v.9h-.9zM195.5 296.1h.9v.9h-.9zM214.3 294.0h.9v.9h-.9zM196.4 287.9h.9v.9h-.9zM197.7 252.6h.9v.9h-.9zM201.2 256.4h.9v.9h-.9zM207.4 296.0h.9v.9h-.9zM206.3 292.7h.9v.9h-.9zM202.5 287.8h.9v.9h-.9zM210.8 276.1h.9v.9h-.9zM205.3 286.3h.9v.9h-.9zM211.0 271.4h.9v.9h-.9zM219.2 275.0h.9v.9h-.9zM204.1 266.2h.9v.9h-.9zM188.2 284.1h.9v.9h-.9zM200.4 273.4h.9v.9h-.9zM196.8 295.1h.9v.9h-.9zM203.5 291.4h.9v.9h-.9zM203.6 267.1h.9v.9h-.9zM195.9 309.2h.9v.9h-.9zM196.4 262.1h.9v.9h-.9zM201.5 287.2h.9v.9h-.9zM201.9 297.2h.9v.9h-.9zM188.0 300.4h.9v.9h-.9zM208.6 244.8h.9v.9h-.9zM203.2 295.9h.9v.9h-.9zM202.9 299.4h.9v.9h-.9zM204.7 302.9h.9v.9h-.9zM197.1 244.5h.9v.9h-.9zM202.7 269.2h.9v.9h-.9zM209.0 278.4h.9v.9h-.9zM209.2 272.9h.9v.9h-.9zM205.7 301.4h.9v.9h-.9zM201.4 269.2h.9v.9h-.9zM240.2 257.6h.9v.9h-.9zM236.2 306.4h.9v.9h-.9zM214.1 293.0h.9v.9h-.9zM258.4 296.1h.9v.9h-.9zM192.6 278.5h.9v.9h-.9zM209.1 278.3h.9v.9h-.9zM213.6 264.4h.9v.9h-.9zM234.9 263.4h.9v.9h-.9zM231.3 292.5h.9v.9h-.9zM239.8 275.5h.9v.9h-.9zM250.2 256.7h.9v.9h-.9zM191.4 265.2h.9v.9h-.9zM229.2 265.2h.9v.9h-.9zM218.1 266.6h.9v.9h-.9zM238.3 282.3h.9v.9h-.9zM226.9 309.6h.9v.9h-.9zM214.4 289.9h.9v.9h-.9zM190.5 299.4h.9v.9h-.9zM211.7 261.3h.9v.9h-.9zM221.2 296.5h.9v.9h-.9zM213.6 306.9h.9v.9h-.9zM216.5 314.7h.9v.9h-.9zM235.6 297.7h.9v.9h-.9zM213.5 291.4h.9v.9h-.9zM249.6 312.7h.9v.9h-.9zM215.3 262.7h.9v.9h-.9zM220.4 302.6h.9v.9h-.9zM220.3 298.2h.9v.9h-.9zM253.2 298.6h.9v.9h-.9zM232.3 276.3h.9v.9h-.9zM257.5 259.8h.9v.9h-.9zM190.3 263.5h.9v.9h-.9zM256.9 295.6h.9v.9h-.9zM203.6 273.7h.9v.9h-.9zM252.8 311.9h.9v.9h-.9z" fill="#111" fill-opacity=".7"/>
<path d="M348.2 287.4h.9v.9h-.9zM325.3 260.9h.9v.9h-.9zM337.3 299.5h.9v.9h-.9zM335.5 306.1h.9v.9h-.9zM344.7 261.6h.9v.9h-.9zM333.1 287.1h.9v.9h-.9zM333.7 310.7h.9v.9h-.9zM321.9 292.9h.9v.9h-.9zM341.9 266.4h.9v.9h-.9zM320.8 269.4h.9v.9h-.9zM364.4 295.7h.9v.9h-.9zM335.7 315.3h.9v.9h-.9zM332.3 266.5h.9v.9h-.9zM348.9 283.6h.9v.9h-.9zM334.6 271.4h.9v.9h-.9zM337.4 279.4h.9v.9h-.9zM335.1 289.6h.9v.9h-.9zM324.1 284.9h.9v.9h-.9zM320.9 274.4h.9v.9h-.9zM324.5 321.0h.9v.9h-.9zM354.6 279.7h.9v.9h-.9zM325.7 282.4h.9v.9h-.9zM329.3 303.7h.9v.9h-.9zM328.6 285.3h.9v.9h-.9zM347.4 279.7h.9v.9h-.9zM368.5 296.8h.9v.9h-.9zM320.8 268.6h.9v.9h-.9zM345.0 296.0h.9v.9h-.9zM338.0 301.4h.9v.9h-.9zM331.0 296.0h.9v.9h-.9zM344.3 280.5h.9v.9h-.9zM315.2 286.4h.9v.9h-.9zM349.6 254.1h.9v.9h-.9zM339.6 281.8h.9v.9h-.9zM319.7 290.9h.9v.9h-.9zM362.1 296.1h.9v.9h-.9zM349.9 285.2h.9v.9h-.9zM355.0 275.8h.9v.9h-.9zM312.2 272.8h.9v.9h-.9zM331.6 284.0h.9v.9h-.9zM327.4 287.5h.9v.9h-.9zM346.3 303.5h.9v.9h-.9zM358.2 282.1h.9v.9h-.9zM336.3 282.5h.9v.9h-.9zM333.9 276.4h.9v.9h-.9zM352.4 278.7h.9v.9h-.9zM315.2 259.9h.9v.9h-.9zM332.8 264.7h.9v.9h-.9zM319.0 293.9h.9v.9h-.9zM323.3 284.4h.9v.9h-.9zM336.7 286.7h.9v.9h-.9zM328.1 304.6h.9v.9h-.9zM340.6 266.4h.9v.9h-.9zM311.2 306.1h.9v.9h-.9zM374.0 286.7h.9v.9h-.9zM356.6 270.2h.9v.9h-.9zM347.7 308.0h.9v.9h-.9zM314.8 262.7h.9v.9h-.9zM321.9 282.3h.9v.9h-.9zM332.2 291.5h.9v.9h-.9zM372.5 277.2h.9v.9h-.9zM327.4 280.2h.9v.9h-.9zM355.8 280.8h.9v.9h-.9zM336.3 307.2h.9v.9h-.9zM355.9 284.2h.9v.9h-.9zM341.4 265.5h.9v.9h-.9zM325.3 291.1h.9v.9h-.9zM316.8 266.8h.9v.9h-.9zM334.0 287.9h.9v.9h-.9zM352.3 288.7h.9v.9h-.9zM313.8 279.9h.9v.9h-.9zM345.0 277.8h.9v.9h-.9zM365.8 306.8h.9v.9h-.9zM328.8 294.8h.9v.9h-.9zM348.0 277.9h.9v.9h-.9zM366.4 268.2h.9v.9h-.9zM312.3 289.8h.9v.9h-.9zM318.8 295.6h.9v.9h-.9zM372.7 294.6h.9v.9h-.9zM331.3 309.4h.9v.9h-.9zM333.9 292.2h.9v.9h-.9zM339.7 265.2h.9v.9h-.9zM353.3 316.3h.9v.9h-.9zM357.7 301.3h.9v.9h-.9zM337.8 298.0h.9v.9h-.9zM330.5 307.2h.9v.9h-.9zM335.4 259.5h.9v.9h-.9zM341.0 277.5h.9v.9h-.9zM357.4 273.4h.9v.9h-.9zM338.2 303.9h.9v.9h-.9zM365.8 261.4h.9v.9h-.9zM322.0 280.4h.9v.9h-.9zM344.7 308.7h.9v.9h-.9zM364.7 292.0h.9v.9h-.9zM357.1 275.6h.9v.9h-.9zM341.4 315.1h.9v.9h-.9zM321.6 263.6h.9v.9h-.9zM324.3 293.0h.9v.9h-.9zM333.4 280.7h.9v.9h-.9zM341.1 292.2h.9v.9h-.9zM331.9 280.1h.9v.9h-.9zM312.2 272.8h.9v.9h-.9zM323.9 289.1h.9v.9h-.9zM344.5 261.4h.9v.9h-.9zM349.7 291.6h.9v.9h-.9zM313.1 281.3h.9v.9h-.9zM330.0 300.2h.9v.9h-.9zM326.8 274.0h.9v.9h-.9zM337.0 304.7h.9v.9h-.9zM326.4 287.2h.9v.9h-.9zM316.2 296.8h.9v.9h-.9zM335.3 269.6h.9v.9h-.9zM331.5 295.4h.9v.9h-.9zM360.2 267.8h.9v.9h-.9zM343.1 312.1h.9v.9h-.9zM357.9 266.1h.9v.9h-.9zM344.5 262.8h.9v.9h-.9zM360.1 310.2h.9v.9h-.9zM335.9 304.5h.9v.9h-.9zM340.7 262.6h.9v.9h-.9zM324.7 318.2h.9v.9h-.9zM340.7 296.5h.9v.9h-.9zM354.5 279.2h.9v.9h-.9zM333.0 298.0h.9v.9h-.9zM333.7 290.8h.9v.9h-.9zM342.4 270.7h.9v.9h-.9zM349.5 253.4h.9v.9h-.9zM337.0 284.0h.9v.9h-.9zM324.8 279.4h.9v.9h-.9zM344.1 271.0h.9v.9h-.9zM353.0 298.6h.9v.9h-.9zM341.1 265.9h.9v.9h-.9zM357.1 296.8h.9v.9h-.9zM319.8 277.8h.9v.9h-.9zM329.3 286.7h.9v.9h-.9zM319.8 267.2h.9v.9h-.9zM337.0 283.9h.9v.9h-.9zM337.6 270.9h.9v.9h-.9zM332.8 255.4h.9v.9h-.9zM316.2 285.9h.9v.9h-.9zM334.8 283.4h.9v.9h-.9zM328.9 298.7h.9v.9h-.9zM345.9 287.8h.9v.9h-.9zM331.6 267.7h.9v.9h-.9zM355.0 271.9h.9v.9h-.9zM333.2 306.1h.9v.9h-.9zM312.6 311.9h.9v.9h-.9zM351.9 295.2h.9v.9h-.9zM359.5 286.7h.9v.9h-.9zM335.6 294.0h.9v.9h-.9zM343.3 291.5h.9v.9h-.9zM312.4 257.7h.9v.9h-.9zM326.9 304.8h.9v.9h-.9zM331.8 304.2h.9v.9h-.9zM311.2 290.7h.9v.9h-.9zM337.5 278.8h.9v.9h-.9zM341.1 277.1h.9v.9h-.9zM346.6 273.9h.9v.9h-.9zM361.4 265.9h.9v.9h-.9zM330.0 287.2h.9v.9h-.9zM337.7 276.4h.9v.9h-.9zM345.9 279.5h.9v.9h-.9zM318.9 314.5h.9v.9h-.9zM357.8 291.7h.9v.9h-.9zM350.8 270.8h.9v.9h-.9zM332.3 294.2h.9v.9h-.9zM325.6 260.1h.9v.9h-.9zM349.8 287.0h.9v.9h-.9zM351.4 279.2h.9v.9h-.9zM365.5 290.5h.9v.9h-.9zM352.1 306.7h.9v.9h-.9zM339.5 276.0h.9v.9h-.9zM347.6 266.4h.9v.9h-.9zM321.1 321.0h.9v.9h-.9zM347.8 283.1h.9v.9h-.9zM310.9 311.7h.9v.9h-.9zM343.0 272.0h.9v.9h-.9zM345.2 289.4h.9v.9h-.9zM310.5 276.1h.9v.9h-.9zM367.5 291.3h.9v.9h-.9zM317.3 281.5h.9v.9h-.9zM353.2 271.0h.9v.9h-.9zM327.5 310.9h.9v.9h-.9zM341.2 289.2h.9v.9h-.9zM325.4 251.2h.9v.9h-.9zM377.0 275.8h.9v.9h-.9zM353.0 266.9h.9v.9h-.9zM365.8 260.5h.9v.9h-.9zM349.0 272.9h.9v.9h-.9zM347.6 274.8h.9v.9h-.9zM338.7 284.3h.9v.9h-.9zM332.3 271.2h.9v.9h-.9zM346.2 251.8h.9v.9h-.9zM338.9 274.8h.9v.9h-.9zM333.8 299.0h.9v.9h-.9zM313.7 263.5h.9v.9h-.9zM331.3 294.9h.9v.9h-.9zM346.2 290.7h.9v.9h-.9zM328.6 277.3h.9v.9h-.9zM342.0 288.6h.9v.9h-.9zM334.0 271.7h.9v.9h-.9zM319.4 279.1h.9v.9h-.9zM321.5 268.4h.9v.9h-.9zM324.2 293.1h.9v.9h-.9zM331.6 307.5h.9v.9h-.9zM332.1 273.1h.9v.9h-.9zM354.7 302.1h.9v.9h-.9zM347.6 265.8h.9v.9h-.9zM328.9 313.7h.9v.9h-.9zM334.4 274.3h.9v.9h-.9zM378.2 292.6h.9v.9h-.9zM346.1 284.9h.9v.9h-.9zM351.9 291.8h.9v.9h-.9zM338.4 283.1h.9v.9h-.9zM326.4 288.0h.9v.9h-.9zM324.7 298.9h.9v.9h-.9zM328.8 307.0h.9v.9h-.9zM362.4 287.9h.9v.9h-.9zM362.0 252.8h.9v.9h-.9zM326.5 281.5h.9v.9h-.9zM355.5 297.2h.9v.9h-.9zM333.8 270.5h.9v.9h-.9zM354.1 291.6h.9v.9h-.9zM331.3 276.5h.9v.9h-.9zM352.2 283.8h.9v.9h-.9zM334.7 296.9h.9v.9h-.9zM331.8 272.5h.9v.9h-.9zM339.1 286.2h.9v.9h-.9zM327.0 290.7h.9v.9h-.9zM314.1 273.8h.9v.9h-.9zM364.3 282.0h.9v.9h-.9zM330.1 280.1h.9v.9h-.9zM326.5 283.5h.9v.9h-.9zM331.3 279.3h.9v.9h-.9zM354.7 292.3h.9v.9h-.9zM342.6 262.4h.9v.9h-.9zM341.9 293.4h.9v.9h-.9zM358.8 276.4h.9v.9h-.9zM363.6 272.5h.9v.9h-.9zM353.5 279.7h.9v.9h-.9zM327.1 301.6h.9v.9h-.9zM314.8 295.7h.9v.9h-.9zM319.4 300.8h.9v.9h-.9zM366.3 276.0h.9v.9h-.9zM333.5 264.6h.9v.9h-.9zM338.7 274.3h.9v.9h-.9zM339.9 276.9h.9v.9h-.9zM369.8 272.5h.9v.9h-.9zM327.4 297.0h.9v.9h-.9zM356.1 289.1h.9v.9h-.9zM341.6 296.2h.9v.9h-.9zM334.1 286.4h.9v.9h-.9zM351.8 284.2h.9v.9h-.9zM324.4 301.6h.9v.9h-.9zM329.1 293.2h.9v.9h-.9zM340.4 296.0h.9v.9h-.9zM338.2 282.6h.9v.9h-.9zM355.2 261.0h.9v.9h-.9zM325.6 260.7h.9v.9h-.9zM339.4 316.8h.9v.9h-.9zM341.3 290.0h.9v.9h-.9zM337.1 291.4h.9v.9h-.9zM347.9 279.9h.9v.9h-.9zM332.5 276.6h.9v.9h-.9zM325.0 266.2h.9v.9h-.9zM313.0 285.4h.9v.9h-.9zM336.0 283.1h.9v.9h-.9zM356.1 262.7h.9v.9h-.9zM328.2 263.3h.9v.9h-.9zM326.3 273.1h.9v.9h-.9zM331.0 278.7h.9v.9h-.9zM339.4 275.4h.9v.9h-.9zM333.8 298.0h.9v.9h-.9zM341.8 263.4h.9v.9h-.9zM361.4 306.1h.9v.9h-.9zM346.3 298.0h.9v.9h-.9zM322.5 266.2h.9v.9h-.9zM344.1 297.4h.9v.9h-.9zM360.9 289.8h.9v.9h-.9zM317.3 276.1h.9v.9h-.9zM364.0 302.7h.9v.9h-.9zM337.4 277.0h.9v.9h-.9zM349.1 265.0h.9v.9h-.9zM331.7 289.9h.9v.9h-.9zM320.0 278.4h.9v.9h-.9zM333.1 275.8h.9v.9h-.9zM346.3 286.5h.9v.9h-.9zM333.1 259.0h.9v.9h-.9zM332.2 296.1h.9v.9h-.9zM360.0 295.6h.9v.9h-.9zM337.3 269.8h.9v.9h-.9zM325.8 278.4h.9v.9h-.9zM321.0 286.5h.9v.9h-.9zM335.7 279.8h.9v.9h-.9zM354.2 284.2h.9v.9h-.9zM327.1 295.9h.9v.9h-.9zM319.6 277.4h.9v.9h-.9zM351.9 317.5h.9v.9h-.9zM337.7 271.8h.9v.9h-.9zM336.3 274.9h.9v.9h-.9zM371.0 313.6h.9v.9h-.9zM340.0 284.2h.9v.9h-.9zM331.7 266.3h.9v.9h-.9zM346.4 302.2h.9v.9h-.9zM355.2 284.9h.9v.9h-.9zM315.7 271.8h.9v.9h-.9zM350.4 289.3h.9v.9h-.9zM349.6 305.7h.9v.9h-.9zM334.6 295.7h.9v.9h-.9zM377.2 317.0h.9v.9h-.9zM336.7 303.5h.9v.9h-.9zM322.2 292.9h.9v.9h-.9zM343.7 282.6h.9v.9h-.9zM362.4 301.8h.9v.9h-.9zM353.0 296.7h.9v.9h-.9zM330.1 302.5h.9v.9h-.9zM346.8 286.6h.9v.9h-.9zM345.5 296.0h.9v.9h-.9zM368.5 301.1h.9v.9h-.9zM326.5 282.2h.9v.9h-.9zM315.4 264.3h.9v.9h-.9zM331.8 294.3h.9v.9h-.9zM310.8 279.2h.9v.9h-.9zM333.8 288.2h.9v.9h-.9zM343.4 279.0h.9v.9h-.9zM329.4 255.9h.9v.9h-.9zM321.1 282.5h.9v.9h-.9zM356.3 257.8h.9v.9h-.9zM333.4 287.7h.9v.9h-.9zM340.5 281.7h.9v.9h-.9zM352.3 301.4h.9v.9h-.9zM315.2 284.2h.9v.9h-.9zM321.5 291.9h.9v.9h-.9zM377.8 274.5h.9v.9h-.9zM334.1 277.8h.9v.9h-.9zM319.5 262.1h.9v.9h-.9zM332.5 301.1h.9v.9h-.9zM327.2 287.8h.9v.9h-.9zM316.4 276.2h.9v.9h-.9zM329.9 288.2h.9v.9h-.9zM336.3 277.0h.9v.9h-.9zM336.4 271.7h.9v.9h-.9zM345.5 287.2h.9v.9h-.9zM312.0 282.0h.9v.9h-.9zM349.7 258.5h.9v.9h-.9zM329.4 274.3h.9v.9h-.9zM356.7 312.2h.9v.9h-.9zM341.7 269.7h.9v.9h-.9zM313.4 306.5h.9v.9h-.9zM345.5 278.9h.9v.9h-.9zM320.0 298.2h.9v.9h-.9zM340.9 281.7h.9v.9h-.9zM356.9 255.1h.9v.9h-.9zM371.5 273.3h.9v.9h-.9zM335.5 319.8h.9v.9h-.9zM348.2 280.5h.9v.9h-.9zM341.6 293.0h.9v.9h-.9zM349.7 276.9h.9v.9h-.9zM330.3 290.1h.9v.9h-.9zM341.4 291.4h.9v.9h-.9zM344.4 320.7h.9v.9h-.9zM324.3 285.0h.9v.9h-.9zM350.2 279.5h.9v.9h-.9zM354.8 270.8h.9v.9h-.9zM337.8 261.6h.9v.9h-.9zM332.9 257.1h.9v.9h-.9zM330.8 295.8h.9v.9h-.9zM338.9 252.2h.9v.9h-.9zM356.1 305.7h.9v.9h-.9zM361.3 295.9h.9v.9h-.9zM328.9 279.8h.9v.9h-.9zM321.4 266.1h.9v.9h-.9zM323.6 285.8h.9v.9h-.9zM352.9 282.6h.9v.9h-.9zM340.3 302.6h.9v.9h-.9zM341.6 270.9h.9v.9h-.9zM344.6 276.7h.9v.9h-.9zM342.8 282.4h.9v.9h-.9zM334.7 279.5h.9v.9h-.9zM319.6 275.2h.9v.9h-.9zM326.5 256.1h.9v.9h-.9zM338.7 256.0h.9v.9h-.9zM343.1 271.9h.9v.9h-.9zM330.6 280.8h.9v.9h-.9zM329.8 301.6h.9v.9h-.9zM359.1 320.7h.9v.9h-.9zM329.0 313.8h.9v.9h-.9zM340.3 290.3h.9v.9h-.9zM331.4 316.3h.9v.9h-.9zM322.6 283.5h.9v.9h-.9zM311.8 277.7h.9v.9h-.9zM323.2 267.4h.9v.9h-.9zM350.6 275.5h.9v.9h-.9zM317.8 281.5h.9v.9h-.9zM329.9 309.4h.9v.9h-.9zM347.4 272.8h.9v.9h-.9zM334.8 297.4h.9v.9h-.9zM344.8 276.2h.9v.9h-.9zM350.4 261.9h.9v.9h-.9zM329.9 287.6h.9v.9h-.9zM320.9 266.1h.9v.9h-.9zM358.8 267.0h.9v.9h-.9zM334.7 270.8h.9v.9h-.9zM344.8 299.4h.9v.9h-.9zM364.5 288.9h.9v.9h-.9zM330.8 288.7h.9v.9h-.9zM337.9 292.2h.9v.9h-.9zM343.3 275.2h.9v.9h-.9zM332.3 292.5h.9v.9h-.9zM357.2 271.6h.9v.9h-.9zM350.0 260.1h.9v.9h-.9zM353.0 270.4h.9v.9h-.9zM337.5 287.5h.9v.9h-.9zM331.1 286.1h.9v.9h-.9zM330.9 302.5h.9v.9h-.9zM330.7 256.1h.9v.9h-.9zM342.6 290.1h.9v.9h-.9zM349.9 266.3h.9v.9h-.9zM336.5 288.3h.9v.9h-.9zM328.6 278.0h.9v.9h-.9zM337.3 264.9h.9v.9h-.9zM340.3 302.6h.9v.9h-.9zM342.0 260.0h.9v.9h-.9zM365.9 297.8h.9v.9h-.9zM322.7 278.5h.9v.9h-.9zM342.6 267.5h.9v.9h-.9zM347.9 267.9h.9v.9h-.9zM337.9 271.4h.9v.9h-.9zM332.8 270.1h.9v.9h-.9zM320.0 290.4h.9v.9h-.9zM327.0 253.5h.9v.9h-.9zM348.1 303.8h.9v.9h-.9zM360.3 295.7h.9v.9h-.9zM326.0 308.7h.9v.9h-.9zM344.3 266.6h.9v.9h-.9zM353.0 271.8h.9v.9h-.9zM340.6 280.8h.9v.9h-.9zM343.8 288.4h.9v.9h-.9zM351.1 273.8h.9v.9h-.9zM317.7 284.7h.9v.9h-.9zM337.4 286.5h.9v.9h-.9zM323.3 266.5h.9v.9h-.9zM311.6 291.2h.9v.9h-.9zM344.8 301.5h.9v.9h-.9zM352.7 269.1h.9v.9h-.9zM331.7 284.7h.9v.9h-.9zM334.4 311.9h.9v.9h-.9zM332.8 279.7h.9v.9h-.9zM332.4 302.2h.9v.9h-.9zM338.8 288.8h.9v.9h-.9zM342.3 287.4h.9v.9h-.9zM329.1 297.1h.9v.9h-.9zM323.9 281.6h.9v.9h-.9zM328.2 281.5h.9v.9h-.9zM349.5 299.0h.9v.9h-.9zM329.8 289.3h.9v.9h-.9zM360.0 290.1h.9v.9h-.9zM332.7 264.3h.9v.9h-.9zM358.7 282.1h.9v.9h-.9zM317.3 306.7h.9v.9h-.9zM325.4 300.6h.9v.9h-.9zM344.3 289.2h.9v.9h-.9zM344.5 274.6h.9v.9h-.9zM334.0 274.1h.9v.9h-.9zM369.5 288.1h.9v.9h-.9zM337.7 308.0h.9v.9h-.9zM341.2 284.4h.9v.9h-.9zM327.4 307.2h.9v.9h-.9zM363.3 276.3h.9v.9h-.9zM350.4 303.0h.9v.9h-.9zM343.2 266.6h.9v.9h-.9zM342.4 265.5h.9v.9h-.9zM329.0 296.2h.9v.9h-.9zM342.9 293.2h.9v.9h-.9zM351.3 266.6h.9v.9h-.9zM324.5 272.9h.9v.9h-.9zM340.0 276.3h.9v.9h-.9zM350.7 257.5h.9v.9h-.9zM339.2 268.3h.9v.9h-.9zM331.2 270.2h.9v.9h-.9zM319.5 299.2h.9v.9h-.9zM325.8 308.7h.9v.9h-.9zM316.1 278.9h.9v.9h-.9zM352.4 277.7h.9v.9h-.9zM338.2 287.6h.9v.9h-.9zM317.0 277.5h.9v.9h-.9zM336.4 279.5h.9v.9h-.9zM315.8 300.6h.9v.9h-.9zM355.9 280.7h.9v.9h-.9zM355.3 272.5h.9v.9h-.9zM312.8 311.6h.9v.9h-.9zM325.0 275.1h.9v.9h-.9zM339.8 285.9h.9v.9h-.9zM330.4 267.4h.9v.9h-.9zM322.8 275.6h.9v.9h-.9zM328.3 286.7h.9v.9h-.9zM332.6 277.9h.9v.9h-.9zM327.6 294.2h.9v.9h-.9zM339.9 285.0h.9v.9h-.9zM332.8 261.2h.9v.9h-.9zM336.9 301.0h.9v.9h-.9zM359.7 306.7h.9v.9h-.9zM335.1 271.4h.9v.9h-.9zM341.9 293.0h.9v.9h-.9zM343.1 278.9h.9v.9h-.9zM340.7 284.0h.9v.9h-.9zM356.7 266.3h.9v.9h-.9zM318.4 296.9h.9v.9h-.9zM335.4 302.8h.9v.9h-.9zM338.8 275.1h.9v.9h-.9zM328.5 315.2h.9v.9h-.9zM326.9 275.6h.9v.9h-.9zM357.1 286.2h.9v.9h-.9zM325.0 257.8h.9v.9h-.9zM328.8 252.5h.9v.9h-.9zM332.0 320.2h.9v.9h-.9zM333.0 308.6h.9v.9h-.9zM339.0 303.3h.9v.9h-.9zM333.1 255.9h.9v.9h-.9zM342.4 287.4h.9v.9h-.9zM338.6 291.0h.9v.9h-.9zM344.1 284.7h.9v.9h-.9zM358.3 286.9h.9v.9h-.9zM322.9 270.1h.9v.9h-.9zM362.8 278.7h.9v.9h-.9zM329.2 265.7h.9v.9h-.9zM347.1 277.1h.9v.9h-.9zM339.0 290.2h.9v.9h-.9zM331.7 271.5h.9v.9h-.9zM362.2 274.2h.9v.9h-.9zM324.3 285.7h.9v.9h-.9zM323.8 301.1h.9v.9h-.9zM353.4 286.4h.9v.9h-.9zM337.6 290.7h.9v.9h-.9zM366.8 256.6h.9v.9h-.9zM363.2 275.2h.9v.9h-.9zM347.7 296.8h.9v.9h-.9zM340.4 269.2h.9v.9h-.9zM348.6 275.5h.9v.9h-.9zM315.4 270.0h.9v.9h-.9zM339.1 306.4h.9v.9h-.9zM338.7 276.3h.9v.9h-.9zM328.9 272.6h.9v.9h-.9zM366.9 287.5h.9v.9h-.9zM336.0 316.7h.9v.9h-.9zM315.2 266.6h.9v.9h-.9zM338.3 273.9h.9v.9h-.9zM374.2 321.0h.9v.9h-.9zM383.8 306.7h.9v.9h-.9zM324.5 294.4h.9v.9h-.9zM385.9 268.4h.9v.9h-.9zM327.4 256.4h.9v.9h-.9zM313.8 280.5h.9v.9h-.9zM321.7 270.3h.9v.9h-.9zM312.5 314.5h.9v.9h-.9zM330.5 292.7h.9v.9h-.9zM373.4 292.0h.9v.9h-.9zM349.8 298.6h.9v.9h-.9zM375.2 291.2h.9v.9h-.9zM318.5 273.9h.9v.9h-.9zM371.6 305.9h.9v.9h-.9zM322.0 306.1h.9v.9h-.9zM337.1 315.9h.9v.9h-.9zM386.7 290.9h.9v.9h-.9zM370.2 265.6h.9v.9h-.9zM370.2 318.9h.9v.9h-.9zM363.3 254.4h.9v.9h-.9zM340.8 267.7h.9v.9h-.9zM361.8 304.3h.9v.9h-.9zM345.8 313.3h.9v.9h-.9zM375.0 317.8h.9v.9h-.9zM365.6 297.6h.9v.9h-.9zM383.0 276.7h.9v.9h-.9zM378.8 256.3h.9v.9h-.9zM379.0 305.9h.9v.9h-.9zM318.7 300.4h.9v.9h-.9zM312.7 264.3h.9v.9h-.9zM342.0 306.6h.9v.9h-.9zM387.5 318.2h.9v.9h-.9zM360.1 270.0h.9v.9h-.9zM357.8 298.0h.9v.9h-.9zM377.9 286.3h.9v.9h-.9zM362.3 298.8h.9v.9h-.9zM320.1 264.5h.9v.9h-.9zM349.4 315.3h.9v.9h-.9zM381.2 277.9h.9v.9h-.9zM376.3 300.4h.9v.9h-.9zM316.0 273.6h.9v.9h-.9zM391.9 269.5h.9v.9h-.9zM353.2 318.7h.9v.9h-.9zM334.4 275.4h.9v.9h-.9zM345.9 318.5h.9v.9h-.9zM387.4 313.2h.9v.9h-.9zM383.6 295.2h.9v.9h-.9zM339.8 295.5h.9v.9h-.9zM362.6 256.2h.9v.9h-.9zM316.8 308.0h.9v.9h-.9zM375.2 302.9h.9v.9h-.9zM317.1 297.0h.9v.9h-.9zM369.0 310.5h.9v.9h-.9zM336.7 289.8h.9v.9h-.9zM323.3 284.0h.9v.9h-.9zM322.7 306.3h.9v.9h-.9zM329.0 298.2h.9v.9h-.9zM349.1 267.3h.9v.9h-.9zM323.6 271.1h.9v.9h-.9zM350.7 269.7h.9v.9h-.9zM377.4 309.9h.9v.9h-.9zM331.2 320.7h.9v.9h-.9zM368.8 319.5h.9v.9h-.9zM339.8 294.9h.9v.9h-.9zM321.1 308.8h.9v.9h-.9zM376.8 264.7h.9v.9h-.9zM338.9 280.4h.9v.9h-.9zM362.8 317.6h.9v.9h-.9zM369.5 267.8h.9v.9h-.9zM337.8 287.4h.9v.9h-.9zM360.8 307.9h.9v.9h-.9zM371.7 320.3h.9v.9h-.9zM328.5 256.4h.9v.9h-.9zM329.4 312.0h.9v.9h-.9zM314.0 310.6h.9v.9h-.9zM354.1 316.5h.9v.9h-.9zM349.4 300.7h.9v.9h-.9zM323.6 312.5h.9v.9h-.9zM350.1 285.3h.9v.9h-.9zM333.0 297.3h.9v.9h-.9zM376.9 294.7h.9v.9h-.9zM350.8 287.9h.9v.9h-.9zM353.5 288.3h.9v.9h-.9zM322.7 304.3h.9v.9h-.9zM387.7 267.2h.9v.9h-.9zM331.5 311.7h.9v.9h-.9zM358.3 304.4h.9v.9h-.9zM373.9 271.2h.9v.9h-.9zM353.1 281.7h.9v.9h-.9zM336.9 312.1h.9v.9h-.9zM363.1 286.7h.9v.9h-.9zM369.1 312.5h.9v.9h-.9zM322.2 285.1h.9v.9h-.9zM331.7 320.6h.9v.9h-.9zM325.8 284.5h.9v.9h-.9zM312.8 320.1h.9v.9h-.9zM361.3 284.1h.9v.9h-.9zM333.1 269.0h.9v.9h-.9zM387.0 308.9h.9v.9h-.9zM342.2 261.0h.9v.9h-.9zM385.0 308.7h.9v.9h-.9zM318.6 291.5h.9v.9h-.9zM336.7 313.2h.9v.9h-.9zM379.6 299.1h.9v.9h-.9zM384.6 318.1h.9v.9h-.9zM376.0 292.6h.9v.9h-.9zM366.3 273.0h.9v.9h-.9zM336.1 316.8h.9v.9h-.9zM357.5 312.0h.9v.9h-.9zM377.4 297.8h.9v.9h-.9zM343.3 275.7h.9v.9h-.9zM386.9 254.7h.9v.9h-.9zM361.4 310.4h.9v.9h-.9zM368.6 301.5h.9v.9h-.9zM322.6 287.8h.9v.9h-.9zM344.5 292.5h.9v.9h-.9zM318.8 309.0h.9v.9h-.9zM339.7 273.4h.9v.9h-.9zM357.0 255.1h.9v.9h-.9zM334.5 262.4h.9v.9h-.9zM311.5 320.4h.9v.9h-.9zM345.9 271.7h.9v.9h-.9zM372.4 319.7h.9v.9h-.9zM341.7 256.0h.9v.9h-.9zM374.0 302.2h.9v.9h-.9zM342.4 293.3h.9v.9h-.9zM355.5 291.3h.9v.9h-.9zM335.5 252.1h.9v.9h-.9zM318.0 295.9h.9v.9h-.9zM374.3 298.9h.9v.9h-.9zM352.6 311.7h.9v.9h-.9zM375.3 311.5h.9v.9h-.9zM374.6 310.3h.9v.9h-.9zM374.1 259.2h.9v.9h-.9zM341.8 314.1h.9v.9h-.9zM334.8 293.1h.9v.9h-.9zM329.3 313.7h.9v.9h-.9zM348.9 315.9h.9v.9h-.9zM359.9 261.3h.9v.9h-.9zM380.8 285.8h.9v.9h-.9zM370.1 298.0h.9v.9h-.9zM357.0 317.6h.9v.9h-.9zM334.4 256.7h.9v.9h-.9zM358.2 298.0h.9v.9h-.9zM334.0 291.1h.9v.9h-.9zM381.5 265.8h.9v.9h-.9zM329.4 303.0h.9v.9h-.9zM344.2 305.5h.9v.9h-.9zM329.2 264.2h.9v.9h-.9zM328.6 263.3h.9v.9h-.9zM372.9 290.9h.9v.9h-.9zM327.4 318.6h.9v.9h-.9zM337.0 311.5h.9v.9h-.9zM314.5 301.8h.9v.9h-.9zM384.8 284.9h.9v.9h-.9zM383.8 318.3h.9v.9h-.9zM341.4 290.0h.9v.9h-.9zM385.5 266.2h.9v.9h-.9zM329.5 297.7h.9v.9h-.9zM331.5 262.3h.9v.9h-.9zM356.0 313.5h.9v.9h-.9zM328.6 291.8h.9v.9h-.9zM384.4 306.1h.9v.9h-.9zM320.9 309.1h.9v.9h-.9zM347.3 309.2h.9v.9h-.9zM345.4 308.9h.9v.9h-.9zM390.9 256.0h.9v.9h-.9zM316.0 275.0h.9v.9h-.9zM363.4 279.5h.9v.9h-.9zM349.2 320.2h.9v.9h-.9zM346.3 279.4h.9v.9h-.9zM380.3 304.4h.9v.9h-.9zM321.4 264.9h.9v.9h-.9zM343.2 288.8h.9v.9h-.9zM319.1 309.8h.9v.9h-.9zM343.2 316.0h.9v.9h-.9zM375.8 260.4h.9v.9h-.9zM378.4 310.0h.9v.9h-.9zM322.4 319.1h.9v.9h-.9zM331.2 255.4h.9v.9h-.9zM367.8 310.5h.9v.9h-.9zM325.0 257.6h.9v.9h-.9zM315.0 302.5h.9v.9h-.9zM381.3 320.3h.9v.9h-.9zM312.9 261.6h.9v.9h-.9zM383.2 306.6h.9v.9h-.9zM359.5 263.8h.9v.9h-.9zM343.0 296.9h.9v.9h-.9zM335.3 281.6h.9v.9h-.9zM342.8 295.3h.9v.9h-.9zM383.6 307.3h.9v.9h-.9zM357.9 270.5h.9v.9h-.9zM322.7 278.3h.9v.9h-.9zM356.5 264.3h.9v.9h-.9zM336.3 285.7h.9v.9h-.9zM384.1 261.2h.9v.9h-.9zM323.9 256.0h.9v.9h-.9zM351.1 305.8h.9v.9h-.9zM312.9 304.1h.9v.9h-.9zM332.4 256.1h.9v.9h-.9zM368.4 301.1h.9v.9h-.9zM360.7 302.4h.9v.9h-.9zM385.4 281.4h.9v.9h-.9zM323.6 277.9h.9v.9h-.9zM348.7 273.3h.9v.9h-.9zM319.3 298.0h.9v.9h-.9zM367.4 265.8h.9v.9h-.9zM319.5 294.7h.9v.9h-.9zM385.8 285.5h.9v.9h-.9zM350.5 292.4h.9v.9h-.9zM354.7 307.3h.9v.9h-.9zM340.8 272.9h.9v.9h-.9zM343.3 279.2h.9v.9h-.9zM381.8 290.5h.9v.9h-.9zM372.5 280.1h.9v.9h-.9zM342.4 302.8h.9v.9h-.9zM377.1 266.5h.9v.9h-.9zM341.7 316.3h.9v.9h-.9zM317.5 317.8h.9v.9h-.9zM329.5 265.2h.9v.9h-.9zM345.4 290.8h.9v.9h-.9zM346.8 281.5h.9v.9h-.9zM325.2 281.4h.9v.9h-.9zM368.0 271.1h.9v.9h-.9zM330.3 294.0h.9v.9h-.9zM363.7 309.9h.9v.9h-.9zM353.7 273.8h.9v.9h-.9zM363.5 308.8h.9v.9h-.9zM383.3 306.7h.9v.9h-.9zM368.6 299.7h.9v.9h-.9zM360.8 314.7h.9v.9h-.9zM366.3 298.0h.9v.9h-.9zM352.9 309.7h.9v.9h-.9zM377.1 312.8h.9v.9h-.9zM323.8 296.4h.9v.9h-.9zM323.5 277.7h.9v.9h-.9z" fill="#111" fill-opacity=".45"/>
<path d="M371.5 271.3h.9v.9h-.9zM378.7 271.5h.9v.9h-.9zM371.9 237.1h.9v.9h-.9zM355.6 256.6h.9v.9h-.9zM362.5 269.2h.9v.9h-.9zM385.9 262.4h.9v.9h-.9zM383.1 262.4h.9v.9h-.9zM369.3 268.6h.9v.9h-.9zM369.6 271.1h.9v.9h-.9zM369.2 272.1h.9v.9h-.9zM371.2 279.0h.9v.9h-.9zM353.4 269.8h.9v.9h-.9zM380.4 269.1h.9v.9h-.9zM364.1 253.7h.9v.9h-.9zM372.5 263.3h.9v.9h-.9zM344.5 262.2h.9v.9h-.9zM373.5 275.2h.9v.9h-.9zM385.1 279.6h.9v.9h-.9zM347.5 275.4h.9v.9h-.9zM387.0 250.1h.9v.9h-.9zM376.0 262.6h.9v.9h-.9zM363.3 267.1h.9v.9h-.9zM354.4 270.9h.9v.9h-.9zM383.2 270.2h.9v.9h-.9zM373.7 271.7h.9v.9h-.9zM377.2 242.0h.9v.9h-.9zM368.2 276.5h.9v.9h-.9zM362.6 263.1h.9v.9h-.9zM380.1 257.9h.9v.9h-.9zM361.0 278.8h.9v.9h-.9zM380.5 260.1h.9v.9h-.9zM353.4 258.6h.9v.9h-.9zM361.3 256.9h.9v.9h-.9zM355.7 269.4h.9v.9h-.9zM384.8 268.3h.9v.9h-.9zM352.6 281.7h.9v.9h-.9zM359.0 266.7h.9v.9h-.9zM377.9 259.2h.9v.9h-.9zM373.4 277.1h.9v.9h-.9zM394.0 254.9h.9v.9h-.9zM377.5 264.9h.9v.9h-.9zM378.3 264.7h.9v.9h-.9zM351.8 268.1h.9v.9h-.9zM361.7 269.7h.9v.9h-.9zM367.5 262.1h.9v.9h-.9zM369.1 259.9h.9v.9h-.9zM356.5 267.7h.9v.9h-.9zM361.2 262.3h.9v.9h-.9zM362.1 269.6h.9v.9h-.9zM382.2 262.5h.9v.9h-.9zM375.5 261.5h.9v.9h-.9zM367.5 264.2h.9v.9h-.9zM368.1 263.8h.9v.9h-.9zM374.1 277.8h.9v.9h-.9zM363.7 266.7h.9v.9h-.9zM368.2 260.8h.9v.9h-.9zM352.9 267.4h.9v.9h-.9zM378.0 268.2h.9v.9h-.9zM381.1 260.5h.9v.9h-.9zM374.8 262.6h.9v.9h-.9zM376.0 261.4h.9v.9h-.9zM374.8 265.1h.9v.9h-.9zM392.5 262.1h.9v.9h-.9zM373.1 267.8h.9v.9h-.9zM357.1 255.6h.9v.9h-.9zM360.0 259.3h.9v.9h-.9zM378.5 241.9h.9v.9h-.9zM382.2 268.2h.9v.9h-.9zM379.1 271.4h.9v.9h-.9zM379.8 272.8h.9v.9h-.9zM373.0 265.4h.9v.9h-.9zM355.3 278.2h.9v.9h-.9zM363.5 266.5h.9v.9h-.9zM351.9 269.0h.9v.9h-.9zM366.9 253.7h.9v.9h-.9zM356.6 262.5h.9v.9h-.9zM372.0 259.8h.9v.9h-.9zM369.2 272.6h.9v.9h-.9zM350.4 283.6h.9v.9h-.9zM378.7 259.0h.9v.9h-.9zM379.0 265.6h.9v.9h-.9zM356.3 271.0h.9v.9h-.9zM372.5 258.3h.9v.9h-.9zM378.5 249.1h.9v.9h-.9zM367.9 259.7h.9v.9h-.9zM380.0 250.9h.9v.9h-.9zM372.9 261.8h.9v.9h-.9zM382.3 260.6h.9v.9h-.9zM372.9 262.8h.9v.9h-.9zM369.2 264.0h.9v.9h-.9zM376.3 267.2h.9v.9h-.9zM379.2 255.2h.9v.9h-.9zM373.6 271.2h.9v.9h-.9zM366.2 252.8h.9v.9h-.9zM362.6 267.6h.9v.9h-.9zM367.0 269.0h.9v.9h-.9zM364.8 260.2h.9v.9h-.9zM373.1 251.6h.9v.9h-.9zM372.7 269.4h.9v.9h-.9zM370.0 259.7h.9v.9h-.9zM370.9 271.0h.9v.9h-.9zM372.7 270.4h.9v.9h-.9zM387.4 260.3h.9v.9h-.9zM383.6 261.4h.9v.9h-.9zM364.8 274.3h.9v.9h-.9zM375.3 266.6h.9v.9h-.9zM367.4 258.3h.9v.9h-.9zM369.8 266.4h.9v.9h-.9zM368.3 269.9h.9v.9h-.9zM364.2 268.2h.9v.9h-.9zM356.4 270.2h.9v.9h-.9zM344.8 270.7h.9v.9h-.9zM373.0 263.3h.9v.9h-.9zM383.4 254.0h.9v.9h-.9zM361.2 256.1h.9v.9h-.9zM376.2 272.3h.9v.9h-.9zM366.7 260.9h.9v.9h-.9zM373.8 265.8h.9v.9h-.9zM362.3 255.2h.9v.9h-.9zM368.4 266.8h.9v.9h-.9zM369.6 258.6h.9v.9h-.9zM345.6 295.2h.9v.9h-.9zM373.1 256.1h.9v.9h-.9zM369.3 257.6h.9v.9h-.9zM344.5 279.4h.9v.9h-.9zM377.7 272.0h.9v.9h-.9zM370.4 248.2h.9v.9h-.9zM373.0 266.3h.9v.9h-.9zM374.6 270.8h.9v.9h-.9zM366.4 256.3h.9v.9h-.9zM359.4 273.3h.9v.9h-.9zM366.0 261.9h.9v.9h-.9zM366.2 258.2h.9v.9h-.9zM394.3 255.7h.9v.9h-.9zM390.3 255.9h.9v.9h-.9zM365.6 255.2h.9v.9h-.9zM366.4 283.7h.9v.9h-.9zM374.2 260.3h.9v.9h-.9zM376.8 257.3h.9v.9h-.9zM363.4 273.6h.9v.9h-.9zM360.1 267.1h.9v.9h-.9zM391.3 269.8h.9v.9h-.9zM382.0 259.7h.9v.9h-.9zM354.2 272.1h.9v.9h-.9zM351.9 270.7h.9v.9h-.9zM361.9 268.5h.9v.9h-.9zM373.1 262.6h.9v.9h-.9zM376.5 262.4h.9v.9h-.9zM367.1 279.1h.9v.9h-.9zM353.5 264.1h.9v.9h-.9zM373.0 259.9h.9v.9h-.9zM377.1 260.4h.9v.9h-.9zM370.7 269.4h.9v.9h-.9zM365.4 269.5h.9v.9h-.9zM376.8 270.6h.9v.9h-.9zM370.1 254.4h.9v.9h-.9zM358.7 270.1h.9v.9h-.9zM371.7 263.2h.9v.9h-.9zM356.9 266.3h.9v.9h-.9zM381.0 263.4h.9v.9h-.9zM375.7 247.9h.9v.9h-.9zM360.0 269.9h.9v.9h-.9zM372.9 265.4h.9v.9h-.9zM384.0 250.0h.9v.9h-.9zM347.8 270.3h.9v.9h-.9zM369.2 277.5h.9v.9h-.9zM388.3 257.0h.9v.9h-.9zM354.1 274.0h.9v.9h-.9zM368.9 263.6h.9v.9h-.9zM355.4 262.6h.9v.9h-.9zM369.9 257.8h.9v.9h-.9zM344.9 268.7h.9v.9h-.9zM353.3 279.8h.9v.9h-.9zM364.9 272.9h.9v.9h-.9zM372.1 258.9h.9v.9h-.9zM374.7 271.6h.9v.9h-.9zM375.2 262.6h.9v.9h-.9zM383.0 256.1h.9v.9h-.9zM378.2 266.2h.9v.9h-.9zM378.6 255.5h.9v.9h-.9zM360.2 255.3h.9v.9h-.9zM369.0 275.5h.9v.9h-.9zM404.9 241.2h.9v.9h-.9zM395.0 262.5h.9v.9h-.9zM379.6 250.4h.9v.9h-.9zM378.6 262.5h.9v.9h-.9zM381.3 260.4h.9v.9h-.9zM366.3 262.6h.9v.9h-.9zM391.8 241.9h.9v.9h-.9zM366.6 265.1h.9v.9h-.9zM369.8 264.8h.9v.9h-.9zM394.1 251.5h.9v.9h-.9zM348.2 270.4h.9v.9h-.9zM374.6 271.6h.9v.9h-.9zM352.1 264.2h.9v.9h-.9zM363.6 268.8h.9v.9h-.9zM369.7 256.1h.9v.9h-.9zM366.9 268.9h.9v.9h-.9zM372.5 269.4h.9v.9h-.9zM362.4 286.6h.9v.9h-.9zM369.6 272.3h.9v.9h-.9zM357.8 271.8h.9v.9h-.9zM366.5 277.1h.9v.9h-.9zM355.7 261.1h.9v.9h-.9zM377.8 271.4h.9v.9h-.9zM356.7 264.4h.9v.9h-.9zM378.2 258.0h.9v.9h-.9zM366.2 274.7h.9v.9h-.9zM367.4 267.6h.9v.9h-.9zM383.5 271.9h.9v.9h-.9zM371.8 253.2h.9v.9h-.9zM350.1 272.6h.9v.9h-.9zM376.1 259.3h.9v.9h-.9zM339.2 271.3h.9v.9h-.9zM373.6 249.2h.9v.9h-.9zM366.3 273.4h.9v.9h-.9zM355.5 270.7h.9v.9h-.9zM371.5 256.9h.9v.9h-.9zM367.3 255.3h.9v.9h-.9zM392.5 252.2h.9v.9h-.9zM365.9 277.2h.9v.9h-.9zM391.8 258.4h.9v.9h-.9zM385.7 258.2h.9v.9h-.9zM364.0 270.6h.9v.9h-.9zM361.8 267.4h.9v.9h-.9zM385.0 262.9h.9v.9h-.9zM369.2 271.2h.9v.9h-.9zM372.4 267.1h.9v.9h-.9zM367.9 272.6h.9v.9h-.9zM357.5 259.2h.9v.9h-.9zM366.6 266.6h.9v.9h-.9zM360.2 265.0h.9v.9h-.9zM354.0 270.3h.9v.9h-.9zM367.5 265.5h.9v.9h-.9zM390.1 254.7h.9v.9h-.9zM388.3 257.5h.9v.9h-.9zM370.0 272.6h.9v.9h-.9zM372.2 260.3h.9v.9h-.9zM376.3 253.8h.9v.9h-.9zM385.5 265.6h.9v.9h-.9zM374.1 271.7h.9v.9h-.9zM365.5 264.3h.9v.9h-.9zM366.4 267.2h.9v.9h-.9zM383.1 255.1h.9v.9h-.9zM399.1 255.7h.9v.9h-.9zM363.8 275.5h.9v.9h-.9zM348.3 277.4h.9v.9h-.9zM379.5 263.8h.9v.9h-.9zM369.8 263.1h.9v.9h-.9zM372.2 251.9h.9v.9h-.9zM384.2 263.8h.9v.9h-.9zM371.4 268.4h.9v.9h-.9zM356.2 277.2h.9v.9h-.9zM349.2 286.6h.9v.9h-.9zM370.2 268.1h.9v.9h-.9zM358.0 276.0h.9v.9h-.9zM373.9 255.5h.9v.9h-.9zM356.7 278.2h.9v.9h-.9zM366.8 272.9h.9v.9h-.9zM354.6 280.1h.9v.9h-.9zM366.7 271.4h.9v.9h-.9zM365.8 269.9h.9v.9h-.9zM377.2 274.8h.9v.9h-.9zM385.4 255.9h.9v.9h-.9zM368.7 270.7h.9v.9h-.9zM361.2 276.1h.9v.9h-.9zM392.1 253.2h.9v.9h-.9zM374.7 255.1h.9v.9h-.9zM377.4 266.7h.9v.9h-.9zM377.4 264.3h.9v.9h-.9zM386.6 265.5h.9v.9h-.9zM381.8 267.1h.9v.9h-.9zM378.1 257.2h.9v.9h-.9zM379.1 265.5h.9v.9h-.9zM361.3 276.4h.9v.9h-.9zM364.0 264.2h.9v.9h-.9zM369.5 263.2h.9v.9h-.9zM371.7 256.1h.9v.9h-.9zM370.9 271.4h.9v.9h-.9zM374.1 279.4h.9v.9h-.9zM371.0 254.4h.9v.9h-.9zM366.0 272.3h.9v.9h-.9zM352.9 277.0h.9v.9h-.9zM379.9 258.3h.9v.9h-.9zM377.2 260.5h.9v.9h-.9zM361.1 259.7h.9v.9h-.9zM376.2 257.6h.9v.9h-.9zM375.0 265.3h.9v.9h-.9zM371.5 270.0h.9v.9h-.9zM350.5 271.6h.9v.9h-.9zM357.5 275.4h.9v.9h-.9zM364.1 268.6h.9v.9h-.9zM388.4 251.3h.9v.9h-.9zM361.3 279.0h.9v.9h-.9zM366.9 275.4h.9v.9h-.9zM358.5 263.0h.9v.9h-.9zM365.3 280.4h.9v.9h-.9zM374.5 267.8h.9v.9h-.9zM348.0 272.4h.9v.9h-.9zM339.6 288.5h.9v.9h-.9zM378.0 243.9h.9v.9h-.9zM371.1 252.7h.9v.9h-.9zM364.1 272.5h.9v.9h-.9zM381.4 260.5h.9v.9h-.9zM381.4 255.0h.9v.9h-.9zM347.7 283.2h.9v.9h-.9zM368.9 269.5h.9v.9h-.9zM382.9 252.1h.9v.9h-.9zM363.4 262.1h.9v.9h-.9zM367.3 272.8h.9v.9h-.9zM381.2 276.3h.9v.9h-.9zM367.8 250.5h.9v.9h-.9zM357.6 270.8h.9v.9h-.9zM363.2 264.4h.9v.9h-.9zM356.1 255.7h.9v.9h-.9zM376.8 262.3h.9v.9h-.9zM351.8 258.0h.9v.9h-.9zM381.7 258.1h.9v.9h-.9zM352.6 282.7h.9v.9h-.9zM371.2 269.2h.9v.9h-.9zM354.6 275.7h.9v.9h-.9zM367.2 270.9h.9v.9h-.9zM381.9 265.0h.9v.9h-.9zM383.0 269.5h.9v.9h-.9zM385.1 252.4h.9v.9h-.9zM369.7 262.8h.9v.9h-.9zM371.9 271.6h.9v.9h-.9zM373.3 259.0h.9v.9h-.9zM377.5 260.1h.9v.9h-.9zM366.3 275.9h.9v.9h-.9zM382.8 274.0h.9v.9h-.9zM374.3 259.7h.9v.9h-.9zM383.3 255.6h.9v.9h-.9zM376.0 268.5h.9v.9h-.9zM378.2 265.4h.9v.9h-.9zM362.7 262.3h.9v.9h-.9zM366.1 271.2h.9v.9h-.9zM356.5 273.5h.9v.9h-.9zM367.5 266.9h.9v.9h-.9zM368.8 288.7h.9v.9h-.9zM379.9 273.5h.9v.9h-.9zM356.9 275.5h.9v.9h-.9zM406.3 263.7h.9v.9h-.9zM369.4 288.8h.9v.9h-.9zM384.5 270.2h.9v.9h-.9zM382.1 256.7h.9v.9h-.9zM343.0 275.4h.9v.9h-.9zM367.8 266.7h.9v.9h-.9zM386.9 256.6h.9v.9h-.9zM344.0 274.6h.9v.9h-.9zM379.2 265.1h.9v.9h-.9zM360.6 267.7h.9v.9h-.9zM365.6 263.0h.9v.9h-.9zM373.2 271.2h.9v.9h-.9zM350.2 258.5h.9v.9h-.9zM372.9 271.2h.9v.9h-.9zM363.6 267.4h.9v.9h-.9zM362.5 269.8h.9v.9h-.9zM378.4 244.8h.9v.9h-.9zM409.3 268.1h.9v.9h-.9zM374.5 250.9h.9v.9h-.9zM376.8 257.0h.9v.9h-.9zM370.1 270.6h.9v.9h-.9zM362.7 262.9h.9v.9h-.9zM373.5 261.5h.9v.9h-.9zM387.4 243.5h.9v.9h-.9zM372.8 261.5h.9v.9h-.9zM380.5 264.4h.9v.9h-.9zM368.2 271.4h.9v.9h-.9zM398.4 255.7h.9v.9h-.9zM352.5 272.0h.9v.9h-.9zM377.1 267.1h.9v.9h-.9zM376.6 258.6h.9v.9h-.9zM373.6 258.8h.9v.9h-.9zM358.4 284.0h.9v.9h-.9zM358.1 262.2h.9v.9h-.9zM368.1 275.7h.9v.9h-.9zM371.8 265.7h.9v.9h-.9zM357.3 280.5h.9v.9h-.9zM358.9 263.6h.9v.9h-.9zM376.8 267.8h.9v.9h-.9zM382.0 265.0h.9v.9h-.9zM364.5 265.4h.9v.9h-.9zM363.0 270.0h.9v.9h-.9zM362.6 261.6h.9v.9h-.9zM397.9 257.5h.9v.9h-.9zM376.0 260.9h.9v.9h-.9zM369.9 271.6h.9v.9h-.9zM381.7 261.8h.9v.9h-.9zM395.9 247.8h.9v.9h-.9zM383.5 259.1h.9v.9h-.9zM354.9 268.9h.9v.9h-.9zM369.7 258.7h.9v.9h-.9zM366.2 277.1h.9v.9h-.9zM366.8 269.6h.9v.9h-.9zM357.2 275.7h.9v.9h-.9zM366.3 260.7h.9v.9h-.9zM358.7 265.6h.9v.9h-.9zM374.3 272.3h.9v.9h-.9zM371.1 254.2h.9v.9h-.9zM355.0 272.6h.9v.9h-.9zM351.8 271.3h.9v.9h-.9zM365.3 263.0h.9v.9h-.9zM377.7 264.2h.9v.9h-.9zM376.0 255.6h.9v.9h-.9zM369.8 267.4h.9v.9h-.9zM334.2 265.8h.9v.9h-.9zM365.1 257.0h.9v.9h-.9zM362.4 278.6h.9v.9h-.9zM366.9 261.0h.9v.9h-.9zM357.1 252.6h.9v.9h-.9zM365.8 274.4h.9v.9h-.9zM363.2 261.4h.9v.9h-.9zM400.5 229.9h.9v.9h-.9zM378.3 262.9h.9v.9h-.9zM368.4 273.3h.9v.9h-.9zM370.0 268.4h.9v.9h-.9zM369.2 279.3h.9v.9h-.9zM372.6 263.9h.9v.9h-.9zM366.1 271.4h.9v.9h-.9zM370.4 257.7h.9v.9h-.9zM381.9 263.7h.9v.9h-.9zM379.7 275.0h.9v.9h-.9zM374.0 268.5h.9v.9h-.9zM385.3 262.8h.9v.9h-.9zM373.0 249.3h.9v.9h-.9zM359.7 265.5h.9v.9h-.9zM351.3 260.6h.9v.9h-.9zM362.9 273.6h.9v.9h-.9zM369.9 259.9h.9v.9h-.9zM375.0 267.1h.9v.9h-.9zM382.4 254.4h.9v.9h-.9zM364.2 282.0h.9v.9h-.9zM361.7 258.7h.9v.9h-.9zM379.1 264.3h.9v.9h-.9zM383.5 282.6h.9v.9h-.9zM365.3 268.6h.9v.9h-.9zM374.3 257.6h.9v.9h-.9zM385.7 266.2h.9v.9h-.9zM374.1 272.3h.9v.9h-.9zM370.0 272.5h.9v.9h-.9zM347.6 256.3h.9v.9h-.9zM385.2 263.2h.9v.9h-.9zM377.7 246.9h.9v.9h-.9zM371.9 280.0h.9v.9h-.9zM365.4 267.4h.9v.9h-.9zM356.8 265.6h.9v.9h-.9zM369.5 271.1h.9v.9h-.9zM369.4 269.6h.9v.9h-.9zM382.7 252.9h.9v.9h-.9zM357.2 281.9h.9v.9h-.9zM386.5 259.3h.9v.9h-.9zM370.9 251.6h.9v.9h-.9zM383.7 273.0h.9v.9h-.9zM359.9 280.4h.9v.9h-.9zM374.4 274.3h.9v.9h-.9zM384.0 266.2h.9v.9h-.9zM371.8 258.2h.9v.9h-.9zM354.3 277.3h.9v.9h-.9zM366.9 281.1h.9v.9h-.9zM376.5 270.3h.9v.9h-.9zM355.1 282.3h.9v.9h-.9zM354.6 263.7h.9v.9h-.9zM373.2 272.8h.9v.9h-.9zM360.1 275.7h.9v.9h-.9zM378.1 251.8h.9v.9h-.9zM357.6 256.2h.9v.9h-.9zM350.3 265.3h.9v.9h-.9zM362.0 268.5h.9v.9h-.9zM387.0 264.6h.9v.9h-.9zM361.0 266.3h.9v.9h-.9zM370.5 265.0h.9v.9h-.9zM373.3 263.9h.9v.9h-.9zM360.1 269.1h.9v.9h-.9zM382.6 266.9h.9v.9h-.9zM372.5 268.9h.9v.9h-.9zM375.5 263.8h.9v.9h-.9zM352.0 272.6h.9v.9h-.9zM351.3 267.2h.9v.9h-.9zM340.2 280.0h.9v.9h-.9zM368.5 262.1h.9v.9h-.9zM368.0 279.2h.9v.9h-.9zM378.5 263.2h.9v.9h-.9zM386.9 263.3h.9v.9h-.9zM367.8 260.3h.9v.9h-.9zM367.6 263.6h.9v.9h-.9zM375.5 265.5h.9v.9h-.9zM387.4 261.1h.9v.9h-.9zM361.5 263.1h.9v.9h-.9zM377.5 254.5h.9v.9h-.9zM367.9 266.6h.9v.9h-.9zM366.9 267.7h.9v.9h-.9zM379.6 267.4h.9v.9h-.9zM361.9 277.7h.9v.9h-.9zM358.8 266.3h.9v.9h-.9zM377.9 247.8h.9v.9h-.9zM370.3 264.5h.9v.9h-.9zM367.7 251.7h.9v.9h-.9zM369.1 255.8h.9v.9h-.9zM376.1 272.2h.9v.9h-.9zM366.5 271.1h.9v.9h-.9zM379.0 258.2h.9v.9h-.9zM375.2 259.3h.9v.9h-.9zM386.9 260.4h.9v.9h-.9zM384.5 247.9h.9v.9h-.9zM380.0 266.8h.9v.9h-.9zM368.4 263.4h.9v.9h-.9zM371.9 279.8h.9v.9h-.9zM364.1 258.9h.9v.9h-.9zM402.0 265.0h.9v.9h-.9zM368.2 260.8h.9v.9h-.9zM376.7 272.0h.9v.9h-.9zM385.6 253.7h.9v.9h-.9zM355.6 275.4h.9v.9h-.9zM361.5 264.5h.9v.9h-.9zM366.3 260.2h.9v.9h-.9zM359.7 267.3h.9v.9h-.9zM356.7 273.1h.9v.9h-.9zM364.9 270.3h.9v.9h-.9zM384.9 274.2h.9v.9h-.9zM378.6 269.9h.9v.9h-.9zM371.0 244.6h.9v.9h-.9zM370.9 262.3h.9v.9h-.9zM352.4 254.7h.9v.9h-.9zM378.3 260.4h.9v.9h-.9zM375.3 269.2h.9v.9h-.9zM358.7 258.2h.9v.9h-.9zM372.9 255.6h.9v.9h-.9zM368.5 267.3h.9v.9h-.9zM364.9 264.8h.9v.9h-.9zM359.8 281.0h.9v.9h-.9zM363.2 270.1h.9v.9h-.9zM360.3 272.6h.9v.9h-.9zM375.7 278.0h.9v.9h-.9zM374.7 260.5h.9v.9h-.9zM374.2 264.6h.9v.9h-.9zM368.7 258.2h.9v.9h-.9zM366.2 268.8h.9v.9h-.9zM393.1 267.7h.9v.9h-.9zM350.2 281.9h.9v.9h-.9zM383.8 261.7h.9v.9h-.9zM374.6 258.9h.9v.9h-.9zM371.4 259.3h.9v.9h-.9zM365.1 256.0h.9v.9h-.9zM368.3 267.2h.9v.9h-.9zM357.6 279.9h.9v.9h-.9zM355.4 250.9h.9v.9h-.9zM369.4 248.6h.9v.9h-.9zM352.5 281.6h.9v.9h-.9zM347.4 280.1h.9v.9h-.9zM351.6 292.0h.9v.9h-.9zM376.1 306.2h.9v.9h-.9zM376.1 285.3h.9v.9h-.9zM368.8 289.3h.9v.9h-.9zM376.6 276.4h.9v.9h-.9zM367.3 278.7h.9v.9h-.9zM373.5 264.2h.9v.9h-.9zM388.6 308.1h.9v.9h-.9zM379.9 277.5h.9v.9h-.9zM358.9 297.8h.9v.9h-.9zM357.1 297.2h.9v.9h-.9zM363.9 284.2h.9v.9h-.9zM364.0 293.5h.9v.9h-.9zM367.6 291.6h.9v.9h-.9zM359.5 286.2h.9v.9h-.9zM374.6 293.5h.9v.9h-.9zM367.2 293.5h.9v.9h-.9zM371.1 279.2h.9v.9h-.9zM366.9 275.5h.9v.9h-.9zM374.2 281.5h.9v.9h-.9zM352.5 294.4h.9v.9h-.9zM385.8 311.3h.9v.9h-.9zM371.0 312.5h.9v.9h-.9zM372.2 297.0h.9v.9h-.9zM374.2 305.5h.9v.9h-.9zM379.8 294.4h.9v.9h-.9zM375.7 307.6h.9v.9h-.9zM369.7 294.5h.9v.9h-.9zM364.7 298.0h.9v.9h-.9zM347.1 289.0h.9v.9h-.9zM369.4 292.7h.9v.9h-.9zM363.1 318.2h.9v.9h-.9zM363.1 276.7h.9v.9h-.9zM344.6 284.8h.9v.9h-.9zM367.6 305.6h.9v.9h-.9zM381.4 317.1h.9v.9h-.9zM378.4 288.6h.9v.9h-.9zM381.8 255.5h.9v.9h-.9zM351.7 301.0h.9v.9h-.9zM355.4 301.0h.9v.9h-.9zM374.3 270.1h.9v.9h-.9zM363.4 289.5h.9v.9h-.9zM387.5 291.8h.9v.9h-.9zM369.7 261.7h.9v.9h-.9zM369.3 301.8h.9v.9h-.9zM372.2 298.6h.9v.9h-.9zM363.7 295.9h.9v.9h-.9zM368.4 278.5h.9v.9h-.9zM358.9 283.1h.9v.9h-.9zM366.5 284.2h.9v.9h-.9zM361.2 299.2h.9v.9h-.9zM370.0 279.5h.9v.9h-.9zM350.0 312.4h.9v.9h-.9zM349.1 297.8h.9v.9h-.9zM372.5 263.4h.9v.9h-.9zM369.7 315.4h.9v.9h-.9zM355.4 294.8h.9v.9h-.9zM364.3 285.3h.9v.9h-.9zM354.4 294.1h.9v.9h-.9zM391.5 268.1h.9v.9h-.9zM348.3 295.2h.9v.9h-.9zM387.6 259.5h.9v.9h-.9zM357.1 278.9h.9v.9h-.9zM372.1 310.9h.9v.9h-.9zM363.9 309.7h.9v.9h-.9zM362.5 288.0h.9v.9h-.9zM378.3 279.6h.9v.9h-.9zM376.8 305.2h.9v.9h-.9zM363.6 292.0h.9v.9h-.9zM356.1 295.5h.9v.9h-.9zM383.9 278.1h.9v.9h-.9zM368.7 303.3h.9v.9h-.9zM363.5 264.0h.9v.9h-.9zM370.6 312.4h.9v.9h-.9zM368.0 271.4h.9v.9h-.9zM381.4 284.1h.9v.9h-.9zM355.5 283.6h.9v.9h-.9zM367.3 302.4h.9v.9h-.9zM357.7 302.7h.9v.9h-.9zM382.7 297.4h.9v.9h-.9zM388.7 299.9h.9v.9h-.9zM366.0 298.9h.9v.9h-.9zM373.5 291.6h.9v.9h-.9zM383.9 266.7h.9v.9h-.9zM363.5 261.4h.9v.9h-.9zM355.9 261.4h.9v.9h-.9zM379.6 291.9h.9v.9h-.9zM373.2 289.5h.9v.9h-.9zM364.6 290.6h.9v.9h-.9zM384.6 295.6h.9v.9h-.9zM369.9 289.3h.9v.9h-.9zM345.7 279.0h.9v.9h-.9zM371.2 272.2h.9v.9h-.9zM366.4 266.8h.9v.9h-.9zM389.7 309.0h.9v.9h-.9zM366.9 304.8h.9v.9h-.9zM364.6 274.1h.9v.9h-.9zM372.3 288.8h.9v.9h-.9zM370.0 298.5h.9v.9h-.9zM350.2 314.1h.9v.9h-.9zM368.5 284.3h.9v.9h-.9zM363.2 294.8h.9v.9h-.9zM384.0 308.2h.9v.9h-.9zM395.9 268.9h.9v.9h-.9zM353.7 282.5h.9v.9h-.9zM355.5 291.9h.9v.9h-.9zM357.0 282.7h.9v.9h-.9zM359.2 321.1h.9v.9h-.9zM358.8 304.2h.9v.9h-.9zM367.8 295.1h.9v.9h-.9zM380.2 279.4h.9v.9h-.9zM351.5 304.2h.9v.9h-.9zM348.6 301.0h.9v.9h-.9zM345.0 285.4h.9v.9h-.9zM380.4 286.5h.9v.9h-.9zM383.0 272.6h.9v.9h-.9zM348.7 291.4h.9v.9h-.9zM347.5 304.2h.9v.9h-.9zM368.7 306.0h.9v.9h-.9zM380.2 300.3h.9v.9h-.9zM379.3 303.6h.9v.9h-.9zM369.4 284.4h.9v.9h-.9zM375.3 286.0h.9v.9h-.9zM371.1 308.7h.9v.9h-.9zM360.5 298.5h.9v.9h-.9zM367.1 299.2h.9v.9h-.9zM353.8 303.7h.9v.9h-.9zM361.5 302.0h.9v.9h-.9zM348.6 293.8h.9v.9h-.9zM367.3 285.4h.9v.9h-.9zM380.3 297.8h.9v.9h-.9zM351.9 315.4h.9v.9h-.9zM380.7 294.4h.9v.9h-.9zM371.7 297.0h.9v.9h-.9zM353.2 275.6h.9v.9h-.9zM356.9 295.5h.9v.9h-.9zM363.1 288.3h.9v.9h-.9zM351.7 305.3h.9v.9h-.9zM352.1 293.7h.9v.9h-.9zM364.0 306.6h.9v.9h-.9zM374.4 289.4h.9v.9h-.9zM352.7 281.0h.9v.9h-.9zM389.6 298.6h.9v.9h-.9zM379.9 291.1h.9v.9h-.9zM377.8 294.2h.9v.9h-.9zM359.3 284.2h.9v.9h-.9zM388.0 299.9h.9v.9h-.9zM363.0 293.3h.9v.9h-.9zM388.9 263.1h.9v.9h-.9zM380.0 289.1h.9v.9h-.9zM356.4 296.8h.9v.9h-.9zM361.7 308.3h.9v.9h-.9zM389.6 284.5h.9v.9h-.9zM379.2 281.4h.9v.9h-.9zM365.3 307.9h.9v.9h-.9zM369.6 284.1h.9v.9h-.9zM369.5 293.7h.9v.9h-.9zM357.9 298.7h.9v.9h-.9zM364.7 302.3h.9v.9h-.9zM359.2 292.4h.9v.9h-.9zM362.0 277.3h.9v.9h-.9zM372.7 306.0h.9v.9h-.9zM355.6 286.4h.9v.9h-.9zM375.9 285.2h.9v.9h-.9zM368.5 319.4h.9v.9h-.9zM376.3 304.2h.9v.9h-.9zM377.8 278.0h.9v.9h-.9zM382.1 285.8h.9v.9h-.9zM374.7 289.0h.9v.9h-.9zM375.6 282.2h.9v.9h-.9zM365.0 266.4h.9v.9h-.9zM374.0 303.1h.9v.9h-.9zM356.3 302.8h.9v.9h-.9zM364.2 295.6h.9v.9h-.9zM376.1 286.8h.9v.9h-.9zM366.5 295.1h.9v.9h-.9zM372.5 300.9h.9v.9h-.9zM354.4 278.2h.9v.9h-.9zM383.6 287.8h.9v.9h-.9zM360.2 284.7h.9v.9h-.9zM371.9 301.7h.9v.9h-.9zM366.9 295.8h.9v.9h-.9zM378.4 274.7h.9v.9h-.9zM362.5 283.9h.9v.9h-.9zM355.1 316.1h.9v.9h-.9zM344.3 279.2h.9v.9h-.9zM363.5 294.3h.9v.9h-.9zM352.8 283.8h.9v.9h-.9zM373.6 309.1h.9v.9h-.9zM384.5 291.4h.9v.9h-.9zM340.4 286.3h.9v.9h-.9zM351.6 276.4h.9v.9h-.9zM370.9 288.9h.9v.9h-.9zM382.0 303.4h.9v.9h-.9zM370.8 301.3h.9v.9h-.9zM371.0 274.4h.9v.9h-.9zM373.2 313.2h.9v.9h-.9zM374.1 288.9h.9v.9h-.9zM386.9 278.0h.9v.9h-.9zM374.5 293.9h.9v.9h-.9zM352.2 283.8h.9v.9h-.9zM361.4 284.4h.9v.9h-.9zM369.7 283.7h.9v.9h-.9zM357.4 291.0h.9v.9h-.9zM364.0 285.5h.9v.9h-.9zM360.8 269.2h.9v.9h-.9zM358.7 299.2h.9v.9h-.9zM375.5 285.2h.9v.9h-.9zM362.4 308.3h.9v.9h-.9zM354.0 299.4h.9v.9h-.9zM358.5 300.5h.9v.9h-.9zM367.6 294.6h.9v.9h-.9zM370.3 287.8h.9v.9h-.9zM385.0 278.8h.9v.9h-.9zM373.1 296.8h.9v.9h-.9zM341.2 255.6h.9v.9h-.9zM371.7 287.2h.9v.9h-.9zM356.9 295.0h.9v.9h-.9zM350.8 286.5h.9v.9h-.9zM354.1 309.0h.9v.9h-.9zM388.7 301.6h.9v.9h-.9zM348.1 293.7h.9v.9h-.9zM359.6 286.8h.9v.9h-.9zM381.1 306.9h.9v.9h-.9zM375.2 283.0h.9v.9h-.9zM346.5 286.5h.9v.9h-.9zM365.8 302.2h.9v.9h-.9zM360.9 300.1h.9v.9h-.9zM364.8 319.5h.9v.9h-.9zM376.2 289.2h.9v.9h-.9zM360.2 266.9h.9v.9h-.9zM363.3 301.0h.9v.9h-.9zM384.7 309.0h.9v.9h-.9zM344.9 289.9h.9v.9h-.9zM362.6 313.0h.9v.9h-.9zM372.8 316.0h.9v.9h-.9zM352.1 283.2h.9v.9h-.9zM359.5 285.6h.9v.9h-.9zM351.2 275.3h.9v.9h-.9zM369.0 299.4h.9v.9h-.9zM359.6 301.7h.9v.9h-.9zM376.6 300.2h.9v.9h-.9zM379.4 275.5h.9v.9h-.9zM367.7 281.8h.9v.9h-.9zM362.5 272.9h.9v.9h-.9zM370.2 270.4h.9v.9h-.9zM367.8 274.0h.9v.9h-.9zM352.4 270.8h.9v.9h-.9zM380.0 289.6h.9v.9h-.9zM369.8 297.7h.9v.9h-.9zM376.6 300.4h.9v.9h-.9zM350.6 291.8h.9v.9h-.9zM377.7 283.0h.9v.9h-.9zM374.5 299.7h.9v.9h-.9zM349.5 288.1h.9v.9h-.9zM367.5 292.8h.9v.9h-.9zM366.4 287.9h.9v.9h-.9zM369.7 285.0h.9v.9h-.9zM364.3 292.5h.9v.9h-.9zM373.1 277.1h.9v.9h-.9zM361.5 306.1h.9v.9h-.9zM369.9 271.1h.9v.9h-.9zM358.7 298.2h.9v.9h-.9zM368.3 273.8h.9v.9h-.9zM379.1 312.3h.9v.9h-.9zM361.1 303.7h.9v.9h-.9zM375.1 281.1h.9v.9h-.9zM356.3 286.0h.9v.9h-.9zM362.6 276.9h.9v.9h-.9zM364.2 291.2h.9v.9h-.9zM382.1 297.5h.9v.9h-.9zM381.8 273.7h.9v.9h-.9zM349.3 308.6h.9v.9h-.9zM365.1 284.2h.9v.9h-.9zM378.1 295.7h.9v.9h-.9zM375.5 303.8h.9v.9h-.9zM354.8 299.3h.9v.9h-.9zM352.2 297.7h.9v.9h-.9zM377.7 289.4h.9v.9h-.9zM351.8 291.9h.9v.9h-.9zM374.1 294.0h.9v.9h-.9zM360.7 308.0h.9v.9h-.9zM366.9 272.4h.9v.9h-.9zM385.8 275.3h.9v.9h-.9zM377.2 279.1h.9v.9h-.9zM350.3 281.3h.9v.9h-.9zM370.9 306.7h.9v.9h-.9zM367.7 320.7h.9v.9h-.9zM365.8 310.1h.9v.9h-.9zM383.2 276.2h.9v.9h-.9zM346.2 293.0h.9v.9h-.9zM370.9 276.8h.9v.9h-.9zM368.5 298.0h.9v.9h-.9zM357.9 309.0h.9v.9h-.9zM387.9 299.9h.9v.9h-.9zM351.6 303.6h.9v.9h-.9zM367.3 290.0h.9v.9h-.9zM368.0 265.7h.9v.9h-.9zM340.4 265.5h.9v.9h-.9zM349.6 290.7h.9v.9h-.9zM355.2 299.7h.9v.9h-.9zM376.5 309.0h.9v.9h-.9zM378.5 287.3h.9v.9h-.9zM374.2 293.0h.9v.9h-.9zM369.9 295.4h.9v.9h-.9zM340.3 306.2h.9v.9h-.9zM369.6 291.1h.9v.9h-.9zM360.7 277.4h.9v.9h-.9zM381.2 306.5h.9v.9h-.9zM383.3 297.5h.9v.9h-.9zM375.6 275.0h.9v.9h-.9zM376.9 291.9h.9v.9h-.9zM354.4 269.0h.9v.9h-.9zM367.9 265.2h.9v.9h-.9zM352.0 288.8h.9v.9h-.9zM377.9 286.2h.9v.9h-.9zM352.4 299.6h.9v.9h-.9zM364.3 311.2h.9v.9h-.9zM357.0 291.5h.9v.9h-.9zM361.2 315.9h.9v.9h-.9zM372.5 284.1h.9v.9h-.9zM360.1 302.2h.9v.9h-.9zM369.6 275.1h.9v.9h-.9zM354.7 293.7h.9v.9h-.9zM383.9 287.8h.9v.9h-.9zM359.1 289.2h.9v.9h-.9zM379.2 299.9h.9v.9h-.9zM392.9 266.8h.9v.9h-.9zM337.3 293.5h.9v.9h-.9zM354.9 281.2h.9v.9h-.9zM364.4 293.6h.9v.9h-.9zM381.2 297.2h.9v.9h-.9zM361.0 287.0h.9v.9h-.9zM371.5 287.0h.9v.9h-.9zM358.0 276.6h.9v.9h-.9zM373.8 299.3h.9v.9h-.9zM352.1 283.0h.9v.9h-.9zM377.1 297.9h.9v.9h-.9zM330.5 273.0h.9v.9h-.9zM343.9 310.2h.9v.9h-.9zM389.1 278.4h.9v.9h-.9zM369.0 307.4h.9v.9h-.9zM356.0 286.0h.9v.9h-.9zM379.7 290.1h.9v.9h-.9zM380.6 301.1h.9v.9h-.9zM361.7 292.1h.9v.9h-.9zM374.5 308.9h.9v.9h-.9zM373.1 301.0h.9v.9h-.9zM346.6 301.1h.9v.9h-.9zM374.1 314.3h.9v.9h-.9zM364.6 282.7h.9v.9h-.9zM382.6 309.4h.9v.9h-.9zM382.8 292.9h.9v.9h-.9zM359.0 272.3h.9v.9h-.9zM359.5 298.4h.9v.9h-.9zM369.2 289.3h.9v.9h-.9zM374.9 314.5h.9v.9h-.9zM361.8 285.4h.9v.9h-.9zM365.5 292.7h.9v.9h-.9zM374.3 295.1h.9v.9h-.9zM372.0 266.6h.9v.9h-.9zM381.1 298.8h.9v.9h-.9zM369.8 278.7h.9v.9h-.9zM356.0 310.8h.9v.9h-.9zM345.2 314.2h.9v.9h-.9zM376.8 291.9h.9v.9h-.9zM362.7 270.9h.9v.9h-.9zM362.6 294.4h.9v.9h-.9zM363.3 294.3h.9v.9h-.9zM347.6 301.6h.9v.9h-.9zM362.0 288.0h.9v.9h-.9zM334.9 276.1h.9v.9h-.9zM361.9 290.1h.9v.9h-.9zM355.8 279.7h.9v.9h-.9zM389.4 315.6h.9v.9h-.9zM372.3 282.6h.9v.9h-.9zM364.2 283.3h.9v.9h-.9zM368.8 291.4h.9v.9h-.9zM375.8 275.5h.9v.9h-.9zM357.5 286.1h.9v.9h-.9zM364.0 290.2h.9v.9h-.9zM362.4 285.5h.9v.9h-.9zM367.7 308.5h.9v.9h-.9zM342.6 297.8h.9v.9h-.9zM376.6 274.2h.9v.9h-.9z" fill="#111" fill-opacity=".7"/>
<path d="M384.7 255.8h.9v.9h-.9zM383.8 250.4h.9v.9h-.9zM368.0 261.2h.9v.9h-.9zM383.3 260.5h.9v.9h-.9zM377.9 253.6h.9v.9h-.9zM369.7 266.5h.9v.9h-.9zM382.5 262.0h.9v.9h-.9zM368.1 274.1h.9v.9h-.9zM383.8 254.1h.9v.9h-.9zM389.4 259.1h.9v.9h-.9zM374.1 252.0h.9v.9h-.9zM384.0 255.2h.9v.9h-.9zM380.8 259.1h.9v.9h-.9zM382.2 260.2h.9v.9h-.9zM368.2 262.5h.9v.9h-.9zM381.9 257.7h.9v.9h-.9zM378.6 256.0h.9v.9h-.9zM382.8 255.5h.9v.9h-.9zM377.7 261.2h.9v.9h-.9zM385.3 259.9h.9v.9h-.9zM379.6 262.3h.9v.9h-.9zM382.4 263.2h.9v.9h-.9zM387.2 262.6h.9v.9h-.9zM378.9 249.6h.9v.9h-.9zM384.6 254.5h.9v.9h-.9zM379.3 258.2h.9v.9h-.9zM381.3 254.9h.9v.9h-.9zM374.0 266.4h.9v.9h-.9zM383.1 261.7h.9v.9h-.9zM386.2 256.1h.9v.9h-.9zM377.1 260.4h.9v.9h-.9zM383.2 264.4h.9v.9h-.9zM380.7 256.7h.9v.9h-.9zM370.1 260.5h.9v.9h-.9zM380.1 263.5h.9v.9h-.9zM386.8 258.9h.9v.9h-.9zM374.4 268.2h.9v.9h-.9zM365.4 265.7h.9v.9h-.9zM379.1 263.0h.9v.9h-.9zM373.3 258.2h.9v.9h-.9zM390.8 250.1h.9v.9h-.9zM377.4 259.6h.9v.9h-.9zM377.7 245.6h.9v.9h-.9zM373.4 263.2h.9v.9h-.9zM379.5 264.1h.9v.9h-.9zM373.8 261.3h.9v.9h-.9zM371.5 260.5h.9v.9h-.9zM377.3 265.4h.9v.9h-.9zM372.2 261.3h.9v.9h-.9zM386.8 261.6h.9v.9h-.9zM369.7 273.9h.9v.9h-.9zM377.2 263.5h.9v.9h-.9zM373.0 266.1h.9v.9h-.9zM368.2 265.4h.9v.9h-.9zM389.2 257.0h.9v.9h-.9zM363.3 266.0h.9v.9h-.9zM387.7 256.5h.9v.9h-.9zM368.0 268.6h.9v.9h-.9zM378.4 250.9h.9v.9h-.9zM393.3 252.8h.9v.9h-.9zM363.1 268.0h.9v.9h-.9zM368.3 258.4h.9v.9h-.9zM386.8 255.9h.9v.9h-.9zM378.9 255.5h.9v.9h-.9zM374.0 263.2h.9v.9h-.9zM377.5 264.2h.9v.9h-.9zM371.1 269.5h.9v.9h-.9zM378.6 261.9h.9v.9h-.9zM388.0 252.3h.9v.9h-.9zM375.1 261.8h.9v.9h-.9zM378.7 262.2h.9v.9h-.9zM386.0 264.1h.9v.9h-.9zM391.4 243.6h.9v.9h-.9zM373.7 262.9h.9v.9h-.9zM379.8 249.2h.9v.9h-.9zM373.9 264.6h.9v.9h-.9zM373.3 263.4h.9v.9h-.9zM375.0 263.1h.9v.9h-.9zM373.4 265.7h.9v.9h-.9zM365.9 265.7h.9v.9h-.9zM364.1 260.8h.9v.9h-.9zM372.7 263.1h.9v.9h-.9zM378.7 265.6h.9v.9h-.9zM386.1 256.1h.9v.9h-.9zM374.1 261.0h.9v.9h-.9zM376.6 253.6h.9v.9h-.9zM382.3 264.1h.9v.9h-.9zM382.8 255.2h.9v.9h-.9zM377.0 255.9h.9v.9h-.9zM377.4 257.3h.9v.9h-.9zM390.6 250.6h.9v.9h-.9zM375.5 259.0h.9v.9h-.9zM374.4 267.4h.9v.9h-.9zM366.6 267.5h.9v.9h-.9zM380.7 266.0h.9v.9h-.9zM375.9 268.0h.9v.9h-.9zM390.8 250.4h.9v.9h-.9zM375.5 262.9h.9v.9h-.9zM383.3 265.5h.9v.9h-.9zM384.1 269.4h.9v.9h-.9zM389.0 248.3h.9v.9h-.9zM368.8 255.2h.9v.9h-.9zM388.5 258.3h.9v.9h-.9zM377.8 257.8h.9v.9h-.9zM377.0 254.6h.9v.9h-.9zM375.6 262.3h.9v.9h-.9zM375.0 256.3h.9v.9h-.9zM375.4 248.5h.9v.9h-.9zM361.8 264.9h.9v.9h-.9zM381.2 259.0h.9v.9h-.9zM378.2 262.7h.9v.9h-.9zM371.2 266.7h.9v.9h-.9zM377.3 260.7h.9v.9h-.9zM393.5 252.9h.9v.9h-.9zM380.3 255.2h.9v.9h-.9zM375.1 251.8h.9v.9h-.9zM389.5 253.2h.9v.9h-.9zM372.3 266.6h.9v.9h-.9zM376.7 263.3h.9v.9h-.9zM374.0 271.6h.9v.9h-.9zM376.1 259.3h.9v.9h-.9zM382.7 248.5h.9v.9h-.9zM381.7 262.5h.9v.9h-.9zM372.7 266.7h.9v.9h-.9zM376.9 253.7h.9v.9h-.9zM378.3 250.9h.9v.9h-.9zM374.9 261.3h.9v.9h-.9zM377.5 263.4h.9v.9h-.9zM372.8 255.3h.9v.9h-.9zM372.7 259.5h.9v.9h-.9zM378.0 255.4h.9v.9h-.9zM370.7 255.7h.9v.9h-.9zM380.6 251.6h.9v.9h-.9zM376.4 260.7h.9v.9h-.9zM371.4 259.7h.9v.9h-.9zM373.5 257.4h.9v.9h-.9zM374.5 247.0h.9v.9h-.9zM376.6 269.1h.9v.9h-.9zM378.5 254.3h.9v.9h-.9zM376.3 259.3h.9v.9h-.9zM371.8 255.6h.9v.9h-.9zM387.5 258.2h.9v.9h-.9zM383.9 249.5h.9v.9h-.9zM378.5 259.8h.9v.9h-.9zM384.2 256.3h.9v.9h-.9zM379.9 263.6h.9v.9h-.9zM376.0 254.4h.9v.9h-.9zM378.3 255.9h.9v.9h-.9zM395.9 252.1h.9v.9h-.9zM384.5 268.2h.9v.9h-.9zM384.8 249.3h.9v.9h-.9zM375.0 262.0h.9v.9h-.9zM381.8 254.7h.9v.9h-.9zM393.1 255.9h.9v.9h-.9zM380.6 261.9h.9v.9h-.9zM385.0 257.7h.9v.9h-.9zM386.3 257.9h.9v.9h-.9zM382.1 259.5h.9v.9h-.9zM388.4 252.7h.9v.9h-.9zM379.3 257.8h.9v.9h-.9zM381.1 249.6h.9v.9h-.9zM373.4 259.1h.9v.9h-.9zM395.6 249.3h.9v.9h-.9zM379.8 257.4h.9v.9h-.9zM378.5 263.1h.9v.9h-.9zM387.1 258.3h.9v.9h-.9zM374.4 263.1h.9v.9h-.9zM377.7 265.3h.9v.9h-.9zM372.4 248.8h.9v.9h-.9zM377.9 261.7h.9v.9h-.9zM375.1 260.3h.9v.9h-.9zM381.4 257.7h.9v.9h-.9zM376.8 252.9h.9v.9h-.9zM373.6 263.8h.9v.9h-.9zM375.7 266.2h.9v.9h-.9zM376.9 265.1h.9v.9h-.9zM374.2 260.2h.9v.9h-.9zM384.0 260.6h.9v.9h-.9zM382.3 262.7h.9v.9h-.9zM378.7 268.7h.9v.9h-.9zM369.6 268.7h.9v.9h-.9zM381.2 259.0h.9v.9h-.9zM369.0 262.9h.9v.9h-.9zM378.9 259.9h.9v.9h-.9zM378.0 260.5h.9v.9h-.9zM373.7 258.2h.9v.9h-.9zM372.1 265.4h.9v.9h-.9zM373.0 257.4h.9v.9h-.9zM391.6 250.5h.9v.9h-.9zM375.9 261.9h.9v.9h-.9zM376.3 256.9h.9v.9h-.9zM384.2 256.0h.9v.9h-.9zM380.5 247.6h.9v.9h-.9zM384.8 261.2h.9v.9h-.9zM369.4 262.3h.9v.9h-.9zM370.3 261.3h.9v.9h-.9zM400.2 254.2h.9v.9h-.9zM377.4 260.7h.9v.9h-.9zM375.7 256.5h.9v.9h-.9zM378.8 269.6h.9v.9h-.9zM384.4 254.8h.9v.9h-.9zM369.6 267.3h.9v.9h-.9zM379.6 268.4h.9v.9h-.9zM377.5 256.3h.9v.9h-.9zM382.2 258.4h.9v.9h-.9zM378.9 254.8h.9v.9h-.9zM374.1 266.2h.9v.9h-.9zM371.8 259.7h.9v.9h-.9zM361.2 259.3h.9v.9h-.9zM384.3 264.1h.9v.9h-.9zM367.8 267.7h.9v.9h-.9zM375.0 255.7h.9v.9h-.9zM388.9 261.8h.9v.9h-.9zM374.9 261.4h.9v.9h-.9zM381.8 272.3h.9v.9h-.9zM376.3 268.9h.9v.9h-.9zM382.4 254.9h.9v.9h-.9zM377.9 258.0h.9v.9h-.9zM374.3 256.0h.9v.9h-.9zM386.8 257.0h.9v.9h-.9z" fill="#000" fill-opacity=".9"/>
<path d="M81.9 202.2V322.2M40.5 274.6H152.3" stroke="#4646aa" stroke-width="1.25"/>
<path d="M128.3 208.3V237.3M113.7 221.8H144.7" stroke="#5a5a5a" stroke-width="1.3"/>
<text x="125.0" y="219.0" font-size="8.2" text-anchor="end" font-family="&quot;Liberation Sans&quot;, sans-serif" font-weight="bold" stroke="#000" stroke-width="0.35">2</text>
<text x="131.9" y="219.0" font-size="8.2" font-family="&quot;Liberation Sans&quot;, sans-serif" font-weight="bold" stroke="#000" stroke-width="0.35">59</text>
<text x="125.0" y="232.4" font-size="8.2" text-anchor="end" font-family="&quot;Liberation Sans&quot;, sans-serif" font-weight="bold" stroke="#000" stroke-width="0.35">3</text>
<text x="131.9" y="232.4" font-size="8.2" font-family="&quot;Liberation Sans&quot;, sans-serif" font-weight="bold" stroke="#000" stroke-width="0.35">37</text>
<path d="M36.9 213.6H40.5M36.9 241.5H40.5M37.3 294.9H40.5M38.3 217.3H40.5M38.3 221.5H40.5M38.3 224.5H40.5M38.3 228.2H40.5M38.3 232.7H40.5M38.3 245.5H40.5M38.3 250.0H40.5M38.3 254.5H40.5M38.3 258.2H40.5M38.3 275.5H40.5M38.3 278.5H40.5M38.3 282.6H40.5M38.3 297.0H40.5M38.3 307.2H40.5M38.3 311.3H40.5M38.3 318.4H40.5M116.9 322.2V325.6M141.7 322.2V325.6M44.5 322.2V324.8M46.5 322.2V324.8M48.5 322.2V324.8M50.5 322.2V324.8M52.5 322.2V324.8M54.5 322.2V324.8M56.5 322.2V324.8M58.5 322.2V324.8M60.5 322.2V324.8M62.5 322.2V324.8M64.5 322.2V324.8M71.5 322.2V324.8M74.9 322.2V324.8M77.8 322.2V324.8M80.7 322.2V324.8M85.3 322.2V324.8M88.7 322.2V324.8M91.0 322.2V324.8M97.3 322.2V324.8M100.2 322.2V324.8M103.0 322.2V324.8M106.0 322.2V324.8M108.3 322.2V324.8M110.6 322.2V324.8M122.7 322.2V324.8M126.1 322.2V324.8M129.6 322.2V324.8M132.5 322.2V324.8M134.8 322.2V324.8M137.1 322.2V324.8M139.4 322.2V324.8M146.3 322.2V324.8M149.2 322.2V324.8" stroke="#222" stroke-width=".9"/>
<path d="M213.4 202.4V322.4M176.0 273.3H287.7" stroke="#4646aa" stroke-width="1.25"/>
<path d="M267.5 207.7V236.7M251.9 221.2H283.5" stroke="#5a5a5a" stroke-width="1.3"/>
<text x="264.2" y="218.4" font-size="8.2" text-anchor="end" font-family="&quot;Liberation Sans&quot;, sans-serif" font-weight="bold" stroke="#000" stroke-width="0.35">14</text>
<text x="271.1" y="218.4" font-size="8.2" font-family="&quot;Liberation Sans&quot;, sans-serif" font-weight="bold" stroke="#000" stroke-width="0.35">7</text>
<text x="264.2" y="231.8" font-size="8.2" text-anchor="end" font-family="&quot;Liberation Sans&quot;, sans-serif" font-weight="bold" stroke="#000" stroke-width="0.35">53</text>
<text x="271.1" y="231.8" font-size="8.2" font-family="&quot;Liberation Sans&quot;, sans-serif" font-weight="bold" stroke="#000" stroke-width="0.35">27</text>
<path d="M172.4 213.8H176.0M172.4 241.7H176.0M172.8 295.1H176.0M173.8 217.5H176.0M173.8 221.7H176.0M173.8 224.7H176.0M173.8 228.4H176.0M173.8 232.9H176.0M173.8 245.7H176.0M173.8 250.2H176.0M173.8 254.7H176.0M173.8 258.4H176.0M173.8 275.7H176.0M173.8 278.7H176.0M173.8 282.8H176.0M173.8 297.2H176.0M173.8 307.4H176.0M173.8 311.5H176.0M173.8 318.6H176.0M252.4 322.4V325.8M277.2 322.4V325.8M180.0 322.4V325.0M182.0 322.4V325.0M184.0 322.4V325.0M186.0 322.4V325.0M188.0 322.4V325.0M190.0 322.4V325.0M192.0 322.4V325.0M194.0 322.4V325.0M196.0 322.4V325.0M198.0 322.4V325.0M200.0 322.4V325.0M207.0 322.4V325.0M210.4 322.4V325.0M213.3 322.4V325.0M216.2 322.4V325.0M220.8 322.4V325.0M224.2 322.4V325.0M226.5 322.4V325.0M232.8 322.4V325.0M235.7 322.4V325.0M238.5 322.4V325.0M241.5 322.4V325.0M243.8 322.4V325.0M246.1 322.4V325.0M258.2 322.4V325.0M261.6 322.4V325.0M265.1 322.4V325.0M268.0 322.4V325.0M270.3 322.4V325.0M272.6 322.4V325.0M274.9 322.4V325.0M281.8 322.4V325.0M284.7 322.4V325.0" stroke="#222" stroke-width=".9"/>
<path d="M350.2 202.7V323.2M309.5 275.2H421.6" stroke="#4646aa" stroke-width="1.25"/>
<path d="M400.2 207.5V236.5M384.0 221.0H415.3" stroke="#5a5a5a" stroke-width="1.3"/>
<text x="396.9" y="218.0" font-size="8.2" text-anchor="end" font-family="&quot;Liberation Sans&quot;, sans-serif" font-weight="bold" stroke="#000" stroke-width="0.35">6</text>
<text x="403.8" y="218.0" font-size="8.2" font-family="&quot;Liberation Sans&quot;, sans-serif" font-weight="bold" stroke="#000" stroke-width="0.35">58</text>
<text x="396.9" y="231.4" font-size="8.2" text-anchor="end" font-family="&quot;Liberation Sans&quot;, sans-serif" font-weight="bold" stroke="#000" stroke-width="0.35">16</text>
<text x="403.8" y="231.4" font-size="8.2" font-family="&quot;Liberation Sans&quot;, sans-serif" font-weight="bold" stroke="#000" stroke-width="0.35">20</text>
<path d="M305.9 214.1H309.5M305.9 242.0H309.5M306.3 295.4H309.5M307.3 217.8H309.5M307.3 222.0H309.5M307.3 225.0H309.5M307.3 228.7H309.5M307.3 233.2H309.5M307.3 246.0H309.5M307.3 250.5H309.5M307.3 255.0H309.5M307.3 258.7H309.5M307.3 276.0H309.5M307.3 279.0H309.5M307.3 283.1H309.5M307.3 297.5H309.5M307.3 307.7H309.5M307.3 311.8H309.5M307.3 318.9H309.5M385.9 323.2V326.6M410.7 323.2V326.6M313.5 323.2V325.8M315.5 323.2V325.8M317.5 323.2V325.8M319.5 323.2V325.8M321.5 323.2V325.8M323.5 323.2V325.8M325.5 323.2V325.8M327.5 323.2V325.8M329.5 323.2V325.8M331.5 323.2V325.8M333.5 323.2V325.8M340.5 323.2V325.8M343.9 323.2V325.8M346.8 323.2V325.8M349.7 323.2V325.8M354.3 323.2V325.8M357.7 323.2V325.8M360.0 323.2V325.8M366.3 323.2V325.8M369.2 323.2V325.8M372.0 323.2V325.8M375.0 323.2V325.8M377.3 323.2V325.8M379.6 323.2V325.8M391.7 323.2V325.8M395.1 323.2V325.8M398.6 323.2V325.8M401.5 323.2V325.8M403.8 323.2V325.8M406.1 323.2V325.8M408.4 323.2V325.8M415.3 323.2V325.8M418.2 323.2V325.8" stroke="#222" stroke-width=".9"/>
</svg>
</body></html>
